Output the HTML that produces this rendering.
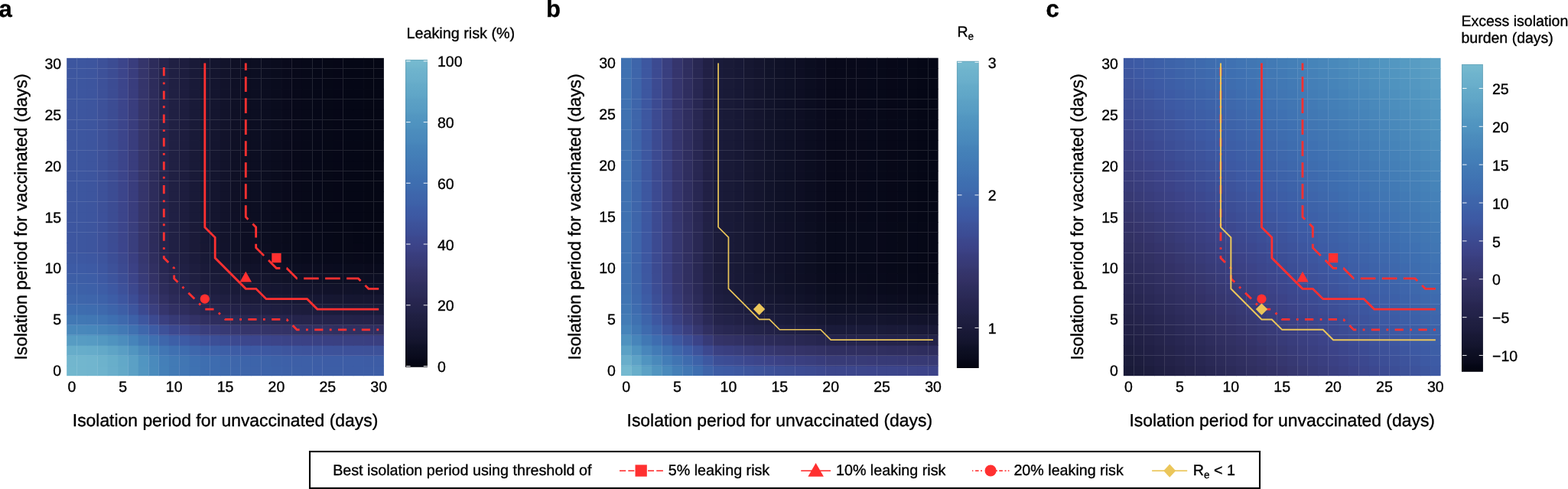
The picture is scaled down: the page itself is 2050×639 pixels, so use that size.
<!DOCTYPE html>
<html><head><meta charset="utf-8"><title>Isolation period heatmaps</title>
<style>html,body{margin:0;padding:0;background:#fff;width:2050px;height:639px;overflow:hidden}svg text{stroke:#000;stroke-width:0.35px}</style>
</head><body>
<svg width="2050" height="639" viewBox="0 0 2050 639" text-rendering="geometricPrecision" style="display:block;font-family:'Liberation Sans',Arial,Helvetica,sans-serif;fill:#000">
<rect x="0" y="0" width="2050" height="639" fill="#fff"/>
<text x="-1.6" y="21.6" style="font-weight:bold;font-size:31px">a</text>
<text x="714.0" y="21.6" style="font-weight:bold;font-size:31px">b</text>
<text x="1367.6" y="21.6" style="font-weight:bold;font-size:31px">c</text>
<rect x="87.2" y="477.76" width="14.08" height="13.4" fill="#72b7ce"/>
<rect x="100.58" y="477.76" width="14.08" height="13.4" fill="#72b6ce"/>
<rect x="113.95" y="477.76" width="14.08" height="13.4" fill="#71b5ce"/>
<rect x="127.33" y="477.76" width="14.08" height="13.4" fill="#6eb3cd"/>
<rect x="140.71" y="477.76" width="14.08" height="13.4" fill="#69aecb"/>
<rect x="154.09" y="477.76" width="14.08" height="13.4" fill="#63a9c8"/>
<rect x="167.46" y="477.76" width="14.08" height="13.4" fill="#5ba0c5"/>
<rect x="180.84" y="477.76" width="14.08" height="13.4" fill="#5296c1"/>
<rect x="194.22" y="477.76" width="14.08" height="13.4" fill="#4a8bbc"/>
<rect x="207.59" y="477.76" width="14.08" height="13.4" fill="#4480b8"/>
<rect x="220.97" y="477.76" width="14.08" height="13.4" fill="#427ab5"/>
<rect x="234.35" y="477.76" width="14.08" height="13.4" fill="#4176b4"/>
<rect x="247.72" y="477.76" width="14.08" height="13.4" fill="#3f72b2"/>
<rect x="261.1" y="477.76" width="14.08" height="13.4" fill="#3e6eb0"/>
<rect x="274.48" y="477.76" width="14.08" height="13.4" fill="#3e6caf"/>
<rect x="287.86" y="477.76" width="14.08" height="13.4" fill="#3e6aad"/>
<rect x="301.23" y="477.76" width="14.08" height="13.4" fill="#3e67ac"/>
<rect x="314.61" y="477.76" width="14.08" height="13.4" fill="#3e65aa"/>
<rect x="327.99" y="477.76" width="14.08" height="13.4" fill="#3e64aa"/>
<rect x="341.36" y="477.76" width="14.08" height="13.4" fill="#3d63aa"/>
<rect x="354.74" y="477.76" width="14.08" height="13.4" fill="#3d62a9"/>
<rect x="368.12" y="477.76" width="14.08" height="13.4" fill="#3d61a8"/>
<rect x="381.49" y="477.76" width="14.08" height="13.4" fill="#3d60a7"/>
<rect x="394.87" y="477.76" width="14.08" height="13.4" fill="#3d5fa7"/>
<rect x="408.25" y="477.76" width="14.08" height="13.4" fill="#3d5ea7"/>
<rect x="421.62" y="477.76" width="14.08" height="13.4" fill="#3d5ea6"/>
<rect x="435" y="477.76" width="14.08" height="13.4" fill="#3d5ea6"/>
<rect x="448.38" y="477.76" width="14.08" height="13.4" fill="#3d5da6"/>
<rect x="461.76" y="477.76" width="14.08" height="13.4" fill="#3d5da6"/>
<rect x="475.13" y="477.76" width="14.08" height="13.4" fill="#3d5da6"/>
<rect x="488.51" y="477.76" width="13.38" height="13.4" fill="#3d5da6"/>
<rect x="87.2" y="464.36" width="14.08" height="14.1" fill="#72b6ce"/>
<rect x="100.58" y="464.36" width="14.08" height="14.1" fill="#72b6ce"/>
<rect x="113.95" y="464.36" width="14.08" height="14.1" fill="#71b5ce"/>
<rect x="127.33" y="464.36" width="14.08" height="14.1" fill="#6db2cc"/>
<rect x="140.71" y="464.36" width="14.08" height="14.1" fill="#68aeca"/>
<rect x="154.09" y="464.36" width="14.08" height="14.1" fill="#62a8c8"/>
<rect x="167.46" y="464.36" width="14.08" height="14.1" fill="#5ba0c5"/>
<rect x="180.84" y="464.36" width="14.08" height="14.1" fill="#5195c1"/>
<rect x="194.22" y="464.36" width="14.08" height="14.1" fill="#4a8abc"/>
<rect x="207.59" y="464.36" width="14.08" height="14.1" fill="#447fb8"/>
<rect x="220.97" y="464.36" width="14.08" height="14.1" fill="#427ab5"/>
<rect x="234.35" y="464.36" width="14.08" height="14.1" fill="#4176b3"/>
<rect x="247.72" y="464.36" width="14.08" height="14.1" fill="#3f71b2"/>
<rect x="261.1" y="464.36" width="14.08" height="14.1" fill="#3e6eb0"/>
<rect x="274.48" y="464.36" width="14.08" height="14.1" fill="#3e6caf"/>
<rect x="287.86" y="464.36" width="14.08" height="14.1" fill="#3e69ad"/>
<rect x="301.23" y="464.36" width="14.08" height="14.1" fill="#3e66ab"/>
<rect x="314.61" y="464.36" width="14.08" height="14.1" fill="#3d64aa"/>
<rect x="327.99" y="464.36" width="14.08" height="14.1" fill="#3d64aa"/>
<rect x="341.36" y="464.36" width="14.08" height="14.1" fill="#3d63a9"/>
<rect x="354.74" y="464.36" width="14.08" height="14.1" fill="#3d61a8"/>
<rect x="368.12" y="464.36" width="14.08" height="14.1" fill="#3d60a8"/>
<rect x="381.49" y="464.36" width="14.08" height="14.1" fill="#3d5fa7"/>
<rect x="394.87" y="464.36" width="14.08" height="14.1" fill="#3d5fa7"/>
<rect x="408.25" y="464.36" width="14.08" height="14.1" fill="#3d5ea6"/>
<rect x="421.62" y="464.36" width="14.08" height="14.1" fill="#3d5da6"/>
<rect x="435" y="464.36" width="14.08" height="14.1" fill="#3d5da6"/>
<rect x="448.38" y="464.36" width="14.08" height="14.1" fill="#3d5da6"/>
<rect x="461.76" y="464.36" width="14.08" height="14.1" fill="#3d5da6"/>
<rect x="475.13" y="464.36" width="14.08" height="14.1" fill="#3d5ca5"/>
<rect x="488.51" y="464.36" width="13.38" height="14.1" fill="#3d5ca5"/>
<rect x="87.2" y="450.97" width="14.08" height="14.1" fill="#67adca"/>
<rect x="100.58" y="450.97" width="14.08" height="14.1" fill="#67adca"/>
<rect x="113.95" y="450.97" width="14.08" height="14.1" fill="#66acca"/>
<rect x="127.33" y="450.97" width="14.08" height="14.1" fill="#63a9c8"/>
<rect x="140.71" y="450.97" width="14.08" height="14.1" fill="#5ea4c6"/>
<rect x="154.09" y="450.97" width="14.08" height="14.1" fill="#599ec4"/>
<rect x="167.46" y="450.97" width="14.08" height="14.1" fill="#5195c0"/>
<rect x="180.84" y="450.97" width="14.08" height="14.1" fill="#4b8bbc"/>
<rect x="194.22" y="450.97" width="14.08" height="14.1" fill="#4480b8"/>
<rect x="207.59" y="450.97" width="14.08" height="14.1" fill="#4176b4"/>
<rect x="220.97" y="450.97" width="14.08" height="14.1" fill="#3f70b1"/>
<rect x="234.35" y="450.97" width="14.08" height="14.1" fill="#3e6caf"/>
<rect x="247.72" y="450.97" width="14.08" height="14.1" fill="#3e67ac"/>
<rect x="261.1" y="450.97" width="14.08" height="14.1" fill="#3d63aa"/>
<rect x="274.48" y="450.97" width="14.08" height="14.1" fill="#3d61a8"/>
<rect x="287.86" y="450.97" width="14.08" height="14.1" fill="#3d5fa7"/>
<rect x="301.23" y="450.97" width="14.08" height="14.1" fill="#3d5ca5"/>
<rect x="314.61" y="450.97" width="14.08" height="14.1" fill="#3d59a3"/>
<rect x="327.99" y="450.97" width="14.08" height="14.1" fill="#3d59a3"/>
<rect x="341.36" y="450.97" width="14.08" height="14.1" fill="#3d58a2"/>
<rect x="354.74" y="450.97" width="14.08" height="14.1" fill="#3d57a0"/>
<rect x="368.12" y="450.97" width="14.08" height="14.1" fill="#3d559e"/>
<rect x="381.49" y="450.97" width="14.08" height="14.1" fill="#3d549d"/>
<rect x="394.87" y="450.97" width="14.08" height="14.1" fill="#3d539c"/>
<rect x="408.25" y="450.97" width="14.08" height="14.1" fill="#3d539b"/>
<rect x="421.62" y="450.97" width="14.08" height="14.1" fill="#3d529b"/>
<rect x="435" y="450.97" width="14.08" height="14.1" fill="#3d529a"/>
<rect x="448.38" y="450.97" width="14.08" height="14.1" fill="#3d519a"/>
<rect x="461.76" y="450.97" width="14.08" height="14.1" fill="#3d519a"/>
<rect x="475.13" y="450.97" width="14.08" height="14.1" fill="#3d5199"/>
<rect x="488.51" y="450.97" width="13.38" height="14.1" fill="#3d5199"/>
<rect x="87.2" y="437.57" width="14.08" height="14.1" fill="#579cc3"/>
<rect x="100.58" y="437.57" width="14.08" height="14.1" fill="#579cc3"/>
<rect x="113.95" y="437.57" width="14.08" height="14.1" fill="#569bc3"/>
<rect x="127.33" y="437.57" width="14.08" height="14.1" fill="#5398c1"/>
<rect x="140.71" y="437.57" width="14.08" height="14.1" fill="#4f93bf"/>
<rect x="154.09" y="437.57" width="14.08" height="14.1" fill="#4c8dbd"/>
<rect x="167.46" y="437.57" width="14.08" height="14.1" fill="#4684ba"/>
<rect x="180.84" y="437.57" width="14.08" height="14.1" fill="#427ab5"/>
<rect x="194.22" y="437.57" width="14.08" height="14.1" fill="#3f70b1"/>
<rect x="207.59" y="437.57" width="14.08" height="14.1" fill="#3e66ab"/>
<rect x="220.97" y="437.57" width="14.08" height="14.1" fill="#3d5fa7"/>
<rect x="234.35" y="437.57" width="14.08" height="14.1" fill="#3d5ba5"/>
<rect x="247.72" y="437.57" width="14.08" height="14.1" fill="#3d569f"/>
<rect x="261.1" y="437.57" width="14.08" height="14.1" fill="#3d519a"/>
<rect x="274.48" y="437.57" width="14.08" height="14.1" fill="#3c4f97"/>
<rect x="287.86" y="437.57" width="14.08" height="14.1" fill="#3c4c94"/>
<rect x="301.23" y="437.57" width="14.08" height="14.1" fill="#3c4990"/>
<rect x="314.61" y="437.57" width="14.08" height="14.1" fill="#3c478d"/>
<rect x="327.99" y="437.57" width="14.08" height="14.1" fill="#3c468d"/>
<rect x="341.36" y="437.57" width="14.08" height="14.1" fill="#3c458b"/>
<rect x="354.74" y="437.57" width="14.08" height="14.1" fill="#3c4489"/>
<rect x="368.12" y="437.57" width="14.08" height="14.1" fill="#3b4387"/>
<rect x="381.49" y="437.57" width="14.08" height="14.1" fill="#3b4286"/>
<rect x="394.87" y="437.57" width="14.08" height="14.1" fill="#3b4185"/>
<rect x="408.25" y="437.57" width="14.08" height="14.1" fill="#3a4184"/>
<rect x="421.62" y="437.57" width="14.08" height="14.1" fill="#3a4083"/>
<rect x="435" y="437.57" width="14.08" height="14.1" fill="#3a4082"/>
<rect x="448.38" y="437.57" width="14.08" height="14.1" fill="#3a4082"/>
<rect x="461.76" y="437.57" width="14.08" height="14.1" fill="#3a4081"/>
<rect x="475.13" y="437.57" width="14.08" height="14.1" fill="#3a3f81"/>
<rect x="488.51" y="437.57" width="13.38" height="14.1" fill="#3a3f80"/>
<rect x="87.2" y="424.17" width="14.08" height="14.1" fill="#4988bb"/>
<rect x="100.58" y="424.17" width="14.08" height="14.1" fill="#4988bb"/>
<rect x="113.95" y="424.17" width="14.08" height="14.1" fill="#4887bb"/>
<rect x="127.33" y="424.17" width="14.08" height="14.1" fill="#4683b9"/>
<rect x="140.71" y="424.17" width="14.08" height="14.1" fill="#447fb7"/>
<rect x="154.09" y="424.17" width="14.08" height="14.1" fill="#4279b5"/>
<rect x="167.46" y="424.17" width="14.08" height="14.1" fill="#3f71b1"/>
<rect x="180.84" y="424.17" width="14.08" height="14.1" fill="#3e67ac"/>
<rect x="194.22" y="424.17" width="14.08" height="14.1" fill="#3d5ca5"/>
<rect x="207.59" y="424.17" width="14.08" height="14.1" fill="#3d5199"/>
<rect x="220.97" y="424.17" width="14.08" height="14.1" fill="#3c4990"/>
<rect x="234.35" y="424.17" width="14.08" height="14.1" fill="#3c458b"/>
<rect x="247.72" y="424.17" width="14.08" height="14.1" fill="#3a4183"/>
<rect x="261.1" y="424.17" width="14.08" height="14.1" fill="#393d7c"/>
<rect x="274.48" y="424.17" width="14.08" height="14.1" fill="#383b78"/>
<rect x="287.86" y="424.17" width="14.08" height="14.1" fill="#373974"/>
<rect x="301.23" y="424.17" width="14.08" height="14.1" fill="#363770"/>
<rect x="314.61" y="424.17" width="14.08" height="14.1" fill="#35356b"/>
<rect x="327.99" y="424.17" width="14.08" height="14.1" fill="#35346b"/>
<rect x="341.36" y="424.17" width="14.08" height="14.1" fill="#343469"/>
<rect x="354.74" y="424.17" width="14.08" height="14.1" fill="#343367"/>
<rect x="368.12" y="424.17" width="14.08" height="14.1" fill="#333266"/>
<rect x="381.49" y="424.17" width="14.08" height="14.1" fill="#323164"/>
<rect x="394.87" y="424.17" width="14.08" height="14.1" fill="#313063"/>
<rect x="408.25" y="424.17" width="14.08" height="14.1" fill="#313062"/>
<rect x="421.62" y="424.17" width="14.08" height="14.1" fill="#313062"/>
<rect x="435" y="424.17" width="14.08" height="14.1" fill="#302f61"/>
<rect x="448.38" y="424.17" width="14.08" height="14.1" fill="#302f61"/>
<rect x="461.76" y="424.17" width="14.08" height="14.1" fill="#302f60"/>
<rect x="475.13" y="424.17" width="14.08" height="14.1" fill="#302f60"/>
<rect x="488.51" y="424.17" width="13.38" height="14.1" fill="#302f60"/>
<rect x="87.2" y="410.77" width="14.08" height="14.1" fill="#4178b4"/>
<rect x="100.58" y="410.77" width="14.08" height="14.1" fill="#4178b4"/>
<rect x="113.95" y="410.77" width="14.08" height="14.1" fill="#4177b4"/>
<rect x="127.33" y="410.77" width="14.08" height="14.1" fill="#4074b3"/>
<rect x="140.71" y="410.77" width="14.08" height="14.1" fill="#3e6fb1"/>
<rect x="154.09" y="410.77" width="14.08" height="14.1" fill="#3e69ad"/>
<rect x="167.46" y="410.77" width="14.08" height="14.1" fill="#3d61a8"/>
<rect x="180.84" y="410.77" width="14.08" height="14.1" fill="#3d569f"/>
<rect x="194.22" y="410.77" width="14.08" height="14.1" fill="#3c4a91"/>
<rect x="207.59" y="410.77" width="14.08" height="14.1" fill="#3a3f80"/>
<rect x="220.97" y="410.77" width="14.08" height="14.1" fill="#373a76"/>
<rect x="234.35" y="410.77" width="14.08" height="14.1" fill="#35366e"/>
<rect x="247.72" y="410.77" width="14.08" height="14.1" fill="#333267"/>
<rect x="261.1" y="410.77" width="14.08" height="14.1" fill="#302f61"/>
<rect x="274.48" y="410.77" width="14.08" height="14.1" fill="#2e2d5e"/>
<rect x="287.86" y="410.77" width="14.08" height="14.1" fill="#2d2c5a"/>
<rect x="301.23" y="410.77" width="14.08" height="14.1" fill="#2b2a57"/>
<rect x="314.61" y="410.77" width="14.08" height="14.1" fill="#292853"/>
<rect x="327.99" y="410.77" width="14.08" height="14.1" fill="#292853"/>
<rect x="341.36" y="410.77" width="14.08" height="14.1" fill="#282751"/>
<rect x="354.74" y="410.77" width="14.08" height="14.1" fill="#27264f"/>
<rect x="368.12" y="410.77" width="14.08" height="14.1" fill="#26254e"/>
<rect x="381.49" y="410.77" width="14.08" height="14.1" fill="#25244c"/>
<rect x="394.87" y="410.77" width="14.08" height="14.1" fill="#25244b"/>
<rect x="408.25" y="410.77" width="14.08" height="14.1" fill="#24234b"/>
<rect x="421.62" y="410.77" width="14.08" height="14.1" fill="#24234a"/>
<rect x="435" y="410.77" width="14.08" height="14.1" fill="#24234a"/>
<rect x="448.38" y="410.77" width="14.08" height="14.1" fill="#232349"/>
<rect x="461.76" y="410.77" width="14.08" height="14.1" fill="#232249"/>
<rect x="475.13" y="410.77" width="14.08" height="14.1" fill="#232249"/>
<rect x="488.51" y="410.77" width="13.38" height="14.1" fill="#232248"/>
<rect x="87.2" y="397.38" width="14.08" height="14.1" fill="#3e6db0"/>
<rect x="100.58" y="397.38" width="14.08" height="14.1" fill="#3e6daf"/>
<rect x="113.95" y="397.38" width="14.08" height="14.1" fill="#3e6caf"/>
<rect x="127.33" y="397.38" width="14.08" height="14.1" fill="#3e69ad"/>
<rect x="140.71" y="397.38" width="14.08" height="14.1" fill="#3d64aa"/>
<rect x="154.09" y="397.38" width="14.08" height="14.1" fill="#3d5ea6"/>
<rect x="167.46" y="397.38" width="14.08" height="14.1" fill="#3d559e"/>
<rect x="180.84" y="397.38" width="14.08" height="14.1" fill="#3c4990"/>
<rect x="194.22" y="397.38" width="14.08" height="14.1" fill="#3a3f7f"/>
<rect x="207.59" y="397.38" width="14.08" height="14.1" fill="#35356d"/>
<rect x="220.97" y="397.38" width="14.08" height="14.1" fill="#313063"/>
<rect x="234.35" y="397.38" width="14.08" height="14.1" fill="#2e2d5d"/>
<rect x="247.72" y="397.38" width="14.08" height="14.1" fill="#2b2a56"/>
<rect x="261.1" y="397.38" width="14.08" height="14.1" fill="#272651"/>
<rect x="274.48" y="397.38" width="14.08" height="14.1" fill="#26254e"/>
<rect x="287.86" y="397.38" width="14.08" height="14.1" fill="#24234a"/>
<rect x="301.23" y="397.38" width="14.08" height="14.1" fill="#222147"/>
<rect x="314.61" y="397.38" width="14.08" height="14.1" fill="#202044"/>
<rect x="327.99" y="397.38" width="14.08" height="14.1" fill="#202043"/>
<rect x="341.36" y="397.38" width="14.08" height="14.1" fill="#1f1f42"/>
<rect x="354.74" y="397.38" width="14.08" height="14.1" fill="#1e1e40"/>
<rect x="368.12" y="397.38" width="14.08" height="14.1" fill="#1d1d3f"/>
<rect x="381.49" y="397.38" width="14.08" height="14.1" fill="#1d1d3d"/>
<rect x="394.87" y="397.38" width="14.08" height="14.1" fill="#1c1c3c"/>
<rect x="408.25" y="397.38" width="14.08" height="14.1" fill="#1c1c3c"/>
<rect x="421.62" y="397.38" width="14.08" height="14.1" fill="#1b1c3b"/>
<rect x="435" y="397.38" width="14.08" height="14.1" fill="#1b1b3b"/>
<rect x="448.38" y="397.38" width="14.08" height="14.1" fill="#1b1b3a"/>
<rect x="461.76" y="397.38" width="14.08" height="14.1" fill="#1b1b3a"/>
<rect x="475.13" y="397.38" width="14.08" height="14.1" fill="#1a1b3a"/>
<rect x="488.51" y="397.38" width="13.38" height="14.1" fill="#1a1b39"/>
<rect x="87.2" y="383.98" width="14.08" height="14.1" fill="#3e66ab"/>
<rect x="100.58" y="383.98" width="14.08" height="14.1" fill="#3e66ab"/>
<rect x="113.95" y="383.98" width="14.08" height="14.1" fill="#3e65ab"/>
<rect x="127.33" y="383.98" width="14.08" height="14.1" fill="#3d62a9"/>
<rect x="140.71" y="383.98" width="14.08" height="14.1" fill="#3d5da6"/>
<rect x="154.09" y="383.98" width="14.08" height="14.1" fill="#3d56a0"/>
<rect x="167.46" y="383.98" width="14.08" height="14.1" fill="#3c4d95"/>
<rect x="180.84" y="383.98" width="14.08" height="14.1" fill="#3b4286"/>
<rect x="194.22" y="383.98" width="14.08" height="14.1" fill="#373973"/>
<rect x="207.59" y="383.98" width="14.08" height="14.1" fill="#313062"/>
<rect x="220.97" y="383.98" width="14.08" height="14.1" fill="#2c2b59"/>
<rect x="234.35" y="383.98" width="14.08" height="14.1" fill="#292853"/>
<rect x="247.72" y="383.98" width="14.08" height="14.1" fill="#25244d"/>
<rect x="261.1" y="383.98" width="14.08" height="14.1" fill="#222247"/>
<rect x="274.48" y="383.98" width="14.08" height="14.1" fill="#212044"/>
<rect x="287.86" y="383.98" width="14.08" height="14.1" fill="#1f1f41"/>
<rect x="301.23" y="383.98" width="14.08" height="14.1" fill="#1d1d3e"/>
<rect x="314.61" y="383.98" width="14.08" height="14.1" fill="#1b1b3a"/>
<rect x="327.99" y="383.98" width="14.08" height="14.1" fill="#1b1b3a"/>
<rect x="341.36" y="383.98" width="14.08" height="14.1" fill="#1a1a39"/>
<rect x="354.74" y="383.98" width="14.08" height="14.1" fill="#191a37"/>
<rect x="368.12" y="383.98" width="14.08" height="14.1" fill="#181935"/>
<rect x="381.49" y="383.98" width="14.08" height="14.1" fill="#171834"/>
<rect x="394.87" y="383.98" width="14.08" height="14.1" fill="#171833"/>
<rect x="408.25" y="383.98" width="14.08" height="14.1" fill="#161733"/>
<rect x="421.62" y="383.98" width="14.08" height="14.1" fill="#161732"/>
<rect x="435" y="383.98" width="14.08" height="14.1" fill="#161731"/>
<rect x="448.38" y="383.98" width="14.08" height="14.1" fill="#151631"/>
<rect x="461.76" y="383.98" width="14.08" height="14.1" fill="#151630"/>
<rect x="475.13" y="383.98" width="14.08" height="14.1" fill="#151630"/>
<rect x="488.51" y="383.98" width="13.38" height="14.1" fill="#151630"/>
<rect x="87.2" y="370.58" width="14.08" height="14.1" fill="#3d62a9"/>
<rect x="100.58" y="370.58" width="14.08" height="14.1" fill="#3d61a8"/>
<rect x="113.95" y="370.58" width="14.08" height="14.1" fill="#3d60a8"/>
<rect x="127.33" y="370.58" width="14.08" height="14.1" fill="#3d5da6"/>
<rect x="140.71" y="370.58" width="14.08" height="14.1" fill="#3d58a2"/>
<rect x="154.09" y="370.58" width="14.08" height="14.1" fill="#3d519a"/>
<rect x="167.46" y="370.58" width="14.08" height="14.1" fill="#3c488e"/>
<rect x="180.84" y="370.58" width="14.08" height="14.1" fill="#393e7e"/>
<rect x="194.22" y="370.58" width="14.08" height="14.1" fill="#35356b"/>
<rect x="207.59" y="370.58" width="14.08" height="14.1" fill="#2d2c5b"/>
<rect x="220.97" y="370.58" width="14.08" height="14.1" fill="#292853"/>
<rect x="234.35" y="370.58" width="14.08" height="14.1" fill="#25244d"/>
<rect x="247.72" y="370.58" width="14.08" height="14.1" fill="#222146"/>
<rect x="261.1" y="370.58" width="14.08" height="14.1" fill="#1f1e41"/>
<rect x="274.48" y="370.58" width="14.08" height="14.1" fill="#1d1d3e"/>
<rect x="287.86" y="370.58" width="14.08" height="14.1" fill="#1b1c3b"/>
<rect x="301.23" y="370.58" width="14.08" height="14.1" fill="#191a38"/>
<rect x="314.61" y="370.58" width="14.08" height="14.1" fill="#171834"/>
<rect x="327.99" y="370.58" width="14.08" height="14.1" fill="#171834"/>
<rect x="341.36" y="370.58" width="14.08" height="14.1" fill="#161732"/>
<rect x="354.74" y="370.58" width="14.08" height="14.1" fill="#151631"/>
<rect x="368.12" y="370.58" width="14.08" height="14.1" fill="#14152f"/>
<rect x="381.49" y="370.58" width="14.08" height="14.1" fill="#13142d"/>
<rect x="394.87" y="370.58" width="14.08" height="14.1" fill="#12132c"/>
<rect x="408.25" y="370.58" width="14.08" height="14.1" fill="#12132b"/>
<rect x="421.62" y="370.58" width="14.08" height="14.1" fill="#11122a"/>
<rect x="435" y="370.58" width="14.08" height="14.1" fill="#111229"/>
<rect x="448.38" y="370.58" width="14.08" height="14.1" fill="#111229"/>
<rect x="461.76" y="370.58" width="14.08" height="14.1" fill="#101229"/>
<rect x="475.13" y="370.58" width="14.08" height="14.1" fill="#101128"/>
<rect x="488.51" y="370.58" width="13.38" height="14.1" fill="#101128"/>
<rect x="87.2" y="357.19" width="14.08" height="14.1" fill="#3d5ea6"/>
<rect x="100.58" y="357.19" width="14.08" height="14.1" fill="#3d5ea6"/>
<rect x="113.95" y="357.19" width="14.08" height="14.1" fill="#3d5da6"/>
<rect x="127.33" y="357.19" width="14.08" height="14.1" fill="#3d59a3"/>
<rect x="140.71" y="357.19" width="14.08" height="14.1" fill="#3d549d"/>
<rect x="154.09" y="357.19" width="14.08" height="14.1" fill="#3c4d95"/>
<rect x="167.46" y="357.19" width="14.08" height="14.1" fill="#3c4489"/>
<rect x="180.84" y="357.19" width="14.08" height="14.1" fill="#383b78"/>
<rect x="194.22" y="357.19" width="14.08" height="14.1" fill="#333266"/>
<rect x="207.59" y="357.19" width="14.08" height="14.1" fill="#2b2a56"/>
<rect x="220.97" y="357.19" width="14.08" height="14.1" fill="#26254d"/>
<rect x="234.35" y="357.19" width="14.08" height="14.1" fill="#222248"/>
<rect x="247.72" y="357.19" width="14.08" height="14.1" fill="#1f1f41"/>
<rect x="261.1" y="357.19" width="14.08" height="14.1" fill="#1c1c3c"/>
<rect x="274.48" y="357.19" width="14.08" height="14.1" fill="#1a1b39"/>
<rect x="287.86" y="357.19" width="14.08" height="14.1" fill="#181936"/>
<rect x="301.23" y="357.19" width="14.08" height="14.1" fill="#161733"/>
<rect x="314.61" y="357.19" width="14.08" height="14.1" fill="#14152f"/>
<rect x="327.99" y="357.19" width="14.08" height="14.1" fill="#14152e"/>
<rect x="341.36" y="357.19" width="14.08" height="14.1" fill="#13142c"/>
<rect x="354.74" y="357.19" width="14.08" height="14.1" fill="#11132a"/>
<rect x="368.12" y="357.19" width="14.08" height="14.1" fill="#101228"/>
<rect x="381.49" y="357.19" width="14.08" height="14.1" fill="#0f1127"/>
<rect x="394.87" y="357.19" width="14.08" height="14.1" fill="#0f1026"/>
<rect x="408.25" y="357.19" width="14.08" height="14.1" fill="#0e0f25"/>
<rect x="421.62" y="357.19" width="14.08" height="14.1" fill="#0d0f24"/>
<rect x="435" y="357.19" width="14.08" height="14.1" fill="#0d0f23"/>
<rect x="448.38" y="357.19" width="14.08" height="14.1" fill="#0d0e23"/>
<rect x="461.76" y="357.19" width="14.08" height="14.1" fill="#0d0e22"/>
<rect x="475.13" y="357.19" width="14.08" height="14.1" fill="#0c0e22"/>
<rect x="488.51" y="357.19" width="13.38" height="14.1" fill="#0c0e22"/>
<rect x="87.2" y="343.79" width="14.08" height="14.1" fill="#3d5ba5"/>
<rect x="100.58" y="343.79" width="14.08" height="14.1" fill="#3d5ba5"/>
<rect x="113.95" y="343.79" width="14.08" height="14.1" fill="#3d5aa4"/>
<rect x="127.33" y="343.79" width="14.08" height="14.1" fill="#3d56a0"/>
<rect x="140.71" y="343.79" width="14.08" height="14.1" fill="#3d5199"/>
<rect x="154.09" y="343.79" width="14.08" height="14.1" fill="#3c4a91"/>
<rect x="167.46" y="343.79" width="14.08" height="14.1" fill="#3b4185"/>
<rect x="180.84" y="343.79" width="14.08" height="14.1" fill="#373973"/>
<rect x="194.22" y="343.79" width="14.08" height="14.1" fill="#313062"/>
<rect x="207.59" y="343.79" width="14.08" height="14.1" fill="#282752"/>
<rect x="220.97" y="343.79" width="14.08" height="14.1" fill="#24234a"/>
<rect x="234.35" y="343.79" width="14.08" height="14.1" fill="#202044"/>
<rect x="247.72" y="343.79" width="14.08" height="14.1" fill="#1d1d3e"/>
<rect x="261.1" y="343.79" width="14.08" height="14.1" fill="#1a1a39"/>
<rect x="274.48" y="343.79" width="14.08" height="14.1" fill="#181936"/>
<rect x="287.86" y="343.79" width="14.08" height="14.1" fill="#161733"/>
<rect x="301.23" y="343.79" width="14.08" height="14.1" fill="#14152e"/>
<rect x="314.61" y="343.79" width="14.08" height="14.1" fill="#11132a"/>
<rect x="327.99" y="343.79" width="14.08" height="14.1" fill="#11122a"/>
<rect x="341.36" y="343.79" width="14.08" height="14.1" fill="#101128"/>
<rect x="354.74" y="343.79" width="14.08" height="14.1" fill="#0f1026"/>
<rect x="368.12" y="343.79" width="14.08" height="14.1" fill="#0d0f24"/>
<rect x="381.49" y="343.79" width="14.08" height="14.1" fill="#0c0e22"/>
<rect x="394.87" y="343.79" width="14.08" height="14.1" fill="#0c0d21"/>
<rect x="408.25" y="343.79" width="14.08" height="14.1" fill="#0b0d20"/>
<rect x="421.62" y="343.79" width="14.08" height="14.1" fill="#0b0c1f"/>
<rect x="435" y="343.79" width="14.08" height="14.1" fill="#0a0c1f"/>
<rect x="448.38" y="343.79" width="14.08" height="14.1" fill="#0a0c1e"/>
<rect x="461.76" y="343.79" width="14.08" height="14.1" fill="#0a0c1e"/>
<rect x="475.13" y="343.79" width="14.08" height="14.1" fill="#0a0b1d"/>
<rect x="488.51" y="343.79" width="13.38" height="14.1" fill="#090b1d"/>
<rect x="87.2" y="330.39" width="14.08" height="14.1" fill="#3d59a2"/>
<rect x="100.58" y="330.39" width="14.08" height="14.1" fill="#3d58a2"/>
<rect x="113.95" y="330.39" width="14.08" height="14.1" fill="#3d57a1"/>
<rect x="127.33" y="330.39" width="14.08" height="14.1" fill="#3d549d"/>
<rect x="140.71" y="330.39" width="14.08" height="14.1" fill="#3c4e96"/>
<rect x="154.09" y="330.39" width="14.08" height="14.1" fill="#3c488e"/>
<rect x="167.46" y="330.39" width="14.08" height="14.1" fill="#3a3f81"/>
<rect x="180.84" y="330.39" width="14.08" height="14.1" fill="#36376f"/>
<rect x="194.22" y="330.39" width="14.08" height="14.1" fill="#2f2e5e"/>
<rect x="207.59" y="330.39" width="14.08" height="14.1" fill="#27264f"/>
<rect x="220.97" y="330.39" width="14.08" height="14.1" fill="#222147"/>
<rect x="234.35" y="330.39" width="14.08" height="14.1" fill="#1f1f41"/>
<rect x="247.72" y="330.39" width="14.08" height="14.1" fill="#1b1b3b"/>
<rect x="261.1" y="330.39" width="14.08" height="14.1" fill="#181936"/>
<rect x="274.48" y="330.39" width="14.08" height="14.1" fill="#161733"/>
<rect x="287.86" y="330.39" width="14.08" height="14.1" fill="#14152f"/>
<rect x="301.23" y="330.39" width="14.08" height="14.1" fill="#11132a"/>
<rect x="314.61" y="330.39" width="14.08" height="14.1" fill="#0f1026"/>
<rect x="327.99" y="330.39" width="14.08" height="14.1" fill="#0f1026"/>
<rect x="341.36" y="330.39" width="14.08" height="14.1" fill="#0e0f24"/>
<rect x="354.74" y="330.39" width="14.08" height="14.1" fill="#0c0e22"/>
<rect x="368.12" y="330.39" width="14.08" height="14.1" fill="#0b0d20"/>
<rect x="381.49" y="330.39" width="14.08" height="14.1" fill="#0a0c1e"/>
<rect x="394.87" y="330.39" width="14.08" height="14.1" fill="#090b1d"/>
<rect x="408.25" y="330.39" width="14.08" height="14.1" fill="#090b1c"/>
<rect x="421.62" y="330.39" width="14.08" height="14.1" fill="#080a1b"/>
<rect x="435" y="330.39" width="14.08" height="14.1" fill="#080a1b"/>
<rect x="448.38" y="330.39" width="14.08" height="14.1" fill="#080a1a"/>
<rect x="461.76" y="330.39" width="14.08" height="14.1" fill="#08091a"/>
<rect x="475.13" y="330.39" width="14.08" height="14.1" fill="#070919"/>
<rect x="488.51" y="330.39" width="13.38" height="14.1" fill="#070919"/>
<rect x="87.2" y="317" width="14.08" height="14.1" fill="#3d56a0"/>
<rect x="100.58" y="317" width="14.08" height="14.1" fill="#3d569f"/>
<rect x="113.95" y="317" width="14.08" height="14.1" fill="#3d559e"/>
<rect x="127.33" y="317" width="14.08" height="14.1" fill="#3d519a"/>
<rect x="140.71" y="317" width="14.08" height="14.1" fill="#3c4c94"/>
<rect x="154.09" y="317" width="14.08" height="14.1" fill="#3c458c"/>
<rect x="167.46" y="317" width="14.08" height="14.1" fill="#393e7d"/>
<rect x="180.84" y="317" width="14.08" height="14.1" fill="#35356c"/>
<rect x="194.22" y="317" width="14.08" height="14.1" fill="#2d2c5c"/>
<rect x="207.59" y="317" width="14.08" height="14.1" fill="#25244c"/>
<rect x="220.97" y="317" width="14.08" height="14.1" fill="#202044"/>
<rect x="234.35" y="317" width="14.08" height="14.1" fill="#1d1d3e"/>
<rect x="247.72" y="317" width="14.08" height="14.1" fill="#1a1a38"/>
<rect x="261.1" y="317" width="14.08" height="14.1" fill="#171733"/>
<rect x="274.48" y="317" width="14.08" height="14.1" fill="#14162f"/>
<rect x="287.86" y="317" width="14.08" height="14.1" fill="#12132c"/>
<rect x="301.23" y="317" width="14.08" height="14.1" fill="#0f1127"/>
<rect x="314.61" y="317" width="14.08" height="14.1" fill="#0d0e23"/>
<rect x="327.99" y="317" width="14.08" height="14.1" fill="#0d0e22"/>
<rect x="341.36" y="317" width="14.08" height="14.1" fill="#0c0d21"/>
<rect x="354.74" y="317" width="14.08" height="14.1" fill="#0a0c1e"/>
<rect x="368.12" y="317" width="14.08" height="14.1" fill="#090b1d"/>
<rect x="381.49" y="317" width="14.08" height="14.1" fill="#080a1b"/>
<rect x="394.87" y="317" width="14.08" height="14.1" fill="#07091a"/>
<rect x="408.25" y="317" width="14.08" height="14.1" fill="#070919"/>
<rect x="421.62" y="317" width="14.08" height="14.1" fill="#060818"/>
<rect x="435" y="317" width="14.08" height="14.1" fill="#060817"/>
<rect x="448.38" y="317" width="14.08" height="14.1" fill="#060817"/>
<rect x="461.76" y="317" width="14.08" height="14.1" fill="#060717"/>
<rect x="475.13" y="317" width="14.08" height="14.1" fill="#050716"/>
<rect x="488.51" y="317" width="13.38" height="14.1" fill="#050716"/>
<rect x="87.2" y="303.6" width="14.08" height="14.1" fill="#3d56a0"/>
<rect x="100.58" y="303.6" width="14.08" height="14.1" fill="#3d569f"/>
<rect x="113.95" y="303.6" width="14.08" height="14.1" fill="#3d559e"/>
<rect x="127.33" y="303.6" width="14.08" height="14.1" fill="#3d519a"/>
<rect x="140.71" y="303.6" width="14.08" height="14.1" fill="#3c4c93"/>
<rect x="154.09" y="303.6" width="14.08" height="14.1" fill="#3c458b"/>
<rect x="167.46" y="303.6" width="14.08" height="14.1" fill="#393e7d"/>
<rect x="180.84" y="303.6" width="14.08" height="14.1" fill="#35356c"/>
<rect x="194.22" y="303.6" width="14.08" height="14.1" fill="#2d2c5b"/>
<rect x="207.59" y="303.6" width="14.08" height="14.1" fill="#25244c"/>
<rect x="220.97" y="303.6" width="14.08" height="14.1" fill="#202044"/>
<rect x="234.35" y="303.6" width="14.08" height="14.1" fill="#1d1d3e"/>
<rect x="247.72" y="303.6" width="14.08" height="14.1" fill="#1a1a38"/>
<rect x="261.1" y="303.6" width="14.08" height="14.1" fill="#161733"/>
<rect x="274.48" y="303.6" width="14.08" height="14.1" fill="#14152f"/>
<rect x="287.86" y="303.6" width="14.08" height="14.1" fill="#12132b"/>
<rect x="301.23" y="303.6" width="14.08" height="14.1" fill="#0f1127"/>
<rect x="314.61" y="303.6" width="14.08" height="14.1" fill="#0d0e23"/>
<rect x="327.99" y="303.6" width="14.08" height="14.1" fill="#0c0e22"/>
<rect x="341.36" y="303.6" width="14.08" height="14.1" fill="#0b0d20"/>
<rect x="354.74" y="303.6" width="14.08" height="14.1" fill="#0a0c1e"/>
<rect x="368.12" y="303.6" width="14.08" height="14.1" fill="#090b1c"/>
<rect x="381.49" y="303.6" width="14.08" height="14.1" fill="#080a1b"/>
<rect x="394.87" y="303.6" width="14.08" height="14.1" fill="#07091a"/>
<rect x="408.25" y="303.6" width="14.08" height="14.1" fill="#070919"/>
<rect x="421.62" y="303.6" width="14.08" height="14.1" fill="#060818"/>
<rect x="435" y="303.6" width="14.08" height="14.1" fill="#060817"/>
<rect x="448.38" y="303.6" width="14.08" height="14.1" fill="#060817"/>
<rect x="461.76" y="303.6" width="14.08" height="14.1" fill="#050716"/>
<rect x="475.13" y="303.6" width="14.08" height="14.1" fill="#050716"/>
<rect x="488.51" y="303.6" width="13.38" height="14.1" fill="#050715"/>
<rect x="87.2" y="290.2" width="14.08" height="14.1" fill="#3d56a0"/>
<rect x="100.58" y="290.2" width="14.08" height="14.1" fill="#3d569f"/>
<rect x="113.95" y="290.2" width="14.08" height="14.1" fill="#3d559e"/>
<rect x="127.33" y="290.2" width="14.08" height="14.1" fill="#3d519a"/>
<rect x="140.71" y="290.2" width="14.08" height="14.1" fill="#3c4c93"/>
<rect x="154.09" y="290.2" width="14.08" height="14.1" fill="#3c458b"/>
<rect x="167.46" y="290.2" width="14.08" height="14.1" fill="#393e7d"/>
<rect x="180.84" y="290.2" width="14.08" height="14.1" fill="#35356c"/>
<rect x="194.22" y="290.2" width="14.08" height="14.1" fill="#2d2c5b"/>
<rect x="207.59" y="290.2" width="14.08" height="14.1" fill="#25244c"/>
<rect x="220.97" y="290.2" width="14.08" height="14.1" fill="#202044"/>
<rect x="234.35" y="290.2" width="14.08" height="14.1" fill="#1d1d3e"/>
<rect x="247.72" y="290.2" width="14.08" height="14.1" fill="#1a1a38"/>
<rect x="261.1" y="290.2" width="14.08" height="14.1" fill="#161733"/>
<rect x="274.48" y="290.2" width="14.08" height="14.1" fill="#14152f"/>
<rect x="287.86" y="290.2" width="14.08" height="14.1" fill="#12132b"/>
<rect x="301.23" y="290.2" width="14.08" height="14.1" fill="#0f1127"/>
<rect x="314.61" y="290.2" width="14.08" height="14.1" fill="#0d0e23"/>
<rect x="327.99" y="290.2" width="14.08" height="14.1" fill="#0c0e22"/>
<rect x="341.36" y="290.2" width="14.08" height="14.1" fill="#0b0d20"/>
<rect x="354.74" y="290.2" width="14.08" height="14.1" fill="#0a0c1e"/>
<rect x="368.12" y="290.2" width="14.08" height="14.1" fill="#090b1c"/>
<rect x="381.49" y="290.2" width="14.08" height="14.1" fill="#080a1b"/>
<rect x="394.87" y="290.2" width="14.08" height="14.1" fill="#07091a"/>
<rect x="408.25" y="290.2" width="14.08" height="14.1" fill="#070919"/>
<rect x="421.62" y="290.2" width="14.08" height="14.1" fill="#060818"/>
<rect x="435" y="290.2" width="14.08" height="14.1" fill="#060817"/>
<rect x="448.38" y="290.2" width="14.08" height="14.1" fill="#060817"/>
<rect x="461.76" y="290.2" width="14.08" height="14.1" fill="#050716"/>
<rect x="475.13" y="290.2" width="14.08" height="14.1" fill="#050716"/>
<rect x="488.51" y="290.2" width="13.38" height="14.1" fill="#050715"/>
<rect x="87.2" y="276.81" width="14.08" height="14.1" fill="#3d569f"/>
<rect x="100.58" y="276.81" width="14.08" height="14.1" fill="#3d569f"/>
<rect x="113.95" y="276.81" width="14.08" height="14.1" fill="#3d559e"/>
<rect x="127.33" y="276.81" width="14.08" height="14.1" fill="#3d519a"/>
<rect x="140.71" y="276.81" width="14.08" height="14.1" fill="#3c4c93"/>
<rect x="154.09" y="276.81" width="14.08" height="14.1" fill="#3c458b"/>
<rect x="167.46" y="276.81" width="14.08" height="14.1" fill="#393d7d"/>
<rect x="180.84" y="276.81" width="14.08" height="14.1" fill="#35356b"/>
<rect x="194.22" y="276.81" width="14.08" height="14.1" fill="#2d2c5b"/>
<rect x="207.59" y="276.81" width="14.08" height="14.1" fill="#25244c"/>
<rect x="220.97" y="276.81" width="14.08" height="14.1" fill="#202044"/>
<rect x="234.35" y="276.81" width="14.08" height="14.1" fill="#1d1d3e"/>
<rect x="247.72" y="276.81" width="14.08" height="14.1" fill="#191a38"/>
<rect x="261.1" y="276.81" width="14.08" height="14.1" fill="#161733"/>
<rect x="274.48" y="276.81" width="14.08" height="14.1" fill="#14152f"/>
<rect x="287.86" y="276.81" width="14.08" height="14.1" fill="#12132b"/>
<rect x="301.23" y="276.81" width="14.08" height="14.1" fill="#0f1027"/>
<rect x="314.61" y="276.81" width="14.08" height="14.1" fill="#0d0e22"/>
<rect x="327.99" y="276.81" width="14.08" height="14.1" fill="#0c0e22"/>
<rect x="341.36" y="276.81" width="14.08" height="14.1" fill="#0b0d20"/>
<rect x="354.74" y="276.81" width="14.08" height="14.1" fill="#0a0c1e"/>
<rect x="368.12" y="276.81" width="14.08" height="14.1" fill="#090b1c"/>
<rect x="381.49" y="276.81" width="14.08" height="14.1" fill="#080a1a"/>
<rect x="394.87" y="276.81" width="14.08" height="14.1" fill="#070919"/>
<rect x="408.25" y="276.81" width="14.08" height="14.1" fill="#070818"/>
<rect x="421.62" y="276.81" width="14.08" height="14.1" fill="#060817"/>
<rect x="435" y="276.81" width="14.08" height="14.1" fill="#060817"/>
<rect x="448.38" y="276.81" width="14.08" height="14.1" fill="#050716"/>
<rect x="461.76" y="276.81" width="14.08" height="14.1" fill="#050716"/>
<rect x="475.13" y="276.81" width="14.08" height="14.1" fill="#050715"/>
<rect x="488.51" y="276.81" width="13.38" height="14.1" fill="#050715"/>
<rect x="87.2" y="263.41" width="14.08" height="14.1" fill="#3d569f"/>
<rect x="100.58" y="263.41" width="14.08" height="14.1" fill="#3d569f"/>
<rect x="113.95" y="263.41" width="14.08" height="14.1" fill="#3d559e"/>
<rect x="127.33" y="263.41" width="14.08" height="14.1" fill="#3d5199"/>
<rect x="140.71" y="263.41" width="14.08" height="14.1" fill="#3c4c93"/>
<rect x="154.09" y="263.41" width="14.08" height="14.1" fill="#3c458b"/>
<rect x="167.46" y="263.41" width="14.08" height="14.1" fill="#393d7d"/>
<rect x="180.84" y="263.41" width="14.08" height="14.1" fill="#35356b"/>
<rect x="194.22" y="263.41" width="14.08" height="14.1" fill="#2d2c5b"/>
<rect x="207.59" y="263.41" width="14.08" height="14.1" fill="#25244c"/>
<rect x="220.97" y="263.41" width="14.08" height="14.1" fill="#202043"/>
<rect x="234.35" y="263.41" width="14.08" height="14.1" fill="#1d1d3e"/>
<rect x="247.72" y="263.41" width="14.08" height="14.1" fill="#191a38"/>
<rect x="261.1" y="263.41" width="14.08" height="14.1" fill="#161732"/>
<rect x="274.48" y="263.41" width="14.08" height="14.1" fill="#14152f"/>
<rect x="287.86" y="263.41" width="14.08" height="14.1" fill="#12132b"/>
<rect x="301.23" y="263.41" width="14.08" height="14.1" fill="#0f1026"/>
<rect x="314.61" y="263.41" width="14.08" height="14.1" fill="#0c0e22"/>
<rect x="327.99" y="263.41" width="14.08" height="14.1" fill="#0c0e22"/>
<rect x="341.36" y="263.41" width="14.08" height="14.1" fill="#0b0d20"/>
<rect x="354.74" y="263.41" width="14.08" height="14.1" fill="#0a0c1e"/>
<rect x="368.12" y="263.41" width="14.08" height="14.1" fill="#090a1c"/>
<rect x="381.49" y="263.41" width="14.08" height="14.1" fill="#08091a"/>
<rect x="394.87" y="263.41" width="14.08" height="14.1" fill="#070919"/>
<rect x="408.25" y="263.41" width="14.08" height="14.1" fill="#060818"/>
<rect x="421.62" y="263.41" width="14.08" height="14.1" fill="#060817"/>
<rect x="435" y="263.41" width="14.08" height="14.1" fill="#060717"/>
<rect x="448.38" y="263.41" width="14.08" height="14.1" fill="#050716"/>
<rect x="461.76" y="263.41" width="14.08" height="14.1" fill="#050716"/>
<rect x="475.13" y="263.41" width="14.08" height="14.1" fill="#050715"/>
<rect x="488.51" y="263.41" width="13.38" height="14.1" fill="#050715"/>
<rect x="87.2" y="250.01" width="14.08" height="14.1" fill="#3d569f"/>
<rect x="100.58" y="250.01" width="14.08" height="14.1" fill="#3d569f"/>
<rect x="113.95" y="250.01" width="14.08" height="14.1" fill="#3d559e"/>
<rect x="127.33" y="250.01" width="14.08" height="14.1" fill="#3d5199"/>
<rect x="140.71" y="250.01" width="14.08" height="14.1" fill="#3c4c93"/>
<rect x="154.09" y="250.01" width="14.08" height="14.1" fill="#3c458b"/>
<rect x="167.46" y="250.01" width="14.08" height="14.1" fill="#393d7d"/>
<rect x="180.84" y="250.01" width="14.08" height="14.1" fill="#35356b"/>
<rect x="194.22" y="250.01" width="14.08" height="14.1" fill="#2d2c5b"/>
<rect x="207.59" y="250.01" width="14.08" height="14.1" fill="#25244c"/>
<rect x="220.97" y="250.01" width="14.08" height="14.1" fill="#202043"/>
<rect x="234.35" y="250.01" width="14.08" height="14.1" fill="#1d1d3e"/>
<rect x="247.72" y="250.01" width="14.08" height="14.1" fill="#191a38"/>
<rect x="261.1" y="250.01" width="14.08" height="14.1" fill="#161732"/>
<rect x="274.48" y="250.01" width="14.08" height="14.1" fill="#14152f"/>
<rect x="287.86" y="250.01" width="14.08" height="14.1" fill="#12132b"/>
<rect x="301.23" y="250.01" width="14.08" height="14.1" fill="#0f1026"/>
<rect x="314.61" y="250.01" width="14.08" height="14.1" fill="#0c0e22"/>
<rect x="327.99" y="250.01" width="14.08" height="14.1" fill="#0c0e22"/>
<rect x="341.36" y="250.01" width="14.08" height="14.1" fill="#0b0d20"/>
<rect x="354.74" y="250.01" width="14.08" height="14.1" fill="#0a0c1e"/>
<rect x="368.12" y="250.01" width="14.08" height="14.1" fill="#090a1c"/>
<rect x="381.49" y="250.01" width="14.08" height="14.1" fill="#08091a"/>
<rect x="394.87" y="250.01" width="14.08" height="14.1" fill="#070919"/>
<rect x="408.25" y="250.01" width="14.08" height="14.1" fill="#060818"/>
<rect x="421.62" y="250.01" width="14.08" height="14.1" fill="#060817"/>
<rect x="435" y="250.01" width="14.08" height="14.1" fill="#060717"/>
<rect x="448.38" y="250.01" width="14.08" height="14.1" fill="#050716"/>
<rect x="461.76" y="250.01" width="14.08" height="14.1" fill="#050716"/>
<rect x="475.13" y="250.01" width="14.08" height="14.1" fill="#050715"/>
<rect x="488.51" y="250.01" width="13.38" height="14.1" fill="#050715"/>
<rect x="87.2" y="236.61" width="14.08" height="14.1" fill="#3d569f"/>
<rect x="100.58" y="236.61" width="14.08" height="14.1" fill="#3d569f"/>
<rect x="113.95" y="236.61" width="14.08" height="14.1" fill="#3d559e"/>
<rect x="127.33" y="236.61" width="14.08" height="14.1" fill="#3d5199"/>
<rect x="140.71" y="236.61" width="14.08" height="14.1" fill="#3c4c93"/>
<rect x="154.09" y="236.61" width="14.08" height="14.1" fill="#3c458b"/>
<rect x="167.46" y="236.61" width="14.08" height="14.1" fill="#393d7d"/>
<rect x="180.84" y="236.61" width="14.08" height="14.1" fill="#35356b"/>
<rect x="194.22" y="236.61" width="14.08" height="14.1" fill="#2d2c5b"/>
<rect x="207.59" y="236.61" width="14.08" height="14.1" fill="#25244c"/>
<rect x="220.97" y="236.61" width="14.08" height="14.1" fill="#202043"/>
<rect x="234.35" y="236.61" width="14.08" height="14.1" fill="#1d1d3e"/>
<rect x="247.72" y="236.61" width="14.08" height="14.1" fill="#191a38"/>
<rect x="261.1" y="236.61" width="14.08" height="14.1" fill="#161732"/>
<rect x="274.48" y="236.61" width="14.08" height="14.1" fill="#14152f"/>
<rect x="287.86" y="236.61" width="14.08" height="14.1" fill="#12132b"/>
<rect x="301.23" y="236.61" width="14.08" height="14.1" fill="#0f1026"/>
<rect x="314.61" y="236.61" width="14.08" height="14.1" fill="#0c0e22"/>
<rect x="327.99" y="236.61" width="14.08" height="14.1" fill="#0c0e22"/>
<rect x="341.36" y="236.61" width="14.08" height="14.1" fill="#0b0d20"/>
<rect x="354.74" y="236.61" width="14.08" height="14.1" fill="#0a0c1e"/>
<rect x="368.12" y="236.61" width="14.08" height="14.1" fill="#090a1c"/>
<rect x="381.49" y="236.61" width="14.08" height="14.1" fill="#08091a"/>
<rect x="394.87" y="236.61" width="14.08" height="14.1" fill="#070919"/>
<rect x="408.25" y="236.61" width="14.08" height="14.1" fill="#060818"/>
<rect x="421.62" y="236.61" width="14.08" height="14.1" fill="#060817"/>
<rect x="435" y="236.61" width="14.08" height="14.1" fill="#060717"/>
<rect x="448.38" y="236.61" width="14.08" height="14.1" fill="#050716"/>
<rect x="461.76" y="236.61" width="14.08" height="14.1" fill="#050716"/>
<rect x="475.13" y="236.61" width="14.08" height="14.1" fill="#050715"/>
<rect x="488.51" y="236.61" width="13.38" height="14.1" fill="#050715"/>
<rect x="87.2" y="223.22" width="14.08" height="14.1" fill="#3d569f"/>
<rect x="100.58" y="223.22" width="14.08" height="14.1" fill="#3d569f"/>
<rect x="113.95" y="223.22" width="14.08" height="14.1" fill="#3d559e"/>
<rect x="127.33" y="223.22" width="14.08" height="14.1" fill="#3d5199"/>
<rect x="140.71" y="223.22" width="14.08" height="14.1" fill="#3c4c93"/>
<rect x="154.09" y="223.22" width="14.08" height="14.1" fill="#3c458b"/>
<rect x="167.46" y="223.22" width="14.08" height="14.1" fill="#393d7d"/>
<rect x="180.84" y="223.22" width="14.08" height="14.1" fill="#35356b"/>
<rect x="194.22" y="223.22" width="14.08" height="14.1" fill="#2d2c5b"/>
<rect x="207.59" y="223.22" width="14.08" height="14.1" fill="#25244c"/>
<rect x="220.97" y="223.22" width="14.08" height="14.1" fill="#202043"/>
<rect x="234.35" y="223.22" width="14.08" height="14.1" fill="#1d1d3e"/>
<rect x="247.72" y="223.22" width="14.08" height="14.1" fill="#191a38"/>
<rect x="261.1" y="223.22" width="14.08" height="14.1" fill="#161732"/>
<rect x="274.48" y="223.22" width="14.08" height="14.1" fill="#14152f"/>
<rect x="287.86" y="223.22" width="14.08" height="14.1" fill="#12132b"/>
<rect x="301.23" y="223.22" width="14.08" height="14.1" fill="#0f1026"/>
<rect x="314.61" y="223.22" width="14.08" height="14.1" fill="#0c0e22"/>
<rect x="327.99" y="223.22" width="14.08" height="14.1" fill="#0c0e22"/>
<rect x="341.36" y="223.22" width="14.08" height="14.1" fill="#0b0d20"/>
<rect x="354.74" y="223.22" width="14.08" height="14.1" fill="#0a0c1e"/>
<rect x="368.12" y="223.22" width="14.08" height="14.1" fill="#090a1c"/>
<rect x="381.49" y="223.22" width="14.08" height="14.1" fill="#08091a"/>
<rect x="394.87" y="223.22" width="14.08" height="14.1" fill="#070919"/>
<rect x="408.25" y="223.22" width="14.08" height="14.1" fill="#060818"/>
<rect x="421.62" y="223.22" width="14.08" height="14.1" fill="#060817"/>
<rect x="435" y="223.22" width="14.08" height="14.1" fill="#060717"/>
<rect x="448.38" y="223.22" width="14.08" height="14.1" fill="#050716"/>
<rect x="461.76" y="223.22" width="14.08" height="14.1" fill="#050716"/>
<rect x="475.13" y="223.22" width="14.08" height="14.1" fill="#050715"/>
<rect x="488.51" y="223.22" width="13.38" height="14.1" fill="#050715"/>
<rect x="87.2" y="209.82" width="14.08" height="14.1" fill="#3d569f"/>
<rect x="100.58" y="209.82" width="14.08" height="14.1" fill="#3d569f"/>
<rect x="113.95" y="209.82" width="14.08" height="14.1" fill="#3d559e"/>
<rect x="127.33" y="209.82" width="14.08" height="14.1" fill="#3d5199"/>
<rect x="140.71" y="209.82" width="14.08" height="14.1" fill="#3c4c93"/>
<rect x="154.09" y="209.82" width="14.08" height="14.1" fill="#3c458b"/>
<rect x="167.46" y="209.82" width="14.08" height="14.1" fill="#393d7d"/>
<rect x="180.84" y="209.82" width="14.08" height="14.1" fill="#35356b"/>
<rect x="194.22" y="209.82" width="14.08" height="14.1" fill="#2d2c5b"/>
<rect x="207.59" y="209.82" width="14.08" height="14.1" fill="#25244c"/>
<rect x="220.97" y="209.82" width="14.08" height="14.1" fill="#202043"/>
<rect x="234.35" y="209.82" width="14.08" height="14.1" fill="#1d1d3e"/>
<rect x="247.72" y="209.82" width="14.08" height="14.1" fill="#191a38"/>
<rect x="261.1" y="209.82" width="14.08" height="14.1" fill="#161732"/>
<rect x="274.48" y="209.82" width="14.08" height="14.1" fill="#14152f"/>
<rect x="287.86" y="209.82" width="14.08" height="14.1" fill="#12132b"/>
<rect x="301.23" y="209.82" width="14.08" height="14.1" fill="#0f1026"/>
<rect x="314.61" y="209.82" width="14.08" height="14.1" fill="#0c0e22"/>
<rect x="327.99" y="209.82" width="14.08" height="14.1" fill="#0c0e22"/>
<rect x="341.36" y="209.82" width="14.08" height="14.1" fill="#0b0d20"/>
<rect x="354.74" y="209.82" width="14.08" height="14.1" fill="#0a0c1e"/>
<rect x="368.12" y="209.82" width="14.08" height="14.1" fill="#090a1c"/>
<rect x="381.49" y="209.82" width="14.08" height="14.1" fill="#08091a"/>
<rect x="394.87" y="209.82" width="14.08" height="14.1" fill="#070919"/>
<rect x="408.25" y="209.82" width="14.08" height="14.1" fill="#060818"/>
<rect x="421.62" y="209.82" width="14.08" height="14.1" fill="#060817"/>
<rect x="435" y="209.82" width="14.08" height="14.1" fill="#060717"/>
<rect x="448.38" y="209.82" width="14.08" height="14.1" fill="#050716"/>
<rect x="461.76" y="209.82" width="14.08" height="14.1" fill="#050716"/>
<rect x="475.13" y="209.82" width="14.08" height="14.1" fill="#050715"/>
<rect x="488.51" y="209.82" width="13.38" height="14.1" fill="#050715"/>
<rect x="87.2" y="196.42" width="14.08" height="14.1" fill="#3d569f"/>
<rect x="100.58" y="196.42" width="14.08" height="14.1" fill="#3d569f"/>
<rect x="113.95" y="196.42" width="14.08" height="14.1" fill="#3d559e"/>
<rect x="127.33" y="196.42" width="14.08" height="14.1" fill="#3d5199"/>
<rect x="140.71" y="196.42" width="14.08" height="14.1" fill="#3c4c93"/>
<rect x="154.09" y="196.42" width="14.08" height="14.1" fill="#3c458b"/>
<rect x="167.46" y="196.42" width="14.08" height="14.1" fill="#393d7d"/>
<rect x="180.84" y="196.42" width="14.08" height="14.1" fill="#35356b"/>
<rect x="194.22" y="196.42" width="14.08" height="14.1" fill="#2d2c5b"/>
<rect x="207.59" y="196.42" width="14.08" height="14.1" fill="#25244c"/>
<rect x="220.97" y="196.42" width="14.08" height="14.1" fill="#202043"/>
<rect x="234.35" y="196.42" width="14.08" height="14.1" fill="#1d1d3e"/>
<rect x="247.72" y="196.42" width="14.08" height="14.1" fill="#191a38"/>
<rect x="261.1" y="196.42" width="14.08" height="14.1" fill="#161732"/>
<rect x="274.48" y="196.42" width="14.08" height="14.1" fill="#14152f"/>
<rect x="287.86" y="196.42" width="14.08" height="14.1" fill="#12132b"/>
<rect x="301.23" y="196.42" width="14.08" height="14.1" fill="#0f1026"/>
<rect x="314.61" y="196.42" width="14.08" height="14.1" fill="#0c0e22"/>
<rect x="327.99" y="196.42" width="14.08" height="14.1" fill="#0c0e22"/>
<rect x="341.36" y="196.42" width="14.08" height="14.1" fill="#0b0d20"/>
<rect x="354.74" y="196.42" width="14.08" height="14.1" fill="#0a0c1e"/>
<rect x="368.12" y="196.42" width="14.08" height="14.1" fill="#090a1c"/>
<rect x="381.49" y="196.42" width="14.08" height="14.1" fill="#08091a"/>
<rect x="394.87" y="196.42" width="14.08" height="14.1" fill="#070919"/>
<rect x="408.25" y="196.42" width="14.08" height="14.1" fill="#060818"/>
<rect x="421.62" y="196.42" width="14.08" height="14.1" fill="#060817"/>
<rect x="435" y="196.42" width="14.08" height="14.1" fill="#060717"/>
<rect x="448.38" y="196.42" width="14.08" height="14.1" fill="#050716"/>
<rect x="461.76" y="196.42" width="14.08" height="14.1" fill="#050716"/>
<rect x="475.13" y="196.42" width="14.08" height="14.1" fill="#050715"/>
<rect x="488.51" y="196.42" width="13.38" height="14.1" fill="#050715"/>
<rect x="87.2" y="183.03" width="14.08" height="14.1" fill="#3d569f"/>
<rect x="100.58" y="183.03" width="14.08" height="14.1" fill="#3d569f"/>
<rect x="113.95" y="183.03" width="14.08" height="14.1" fill="#3d559e"/>
<rect x="127.33" y="183.03" width="14.08" height="14.1" fill="#3d5199"/>
<rect x="140.71" y="183.03" width="14.08" height="14.1" fill="#3c4c93"/>
<rect x="154.09" y="183.03" width="14.08" height="14.1" fill="#3c458b"/>
<rect x="167.46" y="183.03" width="14.08" height="14.1" fill="#393d7d"/>
<rect x="180.84" y="183.03" width="14.08" height="14.1" fill="#35356b"/>
<rect x="194.22" y="183.03" width="14.08" height="14.1" fill="#2d2c5b"/>
<rect x="207.59" y="183.03" width="14.08" height="14.1" fill="#25244c"/>
<rect x="220.97" y="183.03" width="14.08" height="14.1" fill="#202043"/>
<rect x="234.35" y="183.03" width="14.08" height="14.1" fill="#1d1d3e"/>
<rect x="247.72" y="183.03" width="14.08" height="14.1" fill="#191a38"/>
<rect x="261.1" y="183.03" width="14.08" height="14.1" fill="#161732"/>
<rect x="274.48" y="183.03" width="14.08" height="14.1" fill="#14152f"/>
<rect x="287.86" y="183.03" width="14.08" height="14.1" fill="#12132b"/>
<rect x="301.23" y="183.03" width="14.08" height="14.1" fill="#0f1026"/>
<rect x="314.61" y="183.03" width="14.08" height="14.1" fill="#0c0e22"/>
<rect x="327.99" y="183.03" width="14.08" height="14.1" fill="#0c0e22"/>
<rect x="341.36" y="183.03" width="14.08" height="14.1" fill="#0b0d20"/>
<rect x="354.74" y="183.03" width="14.08" height="14.1" fill="#0a0c1e"/>
<rect x="368.12" y="183.03" width="14.08" height="14.1" fill="#090a1c"/>
<rect x="381.49" y="183.03" width="14.08" height="14.1" fill="#08091a"/>
<rect x="394.87" y="183.03" width="14.08" height="14.1" fill="#070919"/>
<rect x="408.25" y="183.03" width="14.08" height="14.1" fill="#060818"/>
<rect x="421.62" y="183.03" width="14.08" height="14.1" fill="#060817"/>
<rect x="435" y="183.03" width="14.08" height="14.1" fill="#060717"/>
<rect x="448.38" y="183.03" width="14.08" height="14.1" fill="#050716"/>
<rect x="461.76" y="183.03" width="14.08" height="14.1" fill="#050716"/>
<rect x="475.13" y="183.03" width="14.08" height="14.1" fill="#050715"/>
<rect x="488.51" y="183.03" width="13.38" height="14.1" fill="#050715"/>
<rect x="87.2" y="169.63" width="14.08" height="14.1" fill="#3d569f"/>
<rect x="100.58" y="169.63" width="14.08" height="14.1" fill="#3d569f"/>
<rect x="113.95" y="169.63" width="14.08" height="14.1" fill="#3d559e"/>
<rect x="127.33" y="169.63" width="14.08" height="14.1" fill="#3d5199"/>
<rect x="140.71" y="169.63" width="14.08" height="14.1" fill="#3c4c93"/>
<rect x="154.09" y="169.63" width="14.08" height="14.1" fill="#3c458b"/>
<rect x="167.46" y="169.63" width="14.08" height="14.1" fill="#393d7d"/>
<rect x="180.84" y="169.63" width="14.08" height="14.1" fill="#35356b"/>
<rect x="194.22" y="169.63" width="14.08" height="14.1" fill="#2d2c5b"/>
<rect x="207.59" y="169.63" width="14.08" height="14.1" fill="#25244c"/>
<rect x="220.97" y="169.63" width="14.08" height="14.1" fill="#202043"/>
<rect x="234.35" y="169.63" width="14.08" height="14.1" fill="#1d1d3e"/>
<rect x="247.72" y="169.63" width="14.08" height="14.1" fill="#191a38"/>
<rect x="261.1" y="169.63" width="14.08" height="14.1" fill="#161732"/>
<rect x="274.48" y="169.63" width="14.08" height="14.1" fill="#14152f"/>
<rect x="287.86" y="169.63" width="14.08" height="14.1" fill="#12132b"/>
<rect x="301.23" y="169.63" width="14.08" height="14.1" fill="#0f1026"/>
<rect x="314.61" y="169.63" width="14.08" height="14.1" fill="#0c0e22"/>
<rect x="327.99" y="169.63" width="14.08" height="14.1" fill="#0c0e22"/>
<rect x="341.36" y="169.63" width="14.08" height="14.1" fill="#0b0d20"/>
<rect x="354.74" y="169.63" width="14.08" height="14.1" fill="#0a0c1e"/>
<rect x="368.12" y="169.63" width="14.08" height="14.1" fill="#090a1c"/>
<rect x="381.49" y="169.63" width="14.08" height="14.1" fill="#08091a"/>
<rect x="394.87" y="169.63" width="14.08" height="14.1" fill="#070919"/>
<rect x="408.25" y="169.63" width="14.08" height="14.1" fill="#060818"/>
<rect x="421.62" y="169.63" width="14.08" height="14.1" fill="#060817"/>
<rect x="435" y="169.63" width="14.08" height="14.1" fill="#060717"/>
<rect x="448.38" y="169.63" width="14.08" height="14.1" fill="#050716"/>
<rect x="461.76" y="169.63" width="14.08" height="14.1" fill="#050716"/>
<rect x="475.13" y="169.63" width="14.08" height="14.1" fill="#050715"/>
<rect x="488.51" y="169.63" width="13.38" height="14.1" fill="#050715"/>
<rect x="87.2" y="156.23" width="14.08" height="14.1" fill="#3d569f"/>
<rect x="100.58" y="156.23" width="14.08" height="14.1" fill="#3d569f"/>
<rect x="113.95" y="156.23" width="14.08" height="14.1" fill="#3d559e"/>
<rect x="127.33" y="156.23" width="14.08" height="14.1" fill="#3d5199"/>
<rect x="140.71" y="156.23" width="14.08" height="14.1" fill="#3c4c93"/>
<rect x="154.09" y="156.23" width="14.08" height="14.1" fill="#3c458b"/>
<rect x="167.46" y="156.23" width="14.08" height="14.1" fill="#393d7d"/>
<rect x="180.84" y="156.23" width="14.08" height="14.1" fill="#35356b"/>
<rect x="194.22" y="156.23" width="14.08" height="14.1" fill="#2d2c5b"/>
<rect x="207.59" y="156.23" width="14.08" height="14.1" fill="#25244c"/>
<rect x="220.97" y="156.23" width="14.08" height="14.1" fill="#202043"/>
<rect x="234.35" y="156.23" width="14.08" height="14.1" fill="#1d1d3e"/>
<rect x="247.72" y="156.23" width="14.08" height="14.1" fill="#191a38"/>
<rect x="261.1" y="156.23" width="14.08" height="14.1" fill="#161732"/>
<rect x="274.48" y="156.23" width="14.08" height="14.1" fill="#14152f"/>
<rect x="287.86" y="156.23" width="14.08" height="14.1" fill="#12132b"/>
<rect x="301.23" y="156.23" width="14.08" height="14.1" fill="#0f1026"/>
<rect x="314.61" y="156.23" width="14.08" height="14.1" fill="#0c0e22"/>
<rect x="327.99" y="156.23" width="14.08" height="14.1" fill="#0c0e22"/>
<rect x="341.36" y="156.23" width="14.08" height="14.1" fill="#0b0d20"/>
<rect x="354.74" y="156.23" width="14.08" height="14.1" fill="#0a0c1e"/>
<rect x="368.12" y="156.23" width="14.08" height="14.1" fill="#090a1c"/>
<rect x="381.49" y="156.23" width="14.08" height="14.1" fill="#08091a"/>
<rect x="394.87" y="156.23" width="14.08" height="14.1" fill="#070919"/>
<rect x="408.25" y="156.23" width="14.08" height="14.1" fill="#060818"/>
<rect x="421.62" y="156.23" width="14.08" height="14.1" fill="#060817"/>
<rect x="435" y="156.23" width="14.08" height="14.1" fill="#060717"/>
<rect x="448.38" y="156.23" width="14.08" height="14.1" fill="#050716"/>
<rect x="461.76" y="156.23" width="14.08" height="14.1" fill="#050716"/>
<rect x="475.13" y="156.23" width="14.08" height="14.1" fill="#050715"/>
<rect x="488.51" y="156.23" width="13.38" height="14.1" fill="#050715"/>
<rect x="87.2" y="142.83" width="14.08" height="14.1" fill="#3d569f"/>
<rect x="100.58" y="142.83" width="14.08" height="14.1" fill="#3d569f"/>
<rect x="113.95" y="142.83" width="14.08" height="14.1" fill="#3d559e"/>
<rect x="127.33" y="142.83" width="14.08" height="14.1" fill="#3d5199"/>
<rect x="140.71" y="142.83" width="14.08" height="14.1" fill="#3c4c93"/>
<rect x="154.09" y="142.83" width="14.08" height="14.1" fill="#3c458b"/>
<rect x="167.46" y="142.83" width="14.08" height="14.1" fill="#393d7d"/>
<rect x="180.84" y="142.83" width="14.08" height="14.1" fill="#35356b"/>
<rect x="194.22" y="142.83" width="14.08" height="14.1" fill="#2d2c5b"/>
<rect x="207.59" y="142.83" width="14.08" height="14.1" fill="#25244c"/>
<rect x="220.97" y="142.83" width="14.08" height="14.1" fill="#202043"/>
<rect x="234.35" y="142.83" width="14.08" height="14.1" fill="#1d1d3e"/>
<rect x="247.72" y="142.83" width="14.08" height="14.1" fill="#191a38"/>
<rect x="261.1" y="142.83" width="14.08" height="14.1" fill="#161732"/>
<rect x="274.48" y="142.83" width="14.08" height="14.1" fill="#14152f"/>
<rect x="287.86" y="142.83" width="14.08" height="14.1" fill="#12132b"/>
<rect x="301.23" y="142.83" width="14.08" height="14.1" fill="#0f1026"/>
<rect x="314.61" y="142.83" width="14.08" height="14.1" fill="#0c0e22"/>
<rect x="327.99" y="142.83" width="14.08" height="14.1" fill="#0c0e22"/>
<rect x="341.36" y="142.83" width="14.08" height="14.1" fill="#0b0d20"/>
<rect x="354.74" y="142.83" width="14.08" height="14.1" fill="#0a0c1e"/>
<rect x="368.12" y="142.83" width="14.08" height="14.1" fill="#090a1c"/>
<rect x="381.49" y="142.83" width="14.08" height="14.1" fill="#08091a"/>
<rect x="394.87" y="142.83" width="14.08" height="14.1" fill="#070919"/>
<rect x="408.25" y="142.83" width="14.08" height="14.1" fill="#060818"/>
<rect x="421.62" y="142.83" width="14.08" height="14.1" fill="#060817"/>
<rect x="435" y="142.83" width="14.08" height="14.1" fill="#060717"/>
<rect x="448.38" y="142.83" width="14.08" height="14.1" fill="#050716"/>
<rect x="461.76" y="142.83" width="14.08" height="14.1" fill="#050716"/>
<rect x="475.13" y="142.83" width="14.08" height="14.1" fill="#050715"/>
<rect x="488.51" y="142.83" width="13.38" height="14.1" fill="#050715"/>
<rect x="87.2" y="129.44" width="14.08" height="14.1" fill="#3d569f"/>
<rect x="100.58" y="129.44" width="14.08" height="14.1" fill="#3d569f"/>
<rect x="113.95" y="129.44" width="14.08" height="14.1" fill="#3d559e"/>
<rect x="127.33" y="129.44" width="14.08" height="14.1" fill="#3d5199"/>
<rect x="140.71" y="129.44" width="14.08" height="14.1" fill="#3c4c93"/>
<rect x="154.09" y="129.44" width="14.08" height="14.1" fill="#3c458b"/>
<rect x="167.46" y="129.44" width="14.08" height="14.1" fill="#393d7d"/>
<rect x="180.84" y="129.44" width="14.08" height="14.1" fill="#35356b"/>
<rect x="194.22" y="129.44" width="14.08" height="14.1" fill="#2d2c5b"/>
<rect x="207.59" y="129.44" width="14.08" height="14.1" fill="#25244c"/>
<rect x="220.97" y="129.44" width="14.08" height="14.1" fill="#202043"/>
<rect x="234.35" y="129.44" width="14.08" height="14.1" fill="#1d1d3e"/>
<rect x="247.72" y="129.44" width="14.08" height="14.1" fill="#191a38"/>
<rect x="261.1" y="129.44" width="14.08" height="14.1" fill="#161732"/>
<rect x="274.48" y="129.44" width="14.08" height="14.1" fill="#14152f"/>
<rect x="287.86" y="129.44" width="14.08" height="14.1" fill="#12132b"/>
<rect x="301.23" y="129.44" width="14.08" height="14.1" fill="#0f1026"/>
<rect x="314.61" y="129.44" width="14.08" height="14.1" fill="#0c0e22"/>
<rect x="327.99" y="129.44" width="14.08" height="14.1" fill="#0c0e22"/>
<rect x="341.36" y="129.44" width="14.08" height="14.1" fill="#0b0d20"/>
<rect x="354.74" y="129.44" width="14.08" height="14.1" fill="#0a0c1e"/>
<rect x="368.12" y="129.44" width="14.08" height="14.1" fill="#090a1c"/>
<rect x="381.49" y="129.44" width="14.08" height="14.1" fill="#08091a"/>
<rect x="394.87" y="129.44" width="14.08" height="14.1" fill="#070919"/>
<rect x="408.25" y="129.44" width="14.08" height="14.1" fill="#060818"/>
<rect x="421.62" y="129.44" width="14.08" height="14.1" fill="#060817"/>
<rect x="435" y="129.44" width="14.08" height="14.1" fill="#060717"/>
<rect x="448.38" y="129.44" width="14.08" height="14.1" fill="#050716"/>
<rect x="461.76" y="129.44" width="14.08" height="14.1" fill="#050716"/>
<rect x="475.13" y="129.44" width="14.08" height="14.1" fill="#050715"/>
<rect x="488.51" y="129.44" width="13.38" height="14.1" fill="#050715"/>
<rect x="87.2" y="116.04" width="14.08" height="14.1" fill="#3d569f"/>
<rect x="100.58" y="116.04" width="14.08" height="14.1" fill="#3d569f"/>
<rect x="113.95" y="116.04" width="14.08" height="14.1" fill="#3d559e"/>
<rect x="127.33" y="116.04" width="14.08" height="14.1" fill="#3d5199"/>
<rect x="140.71" y="116.04" width="14.08" height="14.1" fill="#3c4c93"/>
<rect x="154.09" y="116.04" width="14.08" height="14.1" fill="#3c458b"/>
<rect x="167.46" y="116.04" width="14.08" height="14.1" fill="#393d7d"/>
<rect x="180.84" y="116.04" width="14.08" height="14.1" fill="#35356b"/>
<rect x="194.22" y="116.04" width="14.08" height="14.1" fill="#2d2c5b"/>
<rect x="207.59" y="116.04" width="14.08" height="14.1" fill="#25244c"/>
<rect x="220.97" y="116.04" width="14.08" height="14.1" fill="#202043"/>
<rect x="234.35" y="116.04" width="14.08" height="14.1" fill="#1d1d3e"/>
<rect x="247.72" y="116.04" width="14.08" height="14.1" fill="#191a38"/>
<rect x="261.1" y="116.04" width="14.08" height="14.1" fill="#161732"/>
<rect x="274.48" y="116.04" width="14.08" height="14.1" fill="#14152f"/>
<rect x="287.86" y="116.04" width="14.08" height="14.1" fill="#12132b"/>
<rect x="301.23" y="116.04" width="14.08" height="14.1" fill="#0f1026"/>
<rect x="314.61" y="116.04" width="14.08" height="14.1" fill="#0c0e22"/>
<rect x="327.99" y="116.04" width="14.08" height="14.1" fill="#0c0e22"/>
<rect x="341.36" y="116.04" width="14.08" height="14.1" fill="#0b0d20"/>
<rect x="354.74" y="116.04" width="14.08" height="14.1" fill="#0a0c1e"/>
<rect x="368.12" y="116.04" width="14.08" height="14.1" fill="#090a1c"/>
<rect x="381.49" y="116.04" width="14.08" height="14.1" fill="#08091a"/>
<rect x="394.87" y="116.04" width="14.08" height="14.1" fill="#070919"/>
<rect x="408.25" y="116.04" width="14.08" height="14.1" fill="#060818"/>
<rect x="421.62" y="116.04" width="14.08" height="14.1" fill="#060817"/>
<rect x="435" y="116.04" width="14.08" height="14.1" fill="#060717"/>
<rect x="448.38" y="116.04" width="14.08" height="14.1" fill="#050716"/>
<rect x="461.76" y="116.04" width="14.08" height="14.1" fill="#050716"/>
<rect x="475.13" y="116.04" width="14.08" height="14.1" fill="#050715"/>
<rect x="488.51" y="116.04" width="13.38" height="14.1" fill="#050715"/>
<rect x="87.2" y="102.64" width="14.08" height="14.1" fill="#3d569f"/>
<rect x="100.58" y="102.64" width="14.08" height="14.1" fill="#3d569f"/>
<rect x="113.95" y="102.64" width="14.08" height="14.1" fill="#3d559e"/>
<rect x="127.33" y="102.64" width="14.08" height="14.1" fill="#3d5199"/>
<rect x="140.71" y="102.64" width="14.08" height="14.1" fill="#3c4c93"/>
<rect x="154.09" y="102.64" width="14.08" height="14.1" fill="#3c458b"/>
<rect x="167.46" y="102.64" width="14.08" height="14.1" fill="#393d7d"/>
<rect x="180.84" y="102.64" width="14.08" height="14.1" fill="#35356b"/>
<rect x="194.22" y="102.64" width="14.08" height="14.1" fill="#2d2c5b"/>
<rect x="207.59" y="102.64" width="14.08" height="14.1" fill="#25244c"/>
<rect x="220.97" y="102.64" width="14.08" height="14.1" fill="#202043"/>
<rect x="234.35" y="102.64" width="14.08" height="14.1" fill="#1d1d3e"/>
<rect x="247.72" y="102.64" width="14.08" height="14.1" fill="#191a38"/>
<rect x="261.1" y="102.64" width="14.08" height="14.1" fill="#161732"/>
<rect x="274.48" y="102.64" width="14.08" height="14.1" fill="#14152f"/>
<rect x="287.86" y="102.64" width="14.08" height="14.1" fill="#12132b"/>
<rect x="301.23" y="102.64" width="14.08" height="14.1" fill="#0f1026"/>
<rect x="314.61" y="102.64" width="14.08" height="14.1" fill="#0c0e22"/>
<rect x="327.99" y="102.64" width="14.08" height="14.1" fill="#0c0e22"/>
<rect x="341.36" y="102.64" width="14.08" height="14.1" fill="#0b0d20"/>
<rect x="354.74" y="102.64" width="14.08" height="14.1" fill="#0a0c1e"/>
<rect x="368.12" y="102.64" width="14.08" height="14.1" fill="#090a1c"/>
<rect x="381.49" y="102.64" width="14.08" height="14.1" fill="#08091a"/>
<rect x="394.87" y="102.64" width="14.08" height="14.1" fill="#070919"/>
<rect x="408.25" y="102.64" width="14.08" height="14.1" fill="#060818"/>
<rect x="421.62" y="102.64" width="14.08" height="14.1" fill="#060817"/>
<rect x="435" y="102.64" width="14.08" height="14.1" fill="#060717"/>
<rect x="448.38" y="102.64" width="14.08" height="14.1" fill="#050716"/>
<rect x="461.76" y="102.64" width="14.08" height="14.1" fill="#050716"/>
<rect x="475.13" y="102.64" width="14.08" height="14.1" fill="#050715"/>
<rect x="488.51" y="102.64" width="13.38" height="14.1" fill="#050715"/>
<rect x="87.2" y="89.25" width="14.08" height="14.1" fill="#3d569f"/>
<rect x="100.58" y="89.25" width="14.08" height="14.1" fill="#3d569f"/>
<rect x="113.95" y="89.25" width="14.08" height="14.1" fill="#3d559e"/>
<rect x="127.33" y="89.25" width="14.08" height="14.1" fill="#3d5199"/>
<rect x="140.71" y="89.25" width="14.08" height="14.1" fill="#3c4c93"/>
<rect x="154.09" y="89.25" width="14.08" height="14.1" fill="#3c458b"/>
<rect x="167.46" y="89.25" width="14.08" height="14.1" fill="#393d7d"/>
<rect x="180.84" y="89.25" width="14.08" height="14.1" fill="#35356b"/>
<rect x="194.22" y="89.25" width="14.08" height="14.1" fill="#2d2c5b"/>
<rect x="207.59" y="89.25" width="14.08" height="14.1" fill="#25244c"/>
<rect x="220.97" y="89.25" width="14.08" height="14.1" fill="#202043"/>
<rect x="234.35" y="89.25" width="14.08" height="14.1" fill="#1d1d3e"/>
<rect x="247.72" y="89.25" width="14.08" height="14.1" fill="#191a38"/>
<rect x="261.1" y="89.25" width="14.08" height="14.1" fill="#161732"/>
<rect x="274.48" y="89.25" width="14.08" height="14.1" fill="#14152f"/>
<rect x="287.86" y="89.25" width="14.08" height="14.1" fill="#12132b"/>
<rect x="301.23" y="89.25" width="14.08" height="14.1" fill="#0f1026"/>
<rect x="314.61" y="89.25" width="14.08" height="14.1" fill="#0c0e22"/>
<rect x="327.99" y="89.25" width="14.08" height="14.1" fill="#0c0e22"/>
<rect x="341.36" y="89.25" width="14.08" height="14.1" fill="#0b0d20"/>
<rect x="354.74" y="89.25" width="14.08" height="14.1" fill="#0a0c1e"/>
<rect x="368.12" y="89.25" width="14.08" height="14.1" fill="#090a1c"/>
<rect x="381.49" y="89.25" width="14.08" height="14.1" fill="#08091a"/>
<rect x="394.87" y="89.25" width="14.08" height="14.1" fill="#070919"/>
<rect x="408.25" y="89.25" width="14.08" height="14.1" fill="#060818"/>
<rect x="421.62" y="89.25" width="14.08" height="14.1" fill="#060817"/>
<rect x="435" y="89.25" width="14.08" height="14.1" fill="#060717"/>
<rect x="448.38" y="89.25" width="14.08" height="14.1" fill="#050716"/>
<rect x="461.76" y="89.25" width="14.08" height="14.1" fill="#050716"/>
<rect x="475.13" y="89.25" width="14.08" height="14.1" fill="#050715"/>
<rect x="488.51" y="89.25" width="13.38" height="14.1" fill="#050715"/>
<rect x="87.2" y="75.85" width="14.08" height="14.1" fill="#3d569f"/>
<rect x="100.58" y="75.85" width="14.08" height="14.1" fill="#3d569f"/>
<rect x="113.95" y="75.85" width="14.08" height="14.1" fill="#3d559e"/>
<rect x="127.33" y="75.85" width="14.08" height="14.1" fill="#3d5199"/>
<rect x="140.71" y="75.85" width="14.08" height="14.1" fill="#3c4c93"/>
<rect x="154.09" y="75.85" width="14.08" height="14.1" fill="#3c458b"/>
<rect x="167.46" y="75.85" width="14.08" height="14.1" fill="#393d7d"/>
<rect x="180.84" y="75.85" width="14.08" height="14.1" fill="#35356b"/>
<rect x="194.22" y="75.85" width="14.08" height="14.1" fill="#2d2c5b"/>
<rect x="207.59" y="75.85" width="14.08" height="14.1" fill="#25244c"/>
<rect x="220.97" y="75.85" width="14.08" height="14.1" fill="#202043"/>
<rect x="234.35" y="75.85" width="14.08" height="14.1" fill="#1d1d3e"/>
<rect x="247.72" y="75.85" width="14.08" height="14.1" fill="#191a38"/>
<rect x="261.1" y="75.85" width="14.08" height="14.1" fill="#161732"/>
<rect x="274.48" y="75.85" width="14.08" height="14.1" fill="#14152f"/>
<rect x="287.86" y="75.85" width="14.08" height="14.1" fill="#12132b"/>
<rect x="301.23" y="75.85" width="14.08" height="14.1" fill="#0f1026"/>
<rect x="314.61" y="75.85" width="14.08" height="14.1" fill="#0c0e22"/>
<rect x="327.99" y="75.85" width="14.08" height="14.1" fill="#0c0e22"/>
<rect x="341.36" y="75.85" width="14.08" height="14.1" fill="#0b0d20"/>
<rect x="354.74" y="75.85" width="14.08" height="14.1" fill="#0a0c1e"/>
<rect x="368.12" y="75.85" width="14.08" height="14.1" fill="#090a1c"/>
<rect x="381.49" y="75.85" width="14.08" height="14.1" fill="#08091a"/>
<rect x="394.87" y="75.85" width="14.08" height="14.1" fill="#070919"/>
<rect x="408.25" y="75.85" width="14.08" height="14.1" fill="#060818"/>
<rect x="421.62" y="75.85" width="14.08" height="14.1" fill="#060817"/>
<rect x="435" y="75.85" width="14.08" height="14.1" fill="#060717"/>
<rect x="448.38" y="75.85" width="14.08" height="14.1" fill="#050716"/>
<rect x="461.76" y="75.85" width="14.08" height="14.1" fill="#050716"/>
<rect x="475.13" y="75.85" width="14.08" height="14.1" fill="#050715"/>
<rect x="488.51" y="75.85" width="13.38" height="14.1" fill="#050715"/>
<g fill="#fff" opacity="0.11">
<rect x="100" y="75.85" width="1" height="415.31"/>
<rect x="87.2" y="89" width="414.69" height="1"/>
<rect x="87.2" y="102" width="414.69" height="1"/>
<rect x="127" y="75.85" width="1" height="415.31"/>
<rect x="87.2" y="129" width="414.69" height="1"/>
<rect x="167" y="75.85" width="1" height="415.31"/>
<rect x="87.2" y="156" width="414.69" height="1"/>
<rect x="87.2" y="169" width="414.69" height="1"/>
<rect x="194" y="75.85" width="1" height="415.31"/>
<rect x="207" y="75.85" width="1" height="415.31"/>
<rect x="87.2" y="196" width="414.69" height="1"/>
<rect x="234" y="75.85" width="1" height="415.31"/>
<rect x="87.2" y="223" width="414.69" height="1"/>
<rect x="87.2" y="236" width="414.69" height="1"/>
<rect x="274" y="75.85" width="1" height="415.31"/>
<rect x="87.2" y="263" width="414.69" height="1"/>
<rect x="301" y="75.85" width="1" height="415.31"/>
<rect x="87.2" y="290" width="414.69" height="1"/>
<rect x="314" y="75.85" width="1" height="415.31"/>
<rect x="87.2" y="303" width="414.69" height="1"/>
<rect x="341" y="75.85" width="1" height="415.31"/>
<rect x="87.2" y="330" width="414.69" height="1"/>
<rect x="87.2" y="357" width="414.69" height="1"/>
<rect x="381" y="75.85" width="1" height="415.31"/>
<rect x="87.2" y="370" width="414.69" height="1"/>
<rect x="408" y="75.85" width="1" height="415.31"/>
<rect x="87.2" y="397" width="414.69" height="1"/>
<rect x="421" y="75.85" width="1" height="415.31"/>
<rect x="87.2" y="424" width="414.69" height="1"/>
<rect x="448" y="75.85" width="1" height="415.31"/>
<rect x="87.2" y="437" width="414.69" height="1"/>
<rect x="87.2" y="464" width="414.69" height="1"/>
<rect x="488" y="75.85" width="1" height="415.31"/>
</g>
<rect x="811.98" y="477.62" width="14.08" height="13.4" fill="#75b9d0"/>
<rect x="825.36" y="477.62" width="14.08" height="13.4" fill="#68aeca"/>
<rect x="838.73" y="477.62" width="14.08" height="13.4" fill="#5ca1c5"/>
<rect x="852.11" y="477.62" width="14.08" height="13.4" fill="#5195c0"/>
<rect x="865.49" y="477.62" width="14.08" height="13.4" fill="#4a8abc"/>
<rect x="878.87" y="477.62" width="14.08" height="13.4" fill="#447fb7"/>
<rect x="892.24" y="477.62" width="14.08" height="13.4" fill="#4177b4"/>
<rect x="905.62" y="477.62" width="14.08" height="13.4" fill="#3e6eb0"/>
<rect x="919" y="477.62" width="14.08" height="13.4" fill="#3e64aa"/>
<rect x="932.37" y="477.62" width="14.08" height="13.4" fill="#3d5ca5"/>
<rect x="945.75" y="477.62" width="14.08" height="13.4" fill="#3d5aa4"/>
<rect x="959.13" y="477.62" width="14.08" height="13.4" fill="#3d58a1"/>
<rect x="972.5" y="477.62" width="14.08" height="13.4" fill="#3d559e"/>
<rect x="985.88" y="477.62" width="14.08" height="13.4" fill="#3d539b"/>
<rect x="999.26" y="477.62" width="14.08" height="13.4" fill="#3d5199"/>
<rect x="1012.63" y="477.62" width="14.08" height="13.4" fill="#3c4e96"/>
<rect x="1026.01" y="477.62" width="14.08" height="13.4" fill="#3c4d94"/>
<rect x="1039.39" y="477.62" width="14.08" height="13.4" fill="#3c4b93"/>
<rect x="1052.77" y="477.62" width="14.08" height="13.4" fill="#3c4a91"/>
<rect x="1066.14" y="477.62" width="14.08" height="13.4" fill="#3c488f"/>
<rect x="1079.52" y="477.62" width="14.08" height="13.4" fill="#3c468c"/>
<rect x="1092.9" y="477.62" width="14.08" height="13.4" fill="#3c468c"/>
<rect x="1106.27" y="477.62" width="14.08" height="13.4" fill="#3c468c"/>
<rect x="1119.65" y="477.62" width="14.08" height="13.4" fill="#3c468c"/>
<rect x="1133.03" y="477.62" width="14.08" height="13.4" fill="#3c458c"/>
<rect x="1146.4" y="477.62" width="14.08" height="13.4" fill="#3c458b"/>
<rect x="1159.78" y="477.62" width="14.08" height="13.4" fill="#3c458b"/>
<rect x="1173.16" y="477.62" width="14.08" height="13.4" fill="#3c448a"/>
<rect x="1186.54" y="477.62" width="14.08" height="13.4" fill="#3c4489"/>
<rect x="1199.91" y="477.62" width="14.08" height="13.4" fill="#3c4389"/>
<rect x="1213.29" y="477.62" width="13.38" height="13.4" fill="#3c4388"/>
<rect x="811.98" y="464.22" width="14.08" height="14.1" fill="#69aecb"/>
<rect x="825.36" y="464.22" width="14.08" height="14.1" fill="#5da2c6"/>
<rect x="838.73" y="464.22" width="14.08" height="14.1" fill="#5094c0"/>
<rect x="852.11" y="464.22" width="14.08" height="14.1" fill="#4989bb"/>
<rect x="865.49" y="464.22" width="14.08" height="14.1" fill="#437db7"/>
<rect x="878.87" y="464.22" width="14.08" height="14.1" fill="#4074b2"/>
<rect x="892.24" y="464.22" width="14.08" height="14.1" fill="#3e6bae"/>
<rect x="905.62" y="464.22" width="14.08" height="14.1" fill="#3d62a9"/>
<rect x="919" y="464.22" width="14.08" height="14.1" fill="#3d58a1"/>
<rect x="932.37" y="464.22" width="14.08" height="14.1" fill="#3c4e96"/>
<rect x="945.75" y="464.22" width="14.08" height="14.1" fill="#3c4c94"/>
<rect x="959.13" y="464.22" width="14.08" height="14.1" fill="#3c4a91"/>
<rect x="972.5" y="464.22" width="14.08" height="14.1" fill="#3c478e"/>
<rect x="985.88" y="464.22" width="14.08" height="14.1" fill="#3c458b"/>
<rect x="999.26" y="464.22" width="14.08" height="14.1" fill="#3c4388"/>
<rect x="1012.63" y="464.22" width="14.08" height="14.1" fill="#3b4185"/>
<rect x="1026.01" y="464.22" width="14.08" height="14.1" fill="#3a4082"/>
<rect x="1039.39" y="464.22" width="14.08" height="14.1" fill="#3a3f80"/>
<rect x="1052.77" y="464.22" width="14.08" height="14.1" fill="#393e7e"/>
<rect x="1066.14" y="464.22" width="14.08" height="14.1" fill="#383c7b"/>
<rect x="1079.52" y="464.22" width="14.08" height="14.1" fill="#383b77"/>
<rect x="1092.9" y="464.22" width="14.08" height="14.1" fill="#383b77"/>
<rect x="1106.27" y="464.22" width="14.08" height="14.1" fill="#383b77"/>
<rect x="1119.65" y="464.22" width="14.08" height="14.1" fill="#383b77"/>
<rect x="1133.03" y="464.22" width="14.08" height="14.1" fill="#383a77"/>
<rect x="1146.4" y="464.22" width="14.08" height="14.1" fill="#373a76"/>
<rect x="1159.78" y="464.22" width="14.08" height="14.1" fill="#373a76"/>
<rect x="1173.16" y="464.22" width="14.08" height="14.1" fill="#373975"/>
<rect x="1186.54" y="464.22" width="14.08" height="14.1" fill="#373974"/>
<rect x="1199.91" y="464.22" width="14.08" height="14.1" fill="#373974"/>
<rect x="1213.29" y="464.22" width="13.38" height="14.1" fill="#373973"/>
<rect x="811.98" y="450.82" width="14.08" height="14.1" fill="#5ba1c5"/>
<rect x="825.36" y="450.82" width="14.08" height="14.1" fill="#5094c0"/>
<rect x="838.73" y="450.82" width="14.08" height="14.1" fill="#4886bb"/>
<rect x="852.11" y="450.82" width="14.08" height="14.1" fill="#427bb6"/>
<rect x="865.49" y="450.82" width="14.08" height="14.1" fill="#3f71b1"/>
<rect x="878.87" y="450.82" width="14.08" height="14.1" fill="#3e66ab"/>
<rect x="892.24" y="450.82" width="14.08" height="14.1" fill="#3d5da6"/>
<rect x="905.62" y="450.82" width="14.08" height="14.1" fill="#3d539c"/>
<rect x="919" y="450.82" width="14.08" height="14.1" fill="#3c488f"/>
<rect x="932.37" y="450.82" width="14.08" height="14.1" fill="#3a4082"/>
<rect x="945.75" y="450.82" width="14.08" height="14.1" fill="#393e7f"/>
<rect x="959.13" y="450.82" width="14.08" height="14.1" fill="#383d7b"/>
<rect x="972.5" y="450.82" width="14.08" height="14.1" fill="#383b77"/>
<rect x="985.88" y="450.82" width="14.08" height="14.1" fill="#373973"/>
<rect x="999.26" y="450.82" width="14.08" height="14.1" fill="#363770"/>
<rect x="1012.63" y="450.82" width="14.08" height="14.1" fill="#35356c"/>
<rect x="1026.01" y="450.82" width="14.08" height="14.1" fill="#35346a"/>
<rect x="1039.39" y="450.82" width="14.08" height="14.1" fill="#343368"/>
<rect x="1052.77" y="450.82" width="14.08" height="14.1" fill="#333266"/>
<rect x="1066.14" y="450.82" width="14.08" height="14.1" fill="#323164"/>
<rect x="1079.52" y="450.82" width="14.08" height="14.1" fill="#302f61"/>
<rect x="1092.9" y="450.82" width="14.08" height="14.1" fill="#302f61"/>
<rect x="1106.27" y="450.82" width="14.08" height="14.1" fill="#302f61"/>
<rect x="1119.65" y="450.82" width="14.08" height="14.1" fill="#302f61"/>
<rect x="1133.03" y="450.82" width="14.08" height="14.1" fill="#302f60"/>
<rect x="1146.4" y="450.82" width="14.08" height="14.1" fill="#302f60"/>
<rect x="1159.78" y="450.82" width="14.08" height="14.1" fill="#2f2e5f"/>
<rect x="1173.16" y="450.82" width="14.08" height="14.1" fill="#2f2e5f"/>
<rect x="1186.54" y="450.82" width="14.08" height="14.1" fill="#2f2e5e"/>
<rect x="1199.91" y="450.82" width="14.08" height="14.1" fill="#2e2d5e"/>
<rect x="1213.29" y="450.82" width="13.38" height="14.1" fill="#2e2d5d"/>
<rect x="811.98" y="437.42" width="14.08" height="14.1" fill="#4f92bf"/>
<rect x="825.36" y="437.42" width="14.08" height="14.1" fill="#4785ba"/>
<rect x="838.73" y="437.42" width="14.08" height="14.1" fill="#4178b4"/>
<rect x="852.11" y="437.42" width="14.08" height="14.1" fill="#3e6db0"/>
<rect x="865.49" y="437.42" width="14.08" height="14.1" fill="#3d62a9"/>
<rect x="878.87" y="437.42" width="14.08" height="14.1" fill="#3d57a0"/>
<rect x="892.24" y="437.42" width="14.08" height="14.1" fill="#3c4d94"/>
<rect x="905.62" y="437.42" width="14.08" height="14.1" fill="#3b4388"/>
<rect x="919" y="437.42" width="14.08" height="14.1" fill="#373a77"/>
<rect x="932.37" y="437.42" width="14.08" height="14.1" fill="#343368"/>
<rect x="945.75" y="437.42" width="14.08" height="14.1" fill="#333265"/>
<rect x="959.13" y="437.42" width="14.08" height="14.1" fill="#313063"/>
<rect x="972.5" y="437.42" width="14.08" height="14.1" fill="#2f2e5f"/>
<rect x="985.88" y="437.42" width="14.08" height="14.1" fill="#2e2d5c"/>
<rect x="999.26" y="437.42" width="14.08" height="14.1" fill="#2c2b59"/>
<rect x="1012.63" y="437.42" width="14.08" height="14.1" fill="#2b2a57"/>
<rect x="1026.01" y="437.42" width="14.08" height="14.1" fill="#2a2955"/>
<rect x="1039.39" y="437.42" width="14.08" height="14.1" fill="#292853"/>
<rect x="1052.77" y="437.42" width="14.08" height="14.1" fill="#282751"/>
<rect x="1066.14" y="437.42" width="14.08" height="14.1" fill="#26254f"/>
<rect x="1079.52" y="437.42" width="14.08" height="14.1" fill="#25244c"/>
<rect x="1092.9" y="437.42" width="14.08" height="14.1" fill="#25244c"/>
<rect x="1106.27" y="437.42" width="14.08" height="14.1" fill="#25244c"/>
<rect x="1119.65" y="437.42" width="14.08" height="14.1" fill="#25244c"/>
<rect x="1133.03" y="437.42" width="14.08" height="14.1" fill="#25244b"/>
<rect x="1146.4" y="437.42" width="14.08" height="14.1" fill="#24234b"/>
<rect x="1159.78" y="437.42" width="14.08" height="14.1" fill="#24234a"/>
<rect x="1173.16" y="437.42" width="14.08" height="14.1" fill="#24234a"/>
<rect x="1186.54" y="437.42" width="14.08" height="14.1" fill="#232349"/>
<rect x="1199.91" y="437.42" width="14.08" height="14.1" fill="#232249"/>
<rect x="1213.29" y="437.42" width="13.38" height="14.1" fill="#232248"/>
<rect x="811.98" y="424.03" width="14.08" height="14.1" fill="#4684ba"/>
<rect x="825.36" y="424.03" width="14.08" height="14.1" fill="#4178b4"/>
<rect x="838.73" y="424.03" width="14.08" height="14.1" fill="#3e6bae"/>
<rect x="852.11" y="424.03" width="14.08" height="14.1" fill="#3d60a7"/>
<rect x="865.49" y="424.03" width="14.08" height="14.1" fill="#3d539c"/>
<rect x="878.87" y="424.03" width="14.08" height="14.1" fill="#3c488e"/>
<rect x="892.24" y="424.03" width="14.08" height="14.1" fill="#3a3f80"/>
<rect x="905.62" y="424.03" width="14.08" height="14.1" fill="#363770"/>
<rect x="919" y="424.03" width="14.08" height="14.1" fill="#302f61"/>
<rect x="932.37" y="424.03" width="14.08" height="14.1" fill="#2a2955"/>
<rect x="945.75" y="424.03" width="14.08" height="14.1" fill="#282752"/>
<rect x="959.13" y="424.03" width="14.08" height="14.1" fill="#27264f"/>
<rect x="972.5" y="424.03" width="14.08" height="14.1" fill="#25244c"/>
<rect x="985.88" y="424.03" width="14.08" height="14.1" fill="#232349"/>
<rect x="999.26" y="424.03" width="14.08" height="14.1" fill="#222147"/>
<rect x="1012.63" y="424.03" width="14.08" height="14.1" fill="#202044"/>
<rect x="1026.01" y="424.03" width="14.08" height="14.1" fill="#1f1f42"/>
<rect x="1039.39" y="424.03" width="14.08" height="14.1" fill="#1e1e41"/>
<rect x="1052.77" y="424.03" width="14.08" height="14.1" fill="#1d1d3f"/>
<rect x="1066.14" y="424.03" width="14.08" height="14.1" fill="#1c1c3d"/>
<rect x="1079.52" y="424.03" width="14.08" height="14.1" fill="#1a1b3a"/>
<rect x="1092.9" y="424.03" width="14.08" height="14.1" fill="#1a1b3a"/>
<rect x="1106.27" y="424.03" width="14.08" height="14.1" fill="#1a1b3a"/>
<rect x="1119.65" y="424.03" width="14.08" height="14.1" fill="#1a1b3a"/>
<rect x="1133.03" y="424.03" width="14.08" height="14.1" fill="#1a1b3a"/>
<rect x="1146.4" y="424.03" width="14.08" height="14.1" fill="#1a1b39"/>
<rect x="1159.78" y="424.03" width="14.08" height="14.1" fill="#1a1a38"/>
<rect x="1173.16" y="424.03" width="14.08" height="14.1" fill="#191a38"/>
<rect x="1186.54" y="424.03" width="14.08" height="14.1" fill="#191a37"/>
<rect x="1199.91" y="424.03" width="14.08" height="14.1" fill="#191937"/>
<rect x="1213.29" y="424.03" width="13.38" height="14.1" fill="#191936"/>
<rect x="811.98" y="410.63" width="14.08" height="14.1" fill="#437cb6"/>
<rect x="825.36" y="410.63" width="14.08" height="14.1" fill="#3f71b1"/>
<rect x="838.73" y="410.63" width="14.08" height="14.1" fill="#3d64aa"/>
<rect x="852.11" y="410.63" width="14.08" height="14.1" fill="#3d57a1"/>
<rect x="865.49" y="410.63" width="14.08" height="14.1" fill="#3c4b92"/>
<rect x="878.87" y="410.63" width="14.08" height="14.1" fill="#3a4082"/>
<rect x="892.24" y="410.63" width="14.08" height="14.1" fill="#363872"/>
<rect x="905.62" y="410.63" width="14.08" height="14.1" fill="#323164"/>
<rect x="919" y="410.63" width="14.08" height="14.1" fill="#2a2956"/>
<rect x="932.37" y="410.63" width="14.08" height="14.1" fill="#24234a"/>
<rect x="945.75" y="410.63" width="14.08" height="14.1" fill="#222248"/>
<rect x="959.13" y="410.63" width="14.08" height="14.1" fill="#212045"/>
<rect x="972.5" y="410.63" width="14.08" height="14.1" fill="#1f1f42"/>
<rect x="985.88" y="410.63" width="14.08" height="14.1" fill="#1e1e3f"/>
<rect x="999.26" y="410.63" width="14.08" height="14.1" fill="#1c1c3c"/>
<rect x="1012.63" y="410.63" width="14.08" height="14.1" fill="#1a1b3a"/>
<rect x="1026.01" y="410.63" width="14.08" height="14.1" fill="#191a38"/>
<rect x="1039.39" y="410.63" width="14.08" height="14.1" fill="#191936"/>
<rect x="1052.77" y="410.63" width="14.08" height="14.1" fill="#181835"/>
<rect x="1066.14" y="410.63" width="14.08" height="14.1" fill="#161732"/>
<rect x="1079.52" y="410.63" width="14.08" height="14.1" fill="#14152f"/>
<rect x="1092.9" y="410.63" width="14.08" height="14.1" fill="#14152f"/>
<rect x="1106.27" y="410.63" width="14.08" height="14.1" fill="#14152f"/>
<rect x="1119.65" y="410.63" width="14.08" height="14.1" fill="#14152f"/>
<rect x="1133.03" y="410.63" width="14.08" height="14.1" fill="#14152f"/>
<rect x="1146.4" y="410.63" width="14.08" height="14.1" fill="#14152e"/>
<rect x="1159.78" y="410.63" width="14.08" height="14.1" fill="#13142d"/>
<rect x="1173.16" y="410.63" width="14.08" height="14.1" fill="#13142c"/>
<rect x="1186.54" y="410.63" width="14.08" height="14.1" fill="#12132c"/>
<rect x="1199.91" y="410.63" width="14.08" height="14.1" fill="#12132b"/>
<rect x="1213.29" y="410.63" width="13.38" height="14.1" fill="#12132b"/>
<rect x="811.98" y="397.23" width="14.08" height="14.1" fill="#4178b4"/>
<rect x="825.36" y="397.23" width="14.08" height="14.1" fill="#3e6caf"/>
<rect x="838.73" y="397.23" width="14.08" height="14.1" fill="#3d5fa7"/>
<rect x="852.11" y="397.23" width="14.08" height="14.1" fill="#3d529b"/>
<rect x="865.49" y="397.23" width="14.08" height="14.1" fill="#3c468c"/>
<rect x="878.87" y="397.23" width="14.08" height="14.1" fill="#383c7a"/>
<rect x="892.24" y="397.23" width="14.08" height="14.1" fill="#35346a"/>
<rect x="905.62" y="397.23" width="14.08" height="14.1" fill="#2e2d5d"/>
<rect x="919" y="397.23" width="14.08" height="14.1" fill="#27264f"/>
<rect x="932.37" y="397.23" width="14.08" height="14.1" fill="#202044"/>
<rect x="945.75" y="397.23" width="14.08" height="14.1" fill="#1f1f41"/>
<rect x="959.13" y="397.23" width="14.08" height="14.1" fill="#1d1d3f"/>
<rect x="972.5" y="397.23" width="14.08" height="14.1" fill="#1c1c3c"/>
<rect x="985.88" y="397.23" width="14.08" height="14.1" fill="#1a1a39"/>
<rect x="999.26" y="397.23" width="14.08" height="14.1" fill="#181936"/>
<rect x="1012.63" y="397.23" width="14.08" height="14.1" fill="#171834"/>
<rect x="1026.01" y="397.23" width="14.08" height="14.1" fill="#161732"/>
<rect x="1039.39" y="397.23" width="14.08" height="14.1" fill="#151630"/>
<rect x="1052.77" y="397.23" width="14.08" height="14.1" fill="#13142d"/>
<rect x="1066.14" y="397.23" width="14.08" height="14.1" fill="#12132b"/>
<rect x="1079.52" y="397.23" width="14.08" height="14.1" fill="#0f1127"/>
<rect x="1092.9" y="397.23" width="14.08" height="14.1" fill="#0f1127"/>
<rect x="1106.27" y="397.23" width="14.08" height="14.1" fill="#0f1127"/>
<rect x="1119.65" y="397.23" width="14.08" height="14.1" fill="#0f1127"/>
<rect x="1133.03" y="397.23" width="14.08" height="14.1" fill="#0f1127"/>
<rect x="1146.4" y="397.23" width="14.08" height="14.1" fill="#0f1026"/>
<rect x="1159.78" y="397.23" width="14.08" height="14.1" fill="#0e1025"/>
<rect x="1173.16" y="397.23" width="14.08" height="14.1" fill="#0e0f25"/>
<rect x="1186.54" y="397.23" width="14.08" height="14.1" fill="#0e0f24"/>
<rect x="1199.91" y="397.23" width="14.08" height="14.1" fill="#0d0f23"/>
<rect x="1213.29" y="397.23" width="13.38" height="14.1" fill="#0d0e23"/>
<rect x="811.98" y="383.84" width="14.08" height="14.1" fill="#4075b3"/>
<rect x="825.36" y="383.84" width="14.08" height="14.1" fill="#3e69ad"/>
<rect x="838.73" y="383.84" width="14.08" height="14.1" fill="#3d5ca5"/>
<rect x="852.11" y="383.84" width="14.08" height="14.1" fill="#3c4f97"/>
<rect x="865.49" y="383.84" width="14.08" height="14.1" fill="#3b4287"/>
<rect x="878.87" y="383.84" width="14.08" height="14.1" fill="#373974"/>
<rect x="892.24" y="383.84" width="14.08" height="14.1" fill="#333265"/>
<rect x="905.62" y="383.84" width="14.08" height="14.1" fill="#2c2b59"/>
<rect x="919" y="383.84" width="14.08" height="14.1" fill="#24234b"/>
<rect x="932.37" y="383.84" width="14.08" height="14.1" fill="#1e1e40"/>
<rect x="945.75" y="383.84" width="14.08" height="14.1" fill="#1c1d3d"/>
<rect x="959.13" y="383.84" width="14.08" height="14.1" fill="#1b1b3a"/>
<rect x="972.5" y="383.84" width="14.08" height="14.1" fill="#191a37"/>
<rect x="985.88" y="383.84" width="14.08" height="14.1" fill="#181835"/>
<rect x="999.26" y="383.84" width="14.08" height="14.1" fill="#161732"/>
<rect x="1012.63" y="383.84" width="14.08" height="14.1" fill="#14152f"/>
<rect x="1026.01" y="383.84" width="14.08" height="14.1" fill="#13142c"/>
<rect x="1039.39" y="383.84" width="14.08" height="14.1" fill="#11132a"/>
<rect x="1052.77" y="383.84" width="14.08" height="14.1" fill="#101128"/>
<rect x="1066.14" y="383.84" width="14.08" height="14.1" fill="#0e1025"/>
<rect x="1079.52" y="383.84" width="14.08" height="14.1" fill="#0c0e21"/>
<rect x="1092.9" y="383.84" width="14.08" height="14.1" fill="#0c0e21"/>
<rect x="1106.27" y="383.84" width="14.08" height="14.1" fill="#0c0e21"/>
<rect x="1119.65" y="383.84" width="14.08" height="14.1" fill="#0c0e21"/>
<rect x="1133.03" y="383.84" width="14.08" height="14.1" fill="#0c0d21"/>
<rect x="1146.4" y="383.84" width="14.08" height="14.1" fill="#0c0d21"/>
<rect x="1159.78" y="383.84" width="14.08" height="14.1" fill="#0b0d20"/>
<rect x="1173.16" y="383.84" width="14.08" height="14.1" fill="#0b0c1f"/>
<rect x="1186.54" y="383.84" width="14.08" height="14.1" fill="#0a0c1e"/>
<rect x="1199.91" y="383.84" width="14.08" height="14.1" fill="#0a0c1e"/>
<rect x="1213.29" y="383.84" width="13.38" height="14.1" fill="#0a0b1d"/>
<rect x="811.98" y="370.44" width="14.08" height="14.1" fill="#4073b2"/>
<rect x="825.36" y="370.44" width="14.08" height="14.1" fill="#3e67ac"/>
<rect x="838.73" y="370.44" width="14.08" height="14.1" fill="#3d59a3"/>
<rect x="852.11" y="370.44" width="14.08" height="14.1" fill="#3c4c94"/>
<rect x="865.49" y="370.44" width="14.08" height="14.1" fill="#3a4183"/>
<rect x="878.87" y="370.44" width="14.08" height="14.1" fill="#363771"/>
<rect x="892.24" y="370.44" width="14.08" height="14.1" fill="#313062"/>
<rect x="905.62" y="370.44" width="14.08" height="14.1" fill="#2a2956"/>
<rect x="919" y="370.44" width="14.08" height="14.1" fill="#232248"/>
<rect x="932.37" y="370.44" width="14.08" height="14.1" fill="#1c1c3d"/>
<rect x="945.75" y="370.44" width="14.08" height="14.1" fill="#1b1b3a"/>
<rect x="959.13" y="370.44" width="14.08" height="14.1" fill="#191a38"/>
<rect x="972.5" y="370.44" width="14.08" height="14.1" fill="#181835"/>
<rect x="985.88" y="370.44" width="14.08" height="14.1" fill="#161732"/>
<rect x="999.26" y="370.44" width="14.08" height="14.1" fill="#14152e"/>
<rect x="1012.63" y="370.44" width="14.08" height="14.1" fill="#12132b"/>
<rect x="1026.01" y="370.44" width="14.08" height="14.1" fill="#101229"/>
<rect x="1039.39" y="370.44" width="14.08" height="14.1" fill="#0f1127"/>
<rect x="1052.77" y="370.44" width="14.08" height="14.1" fill="#0e0f25"/>
<rect x="1066.14" y="370.44" width="14.08" height="14.1" fill="#0c0e22"/>
<rect x="1079.52" y="370.44" width="14.08" height="14.1" fill="#0a0c1e"/>
<rect x="1092.9" y="370.44" width="14.08" height="14.1" fill="#0a0c1e"/>
<rect x="1106.27" y="370.44" width="14.08" height="14.1" fill="#0a0c1e"/>
<rect x="1119.65" y="370.44" width="14.08" height="14.1" fill="#0a0c1e"/>
<rect x="1133.03" y="370.44" width="14.08" height="14.1" fill="#0a0b1e"/>
<rect x="1146.4" y="370.44" width="14.08" height="14.1" fill="#090b1d"/>
<rect x="1159.78" y="370.44" width="14.08" height="14.1" fill="#090b1c"/>
<rect x="1173.16" y="370.44" width="14.08" height="14.1" fill="#090a1c"/>
<rect x="1186.54" y="370.44" width="14.08" height="14.1" fill="#080a1b"/>
<rect x="1199.91" y="370.44" width="14.08" height="14.1" fill="#080a1a"/>
<rect x="1213.29" y="370.44" width="13.38" height="14.1" fill="#07091a"/>
<rect x="811.98" y="357.04" width="14.08" height="14.1" fill="#3f72b2"/>
<rect x="825.36" y="357.04" width="14.08" height="14.1" fill="#3e66ab"/>
<rect x="838.73" y="357.04" width="14.08" height="14.1" fill="#3d58a1"/>
<rect x="852.11" y="357.04" width="14.08" height="14.1" fill="#3c4b92"/>
<rect x="865.49" y="357.04" width="14.08" height="14.1" fill="#3a3f81"/>
<rect x="878.87" y="357.04" width="14.08" height="14.1" fill="#36366e"/>
<rect x="892.24" y="357.04" width="14.08" height="14.1" fill="#302f60"/>
<rect x="905.62" y="357.04" width="14.08" height="14.1" fill="#292854"/>
<rect x="919" y="357.04" width="14.08" height="14.1" fill="#222146"/>
<rect x="932.37" y="357.04" width="14.08" height="14.1" fill="#1b1c3b"/>
<rect x="945.75" y="357.04" width="14.08" height="14.1" fill="#1a1a39"/>
<rect x="959.13" y="357.04" width="14.08" height="14.1" fill="#181936"/>
<rect x="972.5" y="357.04" width="14.08" height="14.1" fill="#161733"/>
<rect x="985.88" y="357.04" width="14.08" height="14.1" fill="#151630"/>
<rect x="999.26" y="357.04" width="14.08" height="14.1" fill="#12142c"/>
<rect x="1012.63" y="357.04" width="14.08" height="14.1" fill="#101229"/>
<rect x="1026.01" y="357.04" width="14.08" height="14.1" fill="#0f1026"/>
<rect x="1039.39" y="357.04" width="14.08" height="14.1" fill="#0e0f24"/>
<rect x="1052.77" y="357.04" width="14.08" height="14.1" fill="#0d0e22"/>
<rect x="1066.14" y="357.04" width="14.08" height="14.1" fill="#0b0c1f"/>
<rect x="1079.52" y="357.04" width="14.08" height="14.1" fill="#090a1c"/>
<rect x="1092.9" y="357.04" width="14.08" height="14.1" fill="#090a1c"/>
<rect x="1106.27" y="357.04" width="14.08" height="14.1" fill="#090a1c"/>
<rect x="1119.65" y="357.04" width="14.08" height="14.1" fill="#090a1c"/>
<rect x="1133.03" y="357.04" width="14.08" height="14.1" fill="#080a1b"/>
<rect x="1146.4" y="357.04" width="14.08" height="14.1" fill="#080a1b"/>
<rect x="1159.78" y="357.04" width="14.08" height="14.1" fill="#08091a"/>
<rect x="1173.16" y="357.04" width="14.08" height="14.1" fill="#070919"/>
<rect x="1186.54" y="357.04" width="14.08" height="14.1" fill="#070919"/>
<rect x="1199.91" y="357.04" width="14.08" height="14.1" fill="#060818"/>
<rect x="1213.29" y="357.04" width="13.38" height="14.1" fill="#060817"/>
<rect x="811.98" y="343.64" width="14.08" height="14.1" fill="#3f72b2"/>
<rect x="825.36" y="343.64" width="14.08" height="14.1" fill="#3e65ab"/>
<rect x="838.73" y="343.64" width="14.08" height="14.1" fill="#3d57a1"/>
<rect x="852.11" y="343.64" width="14.08" height="14.1" fill="#3c4a91"/>
<rect x="865.49" y="343.64" width="14.08" height="14.1" fill="#3a3f80"/>
<rect x="878.87" y="343.64" width="14.08" height="14.1" fill="#35366e"/>
<rect x="892.24" y="343.64" width="14.08" height="14.1" fill="#302f60"/>
<rect x="905.62" y="343.64" width="14.08" height="14.1" fill="#292853"/>
<rect x="919" y="343.64" width="14.08" height="14.1" fill="#212145"/>
<rect x="932.37" y="343.64" width="14.08" height="14.1" fill="#1b1b3a"/>
<rect x="945.75" y="343.64" width="14.08" height="14.1" fill="#191a38"/>
<rect x="959.13" y="343.64" width="14.08" height="14.1" fill="#181935"/>
<rect x="972.5" y="343.64" width="14.08" height="14.1" fill="#161732"/>
<rect x="985.88" y="343.64" width="14.08" height="14.1" fill="#14152f"/>
<rect x="999.26" y="343.64" width="14.08" height="14.1" fill="#12132b"/>
<rect x="1012.63" y="343.64" width="14.08" height="14.1" fill="#101128"/>
<rect x="1026.01" y="343.64" width="14.08" height="14.1" fill="#0f1026"/>
<rect x="1039.39" y="343.64" width="14.08" height="14.1" fill="#0d0f24"/>
<rect x="1052.77" y="343.64" width="14.08" height="14.1" fill="#0c0e21"/>
<rect x="1066.14" y="343.64" width="14.08" height="14.1" fill="#0a0c1e"/>
<rect x="1079.52" y="343.64" width="14.08" height="14.1" fill="#080a1b"/>
<rect x="1092.9" y="343.64" width="14.08" height="14.1" fill="#080a1b"/>
<rect x="1106.27" y="343.64" width="14.08" height="14.1" fill="#080a1b"/>
<rect x="1119.65" y="343.64" width="14.08" height="14.1" fill="#080a1b"/>
<rect x="1133.03" y="343.64" width="14.08" height="14.1" fill="#080a1b"/>
<rect x="1146.4" y="343.64" width="14.08" height="14.1" fill="#08091a"/>
<rect x="1159.78" y="343.64" width="14.08" height="14.1" fill="#070919"/>
<rect x="1173.16" y="343.64" width="14.08" height="14.1" fill="#070918"/>
<rect x="1186.54" y="343.64" width="14.08" height="14.1" fill="#060818"/>
<rect x="1199.91" y="343.64" width="14.08" height="14.1" fill="#060817"/>
<rect x="1213.29" y="343.64" width="13.38" height="14.1" fill="#060717"/>
<rect x="811.98" y="330.25" width="14.08" height="14.1" fill="#3f72b2"/>
<rect x="825.36" y="330.25" width="14.08" height="14.1" fill="#3e65ab"/>
<rect x="838.73" y="330.25" width="14.08" height="14.1" fill="#3d57a1"/>
<rect x="852.11" y="330.25" width="14.08" height="14.1" fill="#3c4a91"/>
<rect x="865.49" y="330.25" width="14.08" height="14.1" fill="#3a3f80"/>
<rect x="878.87" y="330.25" width="14.08" height="14.1" fill="#35366e"/>
<rect x="892.24" y="330.25" width="14.08" height="14.1" fill="#302f60"/>
<rect x="905.62" y="330.25" width="14.08" height="14.1" fill="#292853"/>
<rect x="919" y="330.25" width="14.08" height="14.1" fill="#212145"/>
<rect x="932.37" y="330.25" width="14.08" height="14.1" fill="#1b1b3a"/>
<rect x="945.75" y="330.25" width="14.08" height="14.1" fill="#191a38"/>
<rect x="959.13" y="330.25" width="14.08" height="14.1" fill="#181935"/>
<rect x="972.5" y="330.25" width="14.08" height="14.1" fill="#161732"/>
<rect x="985.88" y="330.25" width="14.08" height="14.1" fill="#14152f"/>
<rect x="999.26" y="330.25" width="14.08" height="14.1" fill="#12132b"/>
<rect x="1012.63" y="330.25" width="14.08" height="14.1" fill="#101128"/>
<rect x="1026.01" y="330.25" width="14.08" height="14.1" fill="#0f1026"/>
<rect x="1039.39" y="330.25" width="14.08" height="14.1" fill="#0d0f24"/>
<rect x="1052.77" y="330.25" width="14.08" height="14.1" fill="#0c0e21"/>
<rect x="1066.14" y="330.25" width="14.08" height="14.1" fill="#0a0c1e"/>
<rect x="1079.52" y="330.25" width="14.08" height="14.1" fill="#080a1b"/>
<rect x="1092.9" y="330.25" width="14.08" height="14.1" fill="#080a1b"/>
<rect x="1106.27" y="330.25" width="14.08" height="14.1" fill="#080a1b"/>
<rect x="1119.65" y="330.25" width="14.08" height="14.1" fill="#080a1b"/>
<rect x="1133.03" y="330.25" width="14.08" height="14.1" fill="#080a1b"/>
<rect x="1146.4" y="330.25" width="14.08" height="14.1" fill="#08091a"/>
<rect x="1159.78" y="330.25" width="14.08" height="14.1" fill="#070919"/>
<rect x="1173.16" y="330.25" width="14.08" height="14.1" fill="#070918"/>
<rect x="1186.54" y="330.25" width="14.08" height="14.1" fill="#060818"/>
<rect x="1199.91" y="330.25" width="14.08" height="14.1" fill="#060817"/>
<rect x="1213.29" y="330.25" width="13.38" height="14.1" fill="#060717"/>
<rect x="811.98" y="316.85" width="14.08" height="14.1" fill="#3f72b2"/>
<rect x="825.36" y="316.85" width="14.08" height="14.1" fill="#3e65ab"/>
<rect x="838.73" y="316.85" width="14.08" height="14.1" fill="#3d57a1"/>
<rect x="852.11" y="316.85" width="14.08" height="14.1" fill="#3c4a91"/>
<rect x="865.49" y="316.85" width="14.08" height="14.1" fill="#3a3f80"/>
<rect x="878.87" y="316.85" width="14.08" height="14.1" fill="#35366e"/>
<rect x="892.24" y="316.85" width="14.08" height="14.1" fill="#302f60"/>
<rect x="905.62" y="316.85" width="14.08" height="14.1" fill="#292853"/>
<rect x="919" y="316.85" width="14.08" height="14.1" fill="#212145"/>
<rect x="932.37" y="316.85" width="14.08" height="14.1" fill="#1b1b3a"/>
<rect x="945.75" y="316.85" width="14.08" height="14.1" fill="#191a38"/>
<rect x="959.13" y="316.85" width="14.08" height="14.1" fill="#181935"/>
<rect x="972.5" y="316.85" width="14.08" height="14.1" fill="#161732"/>
<rect x="985.88" y="316.85" width="14.08" height="14.1" fill="#14152f"/>
<rect x="999.26" y="316.85" width="14.08" height="14.1" fill="#12132b"/>
<rect x="1012.63" y="316.85" width="14.08" height="14.1" fill="#101128"/>
<rect x="1026.01" y="316.85" width="14.08" height="14.1" fill="#0f1026"/>
<rect x="1039.39" y="316.85" width="14.08" height="14.1" fill="#0d0f24"/>
<rect x="1052.77" y="316.85" width="14.08" height="14.1" fill="#0c0e21"/>
<rect x="1066.14" y="316.85" width="14.08" height="14.1" fill="#0a0c1e"/>
<rect x="1079.52" y="316.85" width="14.08" height="14.1" fill="#080a1b"/>
<rect x="1092.9" y="316.85" width="14.08" height="14.1" fill="#080a1b"/>
<rect x="1106.27" y="316.85" width="14.08" height="14.1" fill="#080a1b"/>
<rect x="1119.65" y="316.85" width="14.08" height="14.1" fill="#080a1b"/>
<rect x="1133.03" y="316.85" width="14.08" height="14.1" fill="#080a1b"/>
<rect x="1146.4" y="316.85" width="14.08" height="14.1" fill="#08091a"/>
<rect x="1159.78" y="316.85" width="14.08" height="14.1" fill="#070919"/>
<rect x="1173.16" y="316.85" width="14.08" height="14.1" fill="#070918"/>
<rect x="1186.54" y="316.85" width="14.08" height="14.1" fill="#060818"/>
<rect x="1199.91" y="316.85" width="14.08" height="14.1" fill="#060817"/>
<rect x="1213.29" y="316.85" width="13.38" height="14.1" fill="#060717"/>
<rect x="811.98" y="303.45" width="14.08" height="14.1" fill="#3f72b2"/>
<rect x="825.36" y="303.45" width="14.08" height="14.1" fill="#3e65ab"/>
<rect x="838.73" y="303.45" width="14.08" height="14.1" fill="#3d57a1"/>
<rect x="852.11" y="303.45" width="14.08" height="14.1" fill="#3c4a91"/>
<rect x="865.49" y="303.45" width="14.08" height="14.1" fill="#3a3f80"/>
<rect x="878.87" y="303.45" width="14.08" height="14.1" fill="#35366e"/>
<rect x="892.24" y="303.45" width="14.08" height="14.1" fill="#302f60"/>
<rect x="905.62" y="303.45" width="14.08" height="14.1" fill="#292853"/>
<rect x="919" y="303.45" width="14.08" height="14.1" fill="#212145"/>
<rect x="932.37" y="303.45" width="14.08" height="14.1" fill="#1b1b3a"/>
<rect x="945.75" y="303.45" width="14.08" height="14.1" fill="#191a38"/>
<rect x="959.13" y="303.45" width="14.08" height="14.1" fill="#181935"/>
<rect x="972.5" y="303.45" width="14.08" height="14.1" fill="#161732"/>
<rect x="985.88" y="303.45" width="14.08" height="14.1" fill="#14152f"/>
<rect x="999.26" y="303.45" width="14.08" height="14.1" fill="#12132b"/>
<rect x="1012.63" y="303.45" width="14.08" height="14.1" fill="#101128"/>
<rect x="1026.01" y="303.45" width="14.08" height="14.1" fill="#0f1026"/>
<rect x="1039.39" y="303.45" width="14.08" height="14.1" fill="#0d0f24"/>
<rect x="1052.77" y="303.45" width="14.08" height="14.1" fill="#0c0e21"/>
<rect x="1066.14" y="303.45" width="14.08" height="14.1" fill="#0a0c1e"/>
<rect x="1079.52" y="303.45" width="14.08" height="14.1" fill="#080a1b"/>
<rect x="1092.9" y="303.45" width="14.08" height="14.1" fill="#080a1b"/>
<rect x="1106.27" y="303.45" width="14.08" height="14.1" fill="#080a1b"/>
<rect x="1119.65" y="303.45" width="14.08" height="14.1" fill="#080a1b"/>
<rect x="1133.03" y="303.45" width="14.08" height="14.1" fill="#080a1b"/>
<rect x="1146.4" y="303.45" width="14.08" height="14.1" fill="#08091a"/>
<rect x="1159.78" y="303.45" width="14.08" height="14.1" fill="#070919"/>
<rect x="1173.16" y="303.45" width="14.08" height="14.1" fill="#070918"/>
<rect x="1186.54" y="303.45" width="14.08" height="14.1" fill="#060818"/>
<rect x="1199.91" y="303.45" width="14.08" height="14.1" fill="#060817"/>
<rect x="1213.29" y="303.45" width="13.38" height="14.1" fill="#060717"/>
<rect x="811.98" y="290.06" width="14.08" height="14.1" fill="#3f72b2"/>
<rect x="825.36" y="290.06" width="14.08" height="14.1" fill="#3e65ab"/>
<rect x="838.73" y="290.06" width="14.08" height="14.1" fill="#3d57a1"/>
<rect x="852.11" y="290.06" width="14.08" height="14.1" fill="#3c4a91"/>
<rect x="865.49" y="290.06" width="14.08" height="14.1" fill="#3a3f80"/>
<rect x="878.87" y="290.06" width="14.08" height="14.1" fill="#35366e"/>
<rect x="892.24" y="290.06" width="14.08" height="14.1" fill="#302f60"/>
<rect x="905.62" y="290.06" width="14.08" height="14.1" fill="#292853"/>
<rect x="919" y="290.06" width="14.08" height="14.1" fill="#212145"/>
<rect x="932.37" y="290.06" width="14.08" height="14.1" fill="#1b1b3a"/>
<rect x="945.75" y="290.06" width="14.08" height="14.1" fill="#191a38"/>
<rect x="959.13" y="290.06" width="14.08" height="14.1" fill="#181935"/>
<rect x="972.5" y="290.06" width="14.08" height="14.1" fill="#161732"/>
<rect x="985.88" y="290.06" width="14.08" height="14.1" fill="#14152f"/>
<rect x="999.26" y="290.06" width="14.08" height="14.1" fill="#12132b"/>
<rect x="1012.63" y="290.06" width="14.08" height="14.1" fill="#101128"/>
<rect x="1026.01" y="290.06" width="14.08" height="14.1" fill="#0f1026"/>
<rect x="1039.39" y="290.06" width="14.08" height="14.1" fill="#0d0f24"/>
<rect x="1052.77" y="290.06" width="14.08" height="14.1" fill="#0c0e21"/>
<rect x="1066.14" y="290.06" width="14.08" height="14.1" fill="#0a0c1e"/>
<rect x="1079.52" y="290.06" width="14.08" height="14.1" fill="#080a1b"/>
<rect x="1092.9" y="290.06" width="14.08" height="14.1" fill="#080a1b"/>
<rect x="1106.27" y="290.06" width="14.08" height="14.1" fill="#080a1b"/>
<rect x="1119.65" y="290.06" width="14.08" height="14.1" fill="#080a1b"/>
<rect x="1133.03" y="290.06" width="14.08" height="14.1" fill="#080a1b"/>
<rect x="1146.4" y="290.06" width="14.08" height="14.1" fill="#08091a"/>
<rect x="1159.78" y="290.06" width="14.08" height="14.1" fill="#070919"/>
<rect x="1173.16" y="290.06" width="14.08" height="14.1" fill="#070918"/>
<rect x="1186.54" y="290.06" width="14.08" height="14.1" fill="#060818"/>
<rect x="1199.91" y="290.06" width="14.08" height="14.1" fill="#060817"/>
<rect x="1213.29" y="290.06" width="13.38" height="14.1" fill="#060717"/>
<rect x="811.98" y="276.66" width="14.08" height="14.1" fill="#3f71b1"/>
<rect x="825.36" y="276.66" width="14.08" height="14.1" fill="#3e65aa"/>
<rect x="838.73" y="276.66" width="14.08" height="14.1" fill="#3d57a0"/>
<rect x="852.11" y="276.66" width="14.08" height="14.1" fill="#3c4a91"/>
<rect x="865.49" y="276.66" width="14.08" height="14.1" fill="#393f7f"/>
<rect x="878.87" y="276.66" width="14.08" height="14.1" fill="#35356d"/>
<rect x="892.24" y="276.66" width="14.08" height="14.1" fill="#2f2e5f"/>
<rect x="905.62" y="276.66" width="14.08" height="14.1" fill="#282752"/>
<rect x="919" y="276.66" width="14.08" height="14.1" fill="#212045"/>
<rect x="932.37" y="276.66" width="14.08" height="14.1" fill="#1a1b3a"/>
<rect x="945.75" y="276.66" width="14.08" height="14.1" fill="#191a37"/>
<rect x="959.13" y="276.66" width="14.08" height="14.1" fill="#171835"/>
<rect x="972.5" y="276.66" width="14.08" height="14.1" fill="#161731"/>
<rect x="985.88" y="276.66" width="14.08" height="14.1" fill="#14152e"/>
<rect x="999.26" y="276.66" width="14.08" height="14.1" fill="#11132a"/>
<rect x="1012.63" y="276.66" width="14.08" height="14.1" fill="#0f1127"/>
<rect x="1026.01" y="276.66" width="14.08" height="14.1" fill="#0e1025"/>
<rect x="1039.39" y="276.66" width="14.08" height="14.1" fill="#0d0e23"/>
<rect x="1052.77" y="276.66" width="14.08" height="14.1" fill="#0b0d20"/>
<rect x="1066.14" y="276.66" width="14.08" height="14.1" fill="#0a0b1e"/>
<rect x="1079.52" y="276.66" width="14.08" height="14.1" fill="#08091a"/>
<rect x="1092.9" y="276.66" width="14.08" height="14.1" fill="#08091a"/>
<rect x="1106.27" y="276.66" width="14.08" height="14.1" fill="#08091a"/>
<rect x="1119.65" y="276.66" width="14.08" height="14.1" fill="#08091a"/>
<rect x="1133.03" y="276.66" width="14.08" height="14.1" fill="#07091a"/>
<rect x="1146.4" y="276.66" width="14.08" height="14.1" fill="#070919"/>
<rect x="1159.78" y="276.66" width="14.08" height="14.1" fill="#070818"/>
<rect x="1173.16" y="276.66" width="14.08" height="14.1" fill="#060818"/>
<rect x="1186.54" y="276.66" width="14.08" height="14.1" fill="#060817"/>
<rect x="1199.91" y="276.66" width="14.08" height="14.1" fill="#050716"/>
<rect x="1213.29" y="276.66" width="13.38" height="14.1" fill="#050716"/>
<rect x="811.98" y="263.26" width="14.08" height="14.1" fill="#3f71b1"/>
<rect x="825.36" y="263.26" width="14.08" height="14.1" fill="#3e65aa"/>
<rect x="838.73" y="263.26" width="14.08" height="14.1" fill="#3d57a0"/>
<rect x="852.11" y="263.26" width="14.08" height="14.1" fill="#3c4a91"/>
<rect x="865.49" y="263.26" width="14.08" height="14.1" fill="#393f7f"/>
<rect x="878.87" y="263.26" width="14.08" height="14.1" fill="#35356d"/>
<rect x="892.24" y="263.26" width="14.08" height="14.1" fill="#2f2e5f"/>
<rect x="905.62" y="263.26" width="14.08" height="14.1" fill="#282752"/>
<rect x="919" y="263.26" width="14.08" height="14.1" fill="#212045"/>
<rect x="932.37" y="263.26" width="14.08" height="14.1" fill="#1a1b3a"/>
<rect x="945.75" y="263.26" width="14.08" height="14.1" fill="#191a37"/>
<rect x="959.13" y="263.26" width="14.08" height="14.1" fill="#171835"/>
<rect x="972.5" y="263.26" width="14.08" height="14.1" fill="#161731"/>
<rect x="985.88" y="263.26" width="14.08" height="14.1" fill="#14152e"/>
<rect x="999.26" y="263.26" width="14.08" height="14.1" fill="#11132a"/>
<rect x="1012.63" y="263.26" width="14.08" height="14.1" fill="#0f1127"/>
<rect x="1026.01" y="263.26" width="14.08" height="14.1" fill="#0e1025"/>
<rect x="1039.39" y="263.26" width="14.08" height="14.1" fill="#0d0e23"/>
<rect x="1052.77" y="263.26" width="14.08" height="14.1" fill="#0b0d20"/>
<rect x="1066.14" y="263.26" width="14.08" height="14.1" fill="#0a0b1e"/>
<rect x="1079.52" y="263.26" width="14.08" height="14.1" fill="#08091a"/>
<rect x="1092.9" y="263.26" width="14.08" height="14.1" fill="#08091a"/>
<rect x="1106.27" y="263.26" width="14.08" height="14.1" fill="#08091a"/>
<rect x="1119.65" y="263.26" width="14.08" height="14.1" fill="#08091a"/>
<rect x="1133.03" y="263.26" width="14.08" height="14.1" fill="#07091a"/>
<rect x="1146.4" y="263.26" width="14.08" height="14.1" fill="#070919"/>
<rect x="1159.78" y="263.26" width="14.08" height="14.1" fill="#070818"/>
<rect x="1173.16" y="263.26" width="14.08" height="14.1" fill="#060818"/>
<rect x="1186.54" y="263.26" width="14.08" height="14.1" fill="#060817"/>
<rect x="1199.91" y="263.26" width="14.08" height="14.1" fill="#050716"/>
<rect x="1213.29" y="263.26" width="13.38" height="14.1" fill="#050716"/>
<rect x="811.98" y="249.87" width="14.08" height="14.1" fill="#3f71b1"/>
<rect x="825.36" y="249.87" width="14.08" height="14.1" fill="#3e65aa"/>
<rect x="838.73" y="249.87" width="14.08" height="14.1" fill="#3d57a0"/>
<rect x="852.11" y="249.87" width="14.08" height="14.1" fill="#3c4a91"/>
<rect x="865.49" y="249.87" width="14.08" height="14.1" fill="#393f7f"/>
<rect x="878.87" y="249.87" width="14.08" height="14.1" fill="#35356d"/>
<rect x="892.24" y="249.87" width="14.08" height="14.1" fill="#2f2e5f"/>
<rect x="905.62" y="249.87" width="14.08" height="14.1" fill="#282752"/>
<rect x="919" y="249.87" width="14.08" height="14.1" fill="#212045"/>
<rect x="932.37" y="249.87" width="14.08" height="14.1" fill="#1a1b3a"/>
<rect x="945.75" y="249.87" width="14.08" height="14.1" fill="#191a37"/>
<rect x="959.13" y="249.87" width="14.08" height="14.1" fill="#171835"/>
<rect x="972.5" y="249.87" width="14.08" height="14.1" fill="#161731"/>
<rect x="985.88" y="249.87" width="14.08" height="14.1" fill="#14152e"/>
<rect x="999.26" y="249.87" width="14.08" height="14.1" fill="#11132a"/>
<rect x="1012.63" y="249.87" width="14.08" height="14.1" fill="#0f1127"/>
<rect x="1026.01" y="249.87" width="14.08" height="14.1" fill="#0e1025"/>
<rect x="1039.39" y="249.87" width="14.08" height="14.1" fill="#0d0e23"/>
<rect x="1052.77" y="249.87" width="14.08" height="14.1" fill="#0b0d20"/>
<rect x="1066.14" y="249.87" width="14.08" height="14.1" fill="#0a0b1e"/>
<rect x="1079.52" y="249.87" width="14.08" height="14.1" fill="#08091a"/>
<rect x="1092.9" y="249.87" width="14.08" height="14.1" fill="#08091a"/>
<rect x="1106.27" y="249.87" width="14.08" height="14.1" fill="#08091a"/>
<rect x="1119.65" y="249.87" width="14.08" height="14.1" fill="#08091a"/>
<rect x="1133.03" y="249.87" width="14.08" height="14.1" fill="#07091a"/>
<rect x="1146.4" y="249.87" width="14.08" height="14.1" fill="#070919"/>
<rect x="1159.78" y="249.87" width="14.08" height="14.1" fill="#070818"/>
<rect x="1173.16" y="249.87" width="14.08" height="14.1" fill="#060818"/>
<rect x="1186.54" y="249.87" width="14.08" height="14.1" fill="#060817"/>
<rect x="1199.91" y="249.87" width="14.08" height="14.1" fill="#050716"/>
<rect x="1213.29" y="249.87" width="13.38" height="14.1" fill="#050716"/>
<rect x="811.98" y="236.47" width="14.08" height="14.1" fill="#3f71b1"/>
<rect x="825.36" y="236.47" width="14.08" height="14.1" fill="#3e65aa"/>
<rect x="838.73" y="236.47" width="14.08" height="14.1" fill="#3d57a0"/>
<rect x="852.11" y="236.47" width="14.08" height="14.1" fill="#3c4a91"/>
<rect x="865.49" y="236.47" width="14.08" height="14.1" fill="#393f7f"/>
<rect x="878.87" y="236.47" width="14.08" height="14.1" fill="#35356d"/>
<rect x="892.24" y="236.47" width="14.08" height="14.1" fill="#2f2e5f"/>
<rect x="905.62" y="236.47" width="14.08" height="14.1" fill="#282752"/>
<rect x="919" y="236.47" width="14.08" height="14.1" fill="#212045"/>
<rect x="932.37" y="236.47" width="14.08" height="14.1" fill="#1a1b3a"/>
<rect x="945.75" y="236.47" width="14.08" height="14.1" fill="#191a37"/>
<rect x="959.13" y="236.47" width="14.08" height="14.1" fill="#171835"/>
<rect x="972.5" y="236.47" width="14.08" height="14.1" fill="#161731"/>
<rect x="985.88" y="236.47" width="14.08" height="14.1" fill="#14152e"/>
<rect x="999.26" y="236.47" width="14.08" height="14.1" fill="#11132a"/>
<rect x="1012.63" y="236.47" width="14.08" height="14.1" fill="#0f1127"/>
<rect x="1026.01" y="236.47" width="14.08" height="14.1" fill="#0e1025"/>
<rect x="1039.39" y="236.47" width="14.08" height="14.1" fill="#0d0e23"/>
<rect x="1052.77" y="236.47" width="14.08" height="14.1" fill="#0b0d20"/>
<rect x="1066.14" y="236.47" width="14.08" height="14.1" fill="#0a0b1e"/>
<rect x="1079.52" y="236.47" width="14.08" height="14.1" fill="#08091a"/>
<rect x="1092.9" y="236.47" width="14.08" height="14.1" fill="#08091a"/>
<rect x="1106.27" y="236.47" width="14.08" height="14.1" fill="#08091a"/>
<rect x="1119.65" y="236.47" width="14.08" height="14.1" fill="#08091a"/>
<rect x="1133.03" y="236.47" width="14.08" height="14.1" fill="#07091a"/>
<rect x="1146.4" y="236.47" width="14.08" height="14.1" fill="#070919"/>
<rect x="1159.78" y="236.47" width="14.08" height="14.1" fill="#070818"/>
<rect x="1173.16" y="236.47" width="14.08" height="14.1" fill="#060818"/>
<rect x="1186.54" y="236.47" width="14.08" height="14.1" fill="#060817"/>
<rect x="1199.91" y="236.47" width="14.08" height="14.1" fill="#050716"/>
<rect x="1213.29" y="236.47" width="13.38" height="14.1" fill="#050716"/>
<rect x="811.98" y="223.07" width="14.08" height="14.1" fill="#3f71b1"/>
<rect x="825.36" y="223.07" width="14.08" height="14.1" fill="#3e65aa"/>
<rect x="838.73" y="223.07" width="14.08" height="14.1" fill="#3d57a0"/>
<rect x="852.11" y="223.07" width="14.08" height="14.1" fill="#3c4a91"/>
<rect x="865.49" y="223.07" width="14.08" height="14.1" fill="#393f7f"/>
<rect x="878.87" y="223.07" width="14.08" height="14.1" fill="#35356d"/>
<rect x="892.24" y="223.07" width="14.08" height="14.1" fill="#2f2e5f"/>
<rect x="905.62" y="223.07" width="14.08" height="14.1" fill="#282752"/>
<rect x="919" y="223.07" width="14.08" height="14.1" fill="#212045"/>
<rect x="932.37" y="223.07" width="14.08" height="14.1" fill="#1a1b3a"/>
<rect x="945.75" y="223.07" width="14.08" height="14.1" fill="#191a37"/>
<rect x="959.13" y="223.07" width="14.08" height="14.1" fill="#171835"/>
<rect x="972.5" y="223.07" width="14.08" height="14.1" fill="#161731"/>
<rect x="985.88" y="223.07" width="14.08" height="14.1" fill="#14152e"/>
<rect x="999.26" y="223.07" width="14.08" height="14.1" fill="#11132a"/>
<rect x="1012.63" y="223.07" width="14.08" height="14.1" fill="#0f1127"/>
<rect x="1026.01" y="223.07" width="14.08" height="14.1" fill="#0e1025"/>
<rect x="1039.39" y="223.07" width="14.08" height="14.1" fill="#0d0e23"/>
<rect x="1052.77" y="223.07" width="14.08" height="14.1" fill="#0b0d20"/>
<rect x="1066.14" y="223.07" width="14.08" height="14.1" fill="#0a0b1e"/>
<rect x="1079.52" y="223.07" width="14.08" height="14.1" fill="#08091a"/>
<rect x="1092.9" y="223.07" width="14.08" height="14.1" fill="#08091a"/>
<rect x="1106.27" y="223.07" width="14.08" height="14.1" fill="#08091a"/>
<rect x="1119.65" y="223.07" width="14.08" height="14.1" fill="#08091a"/>
<rect x="1133.03" y="223.07" width="14.08" height="14.1" fill="#07091a"/>
<rect x="1146.4" y="223.07" width="14.08" height="14.1" fill="#070919"/>
<rect x="1159.78" y="223.07" width="14.08" height="14.1" fill="#070818"/>
<rect x="1173.16" y="223.07" width="14.08" height="14.1" fill="#060818"/>
<rect x="1186.54" y="223.07" width="14.08" height="14.1" fill="#060817"/>
<rect x="1199.91" y="223.07" width="14.08" height="14.1" fill="#050716"/>
<rect x="1213.29" y="223.07" width="13.38" height="14.1" fill="#050716"/>
<rect x="811.98" y="209.68" width="14.08" height="14.1" fill="#3f71b1"/>
<rect x="825.36" y="209.68" width="14.08" height="14.1" fill="#3e65aa"/>
<rect x="838.73" y="209.68" width="14.08" height="14.1" fill="#3d57a0"/>
<rect x="852.11" y="209.68" width="14.08" height="14.1" fill="#3c4a91"/>
<rect x="865.49" y="209.68" width="14.08" height="14.1" fill="#393f7f"/>
<rect x="878.87" y="209.68" width="14.08" height="14.1" fill="#35356d"/>
<rect x="892.24" y="209.68" width="14.08" height="14.1" fill="#2f2e5f"/>
<rect x="905.62" y="209.68" width="14.08" height="14.1" fill="#282752"/>
<rect x="919" y="209.68" width="14.08" height="14.1" fill="#212045"/>
<rect x="932.37" y="209.68" width="14.08" height="14.1" fill="#1a1b3a"/>
<rect x="945.75" y="209.68" width="14.08" height="14.1" fill="#191a37"/>
<rect x="959.13" y="209.68" width="14.08" height="14.1" fill="#171835"/>
<rect x="972.5" y="209.68" width="14.08" height="14.1" fill="#161731"/>
<rect x="985.88" y="209.68" width="14.08" height="14.1" fill="#14152e"/>
<rect x="999.26" y="209.68" width="14.08" height="14.1" fill="#11132a"/>
<rect x="1012.63" y="209.68" width="14.08" height="14.1" fill="#0f1127"/>
<rect x="1026.01" y="209.68" width="14.08" height="14.1" fill="#0e1025"/>
<rect x="1039.39" y="209.68" width="14.08" height="14.1" fill="#0d0e23"/>
<rect x="1052.77" y="209.68" width="14.08" height="14.1" fill="#0b0d20"/>
<rect x="1066.14" y="209.68" width="14.08" height="14.1" fill="#0a0b1e"/>
<rect x="1079.52" y="209.68" width="14.08" height="14.1" fill="#08091a"/>
<rect x="1092.9" y="209.68" width="14.08" height="14.1" fill="#08091a"/>
<rect x="1106.27" y="209.68" width="14.08" height="14.1" fill="#08091a"/>
<rect x="1119.65" y="209.68" width="14.08" height="14.1" fill="#08091a"/>
<rect x="1133.03" y="209.68" width="14.08" height="14.1" fill="#07091a"/>
<rect x="1146.4" y="209.68" width="14.08" height="14.1" fill="#070919"/>
<rect x="1159.78" y="209.68" width="14.08" height="14.1" fill="#070818"/>
<rect x="1173.16" y="209.68" width="14.08" height="14.1" fill="#060818"/>
<rect x="1186.54" y="209.68" width="14.08" height="14.1" fill="#060817"/>
<rect x="1199.91" y="209.68" width="14.08" height="14.1" fill="#050716"/>
<rect x="1213.29" y="209.68" width="13.38" height="14.1" fill="#050716"/>
<rect x="811.98" y="196.28" width="14.08" height="14.1" fill="#3f71b1"/>
<rect x="825.36" y="196.28" width="14.08" height="14.1" fill="#3e65aa"/>
<rect x="838.73" y="196.28" width="14.08" height="14.1" fill="#3d57a0"/>
<rect x="852.11" y="196.28" width="14.08" height="14.1" fill="#3c4a91"/>
<rect x="865.49" y="196.28" width="14.08" height="14.1" fill="#393f7f"/>
<rect x="878.87" y="196.28" width="14.08" height="14.1" fill="#35356d"/>
<rect x="892.24" y="196.28" width="14.08" height="14.1" fill="#2f2e5f"/>
<rect x="905.62" y="196.28" width="14.08" height="14.1" fill="#282752"/>
<rect x="919" y="196.28" width="14.08" height="14.1" fill="#212045"/>
<rect x="932.37" y="196.28" width="14.08" height="14.1" fill="#1a1b3a"/>
<rect x="945.75" y="196.28" width="14.08" height="14.1" fill="#191a37"/>
<rect x="959.13" y="196.28" width="14.08" height="14.1" fill="#171835"/>
<rect x="972.5" y="196.28" width="14.08" height="14.1" fill="#161731"/>
<rect x="985.88" y="196.28" width="14.08" height="14.1" fill="#14152e"/>
<rect x="999.26" y="196.28" width="14.08" height="14.1" fill="#11132a"/>
<rect x="1012.63" y="196.28" width="14.08" height="14.1" fill="#0f1127"/>
<rect x="1026.01" y="196.28" width="14.08" height="14.1" fill="#0e1025"/>
<rect x="1039.39" y="196.28" width="14.08" height="14.1" fill="#0d0e23"/>
<rect x="1052.77" y="196.28" width="14.08" height="14.1" fill="#0b0d20"/>
<rect x="1066.14" y="196.28" width="14.08" height="14.1" fill="#0a0b1e"/>
<rect x="1079.52" y="196.28" width="14.08" height="14.1" fill="#08091a"/>
<rect x="1092.9" y="196.28" width="14.08" height="14.1" fill="#08091a"/>
<rect x="1106.27" y="196.28" width="14.08" height="14.1" fill="#08091a"/>
<rect x="1119.65" y="196.28" width="14.08" height="14.1" fill="#08091a"/>
<rect x="1133.03" y="196.28" width="14.08" height="14.1" fill="#07091a"/>
<rect x="1146.4" y="196.28" width="14.08" height="14.1" fill="#070919"/>
<rect x="1159.78" y="196.28" width="14.08" height="14.1" fill="#070818"/>
<rect x="1173.16" y="196.28" width="14.08" height="14.1" fill="#060818"/>
<rect x="1186.54" y="196.28" width="14.08" height="14.1" fill="#060817"/>
<rect x="1199.91" y="196.28" width="14.08" height="14.1" fill="#050716"/>
<rect x="1213.29" y="196.28" width="13.38" height="14.1" fill="#050716"/>
<rect x="811.98" y="182.88" width="14.08" height="14.1" fill="#3f71b1"/>
<rect x="825.36" y="182.88" width="14.08" height="14.1" fill="#3e65aa"/>
<rect x="838.73" y="182.88" width="14.08" height="14.1" fill="#3d57a0"/>
<rect x="852.11" y="182.88" width="14.08" height="14.1" fill="#3c4a91"/>
<rect x="865.49" y="182.88" width="14.08" height="14.1" fill="#393f7f"/>
<rect x="878.87" y="182.88" width="14.08" height="14.1" fill="#35356d"/>
<rect x="892.24" y="182.88" width="14.08" height="14.1" fill="#2f2e5f"/>
<rect x="905.62" y="182.88" width="14.08" height="14.1" fill="#282752"/>
<rect x="919" y="182.88" width="14.08" height="14.1" fill="#212045"/>
<rect x="932.37" y="182.88" width="14.08" height="14.1" fill="#1a1b3a"/>
<rect x="945.75" y="182.88" width="14.08" height="14.1" fill="#191a37"/>
<rect x="959.13" y="182.88" width="14.08" height="14.1" fill="#171835"/>
<rect x="972.5" y="182.88" width="14.08" height="14.1" fill="#161731"/>
<rect x="985.88" y="182.88" width="14.08" height="14.1" fill="#14152e"/>
<rect x="999.26" y="182.88" width="14.08" height="14.1" fill="#11132a"/>
<rect x="1012.63" y="182.88" width="14.08" height="14.1" fill="#0f1127"/>
<rect x="1026.01" y="182.88" width="14.08" height="14.1" fill="#0e1025"/>
<rect x="1039.39" y="182.88" width="14.08" height="14.1" fill="#0d0e23"/>
<rect x="1052.77" y="182.88" width="14.08" height="14.1" fill="#0b0d20"/>
<rect x="1066.14" y="182.88" width="14.08" height="14.1" fill="#0a0b1e"/>
<rect x="1079.52" y="182.88" width="14.08" height="14.1" fill="#08091a"/>
<rect x="1092.9" y="182.88" width="14.08" height="14.1" fill="#08091a"/>
<rect x="1106.27" y="182.88" width="14.08" height="14.1" fill="#08091a"/>
<rect x="1119.65" y="182.88" width="14.08" height="14.1" fill="#08091a"/>
<rect x="1133.03" y="182.88" width="14.08" height="14.1" fill="#07091a"/>
<rect x="1146.4" y="182.88" width="14.08" height="14.1" fill="#070919"/>
<rect x="1159.78" y="182.88" width="14.08" height="14.1" fill="#070818"/>
<rect x="1173.16" y="182.88" width="14.08" height="14.1" fill="#060818"/>
<rect x="1186.54" y="182.88" width="14.08" height="14.1" fill="#060817"/>
<rect x="1199.91" y="182.88" width="14.08" height="14.1" fill="#050716"/>
<rect x="1213.29" y="182.88" width="13.38" height="14.1" fill="#050716"/>
<rect x="811.98" y="169.48" width="14.08" height="14.1" fill="#3f71b1"/>
<rect x="825.36" y="169.48" width="14.08" height="14.1" fill="#3e65aa"/>
<rect x="838.73" y="169.48" width="14.08" height="14.1" fill="#3d57a0"/>
<rect x="852.11" y="169.48" width="14.08" height="14.1" fill="#3c4a91"/>
<rect x="865.49" y="169.48" width="14.08" height="14.1" fill="#393f7f"/>
<rect x="878.87" y="169.48" width="14.08" height="14.1" fill="#35356d"/>
<rect x="892.24" y="169.48" width="14.08" height="14.1" fill="#2f2e5f"/>
<rect x="905.62" y="169.48" width="14.08" height="14.1" fill="#282752"/>
<rect x="919" y="169.48" width="14.08" height="14.1" fill="#212045"/>
<rect x="932.37" y="169.48" width="14.08" height="14.1" fill="#1a1b3a"/>
<rect x="945.75" y="169.48" width="14.08" height="14.1" fill="#191a37"/>
<rect x="959.13" y="169.48" width="14.08" height="14.1" fill="#171835"/>
<rect x="972.5" y="169.48" width="14.08" height="14.1" fill="#161731"/>
<rect x="985.88" y="169.48" width="14.08" height="14.1" fill="#14152e"/>
<rect x="999.26" y="169.48" width="14.08" height="14.1" fill="#11132a"/>
<rect x="1012.63" y="169.48" width="14.08" height="14.1" fill="#0f1127"/>
<rect x="1026.01" y="169.48" width="14.08" height="14.1" fill="#0e1025"/>
<rect x="1039.39" y="169.48" width="14.08" height="14.1" fill="#0d0e23"/>
<rect x="1052.77" y="169.48" width="14.08" height="14.1" fill="#0b0d20"/>
<rect x="1066.14" y="169.48" width="14.08" height="14.1" fill="#0a0b1e"/>
<rect x="1079.52" y="169.48" width="14.08" height="14.1" fill="#08091a"/>
<rect x="1092.9" y="169.48" width="14.08" height="14.1" fill="#08091a"/>
<rect x="1106.27" y="169.48" width="14.08" height="14.1" fill="#08091a"/>
<rect x="1119.65" y="169.48" width="14.08" height="14.1" fill="#08091a"/>
<rect x="1133.03" y="169.48" width="14.08" height="14.1" fill="#07091a"/>
<rect x="1146.4" y="169.48" width="14.08" height="14.1" fill="#070919"/>
<rect x="1159.78" y="169.48" width="14.08" height="14.1" fill="#070818"/>
<rect x="1173.16" y="169.48" width="14.08" height="14.1" fill="#060818"/>
<rect x="1186.54" y="169.48" width="14.08" height="14.1" fill="#060817"/>
<rect x="1199.91" y="169.48" width="14.08" height="14.1" fill="#050716"/>
<rect x="1213.29" y="169.48" width="13.38" height="14.1" fill="#050716"/>
<rect x="811.98" y="156.09" width="14.08" height="14.1" fill="#3f71b1"/>
<rect x="825.36" y="156.09" width="14.08" height="14.1" fill="#3e65aa"/>
<rect x="838.73" y="156.09" width="14.08" height="14.1" fill="#3d57a0"/>
<rect x="852.11" y="156.09" width="14.08" height="14.1" fill="#3c4a91"/>
<rect x="865.49" y="156.09" width="14.08" height="14.1" fill="#393f7f"/>
<rect x="878.87" y="156.09" width="14.08" height="14.1" fill="#35356d"/>
<rect x="892.24" y="156.09" width="14.08" height="14.1" fill="#2f2e5f"/>
<rect x="905.62" y="156.09" width="14.08" height="14.1" fill="#282752"/>
<rect x="919" y="156.09" width="14.08" height="14.1" fill="#212045"/>
<rect x="932.37" y="156.09" width="14.08" height="14.1" fill="#1a1b3a"/>
<rect x="945.75" y="156.09" width="14.08" height="14.1" fill="#191a37"/>
<rect x="959.13" y="156.09" width="14.08" height="14.1" fill="#171835"/>
<rect x="972.5" y="156.09" width="14.08" height="14.1" fill="#161731"/>
<rect x="985.88" y="156.09" width="14.08" height="14.1" fill="#14152e"/>
<rect x="999.26" y="156.09" width="14.08" height="14.1" fill="#11132a"/>
<rect x="1012.63" y="156.09" width="14.08" height="14.1" fill="#0f1127"/>
<rect x="1026.01" y="156.09" width="14.08" height="14.1" fill="#0e1025"/>
<rect x="1039.39" y="156.09" width="14.08" height="14.1" fill="#0d0e23"/>
<rect x="1052.77" y="156.09" width="14.08" height="14.1" fill="#0b0d20"/>
<rect x="1066.14" y="156.09" width="14.08" height="14.1" fill="#0a0b1e"/>
<rect x="1079.52" y="156.09" width="14.08" height="14.1" fill="#08091a"/>
<rect x="1092.9" y="156.09" width="14.08" height="14.1" fill="#08091a"/>
<rect x="1106.27" y="156.09" width="14.08" height="14.1" fill="#08091a"/>
<rect x="1119.65" y="156.09" width="14.08" height="14.1" fill="#08091a"/>
<rect x="1133.03" y="156.09" width="14.08" height="14.1" fill="#07091a"/>
<rect x="1146.4" y="156.09" width="14.08" height="14.1" fill="#070919"/>
<rect x="1159.78" y="156.09" width="14.08" height="14.1" fill="#070818"/>
<rect x="1173.16" y="156.09" width="14.08" height="14.1" fill="#060818"/>
<rect x="1186.54" y="156.09" width="14.08" height="14.1" fill="#060817"/>
<rect x="1199.91" y="156.09" width="14.08" height="14.1" fill="#050716"/>
<rect x="1213.29" y="156.09" width="13.38" height="14.1" fill="#050716"/>
<rect x="811.98" y="142.69" width="14.08" height="14.1" fill="#3f71b1"/>
<rect x="825.36" y="142.69" width="14.08" height="14.1" fill="#3e65aa"/>
<rect x="838.73" y="142.69" width="14.08" height="14.1" fill="#3d57a0"/>
<rect x="852.11" y="142.69" width="14.08" height="14.1" fill="#3c4a91"/>
<rect x="865.49" y="142.69" width="14.08" height="14.1" fill="#393f7f"/>
<rect x="878.87" y="142.69" width="14.08" height="14.1" fill="#35356d"/>
<rect x="892.24" y="142.69" width="14.08" height="14.1" fill="#2f2e5f"/>
<rect x="905.62" y="142.69" width="14.08" height="14.1" fill="#282752"/>
<rect x="919" y="142.69" width="14.08" height="14.1" fill="#212045"/>
<rect x="932.37" y="142.69" width="14.08" height="14.1" fill="#1a1b3a"/>
<rect x="945.75" y="142.69" width="14.08" height="14.1" fill="#191a37"/>
<rect x="959.13" y="142.69" width="14.08" height="14.1" fill="#171835"/>
<rect x="972.5" y="142.69" width="14.08" height="14.1" fill="#161731"/>
<rect x="985.88" y="142.69" width="14.08" height="14.1" fill="#14152e"/>
<rect x="999.26" y="142.69" width="14.08" height="14.1" fill="#11132a"/>
<rect x="1012.63" y="142.69" width="14.08" height="14.1" fill="#0f1127"/>
<rect x="1026.01" y="142.69" width="14.08" height="14.1" fill="#0e1025"/>
<rect x="1039.39" y="142.69" width="14.08" height="14.1" fill="#0d0e23"/>
<rect x="1052.77" y="142.69" width="14.08" height="14.1" fill="#0b0d20"/>
<rect x="1066.14" y="142.69" width="14.08" height="14.1" fill="#0a0b1e"/>
<rect x="1079.52" y="142.69" width="14.08" height="14.1" fill="#08091a"/>
<rect x="1092.9" y="142.69" width="14.08" height="14.1" fill="#08091a"/>
<rect x="1106.27" y="142.69" width="14.08" height="14.1" fill="#08091a"/>
<rect x="1119.65" y="142.69" width="14.08" height="14.1" fill="#08091a"/>
<rect x="1133.03" y="142.69" width="14.08" height="14.1" fill="#07091a"/>
<rect x="1146.4" y="142.69" width="14.08" height="14.1" fill="#070919"/>
<rect x="1159.78" y="142.69" width="14.08" height="14.1" fill="#070818"/>
<rect x="1173.16" y="142.69" width="14.08" height="14.1" fill="#060818"/>
<rect x="1186.54" y="142.69" width="14.08" height="14.1" fill="#060817"/>
<rect x="1199.91" y="142.69" width="14.08" height="14.1" fill="#050716"/>
<rect x="1213.29" y="142.69" width="13.38" height="14.1" fill="#050716"/>
<rect x="811.98" y="129.29" width="14.08" height="14.1" fill="#3f71b1"/>
<rect x="825.36" y="129.29" width="14.08" height="14.1" fill="#3e65aa"/>
<rect x="838.73" y="129.29" width="14.08" height="14.1" fill="#3d57a0"/>
<rect x="852.11" y="129.29" width="14.08" height="14.1" fill="#3c4a91"/>
<rect x="865.49" y="129.29" width="14.08" height="14.1" fill="#393f7f"/>
<rect x="878.87" y="129.29" width="14.08" height="14.1" fill="#35356d"/>
<rect x="892.24" y="129.29" width="14.08" height="14.1" fill="#2f2e5f"/>
<rect x="905.62" y="129.29" width="14.08" height="14.1" fill="#282752"/>
<rect x="919" y="129.29" width="14.08" height="14.1" fill="#212045"/>
<rect x="932.37" y="129.29" width="14.08" height="14.1" fill="#1a1b3a"/>
<rect x="945.75" y="129.29" width="14.08" height="14.1" fill="#191a37"/>
<rect x="959.13" y="129.29" width="14.08" height="14.1" fill="#171835"/>
<rect x="972.5" y="129.29" width="14.08" height="14.1" fill="#161731"/>
<rect x="985.88" y="129.29" width="14.08" height="14.1" fill="#14152e"/>
<rect x="999.26" y="129.29" width="14.08" height="14.1" fill="#11132a"/>
<rect x="1012.63" y="129.29" width="14.08" height="14.1" fill="#0f1127"/>
<rect x="1026.01" y="129.29" width="14.08" height="14.1" fill="#0e1025"/>
<rect x="1039.39" y="129.29" width="14.08" height="14.1" fill="#0d0e23"/>
<rect x="1052.77" y="129.29" width="14.08" height="14.1" fill="#0b0d20"/>
<rect x="1066.14" y="129.29" width="14.08" height="14.1" fill="#0a0b1e"/>
<rect x="1079.52" y="129.29" width="14.08" height="14.1" fill="#08091a"/>
<rect x="1092.9" y="129.29" width="14.08" height="14.1" fill="#08091a"/>
<rect x="1106.27" y="129.29" width="14.08" height="14.1" fill="#08091a"/>
<rect x="1119.65" y="129.29" width="14.08" height="14.1" fill="#08091a"/>
<rect x="1133.03" y="129.29" width="14.08" height="14.1" fill="#07091a"/>
<rect x="1146.4" y="129.29" width="14.08" height="14.1" fill="#070919"/>
<rect x="1159.78" y="129.29" width="14.08" height="14.1" fill="#070818"/>
<rect x="1173.16" y="129.29" width="14.08" height="14.1" fill="#060818"/>
<rect x="1186.54" y="129.29" width="14.08" height="14.1" fill="#060817"/>
<rect x="1199.91" y="129.29" width="14.08" height="14.1" fill="#050716"/>
<rect x="1213.29" y="129.29" width="13.38" height="14.1" fill="#050716"/>
<rect x="811.98" y="115.9" width="14.08" height="14.1" fill="#3f71b1"/>
<rect x="825.36" y="115.9" width="14.08" height="14.1" fill="#3e65aa"/>
<rect x="838.73" y="115.9" width="14.08" height="14.1" fill="#3d57a0"/>
<rect x="852.11" y="115.9" width="14.08" height="14.1" fill="#3c4a91"/>
<rect x="865.49" y="115.9" width="14.08" height="14.1" fill="#393f7f"/>
<rect x="878.87" y="115.9" width="14.08" height="14.1" fill="#35356d"/>
<rect x="892.24" y="115.9" width="14.08" height="14.1" fill="#2f2e5f"/>
<rect x="905.62" y="115.9" width="14.08" height="14.1" fill="#282752"/>
<rect x="919" y="115.9" width="14.08" height="14.1" fill="#212045"/>
<rect x="932.37" y="115.9" width="14.08" height="14.1" fill="#1a1b3a"/>
<rect x="945.75" y="115.9" width="14.08" height="14.1" fill="#191a37"/>
<rect x="959.13" y="115.9" width="14.08" height="14.1" fill="#171835"/>
<rect x="972.5" y="115.9" width="14.08" height="14.1" fill="#161731"/>
<rect x="985.88" y="115.9" width="14.08" height="14.1" fill="#14152e"/>
<rect x="999.26" y="115.9" width="14.08" height="14.1" fill="#11132a"/>
<rect x="1012.63" y="115.9" width="14.08" height="14.1" fill="#0f1127"/>
<rect x="1026.01" y="115.9" width="14.08" height="14.1" fill="#0e1025"/>
<rect x="1039.39" y="115.9" width="14.08" height="14.1" fill="#0d0e23"/>
<rect x="1052.77" y="115.9" width="14.08" height="14.1" fill="#0b0d20"/>
<rect x="1066.14" y="115.9" width="14.08" height="14.1" fill="#0a0b1e"/>
<rect x="1079.52" y="115.9" width="14.08" height="14.1" fill="#08091a"/>
<rect x="1092.9" y="115.9" width="14.08" height="14.1" fill="#08091a"/>
<rect x="1106.27" y="115.9" width="14.08" height="14.1" fill="#08091a"/>
<rect x="1119.65" y="115.9" width="14.08" height="14.1" fill="#08091a"/>
<rect x="1133.03" y="115.9" width="14.08" height="14.1" fill="#07091a"/>
<rect x="1146.4" y="115.9" width="14.08" height="14.1" fill="#070919"/>
<rect x="1159.78" y="115.9" width="14.08" height="14.1" fill="#070818"/>
<rect x="1173.16" y="115.9" width="14.08" height="14.1" fill="#060818"/>
<rect x="1186.54" y="115.9" width="14.08" height="14.1" fill="#060817"/>
<rect x="1199.91" y="115.9" width="14.08" height="14.1" fill="#050716"/>
<rect x="1213.29" y="115.9" width="13.38" height="14.1" fill="#050716"/>
<rect x="811.98" y="102.5" width="14.08" height="14.1" fill="#3f71b1"/>
<rect x="825.36" y="102.5" width="14.08" height="14.1" fill="#3e65aa"/>
<rect x="838.73" y="102.5" width="14.08" height="14.1" fill="#3d57a0"/>
<rect x="852.11" y="102.5" width="14.08" height="14.1" fill="#3c4a91"/>
<rect x="865.49" y="102.5" width="14.08" height="14.1" fill="#393f7f"/>
<rect x="878.87" y="102.5" width="14.08" height="14.1" fill="#35356d"/>
<rect x="892.24" y="102.5" width="14.08" height="14.1" fill="#2f2e5f"/>
<rect x="905.62" y="102.5" width="14.08" height="14.1" fill="#282752"/>
<rect x="919" y="102.5" width="14.08" height="14.1" fill="#212045"/>
<rect x="932.37" y="102.5" width="14.08" height="14.1" fill="#1a1b3a"/>
<rect x="945.75" y="102.5" width="14.08" height="14.1" fill="#191a37"/>
<rect x="959.13" y="102.5" width="14.08" height="14.1" fill="#171835"/>
<rect x="972.5" y="102.5" width="14.08" height="14.1" fill="#161731"/>
<rect x="985.88" y="102.5" width="14.08" height="14.1" fill="#14152e"/>
<rect x="999.26" y="102.5" width="14.08" height="14.1" fill="#11132a"/>
<rect x="1012.63" y="102.5" width="14.08" height="14.1" fill="#0f1127"/>
<rect x="1026.01" y="102.5" width="14.08" height="14.1" fill="#0e1025"/>
<rect x="1039.39" y="102.5" width="14.08" height="14.1" fill="#0d0e23"/>
<rect x="1052.77" y="102.5" width="14.08" height="14.1" fill="#0b0d20"/>
<rect x="1066.14" y="102.5" width="14.08" height="14.1" fill="#0a0b1e"/>
<rect x="1079.52" y="102.5" width="14.08" height="14.1" fill="#08091a"/>
<rect x="1092.9" y="102.5" width="14.08" height="14.1" fill="#08091a"/>
<rect x="1106.27" y="102.5" width="14.08" height="14.1" fill="#08091a"/>
<rect x="1119.65" y="102.5" width="14.08" height="14.1" fill="#08091a"/>
<rect x="1133.03" y="102.5" width="14.08" height="14.1" fill="#07091a"/>
<rect x="1146.4" y="102.5" width="14.08" height="14.1" fill="#070919"/>
<rect x="1159.78" y="102.5" width="14.08" height="14.1" fill="#070818"/>
<rect x="1173.16" y="102.5" width="14.08" height="14.1" fill="#060818"/>
<rect x="1186.54" y="102.5" width="14.08" height="14.1" fill="#060817"/>
<rect x="1199.91" y="102.5" width="14.08" height="14.1" fill="#050716"/>
<rect x="1213.29" y="102.5" width="13.38" height="14.1" fill="#050716"/>
<rect x="811.98" y="89.1" width="14.08" height="14.1" fill="#3f71b1"/>
<rect x="825.36" y="89.1" width="14.08" height="14.1" fill="#3e65aa"/>
<rect x="838.73" y="89.1" width="14.08" height="14.1" fill="#3d57a0"/>
<rect x="852.11" y="89.1" width="14.08" height="14.1" fill="#3c4a91"/>
<rect x="865.49" y="89.1" width="14.08" height="14.1" fill="#393f7f"/>
<rect x="878.87" y="89.1" width="14.08" height="14.1" fill="#35356d"/>
<rect x="892.24" y="89.1" width="14.08" height="14.1" fill="#2f2e5f"/>
<rect x="905.62" y="89.1" width="14.08" height="14.1" fill="#282752"/>
<rect x="919" y="89.1" width="14.08" height="14.1" fill="#212045"/>
<rect x="932.37" y="89.1" width="14.08" height="14.1" fill="#1a1b3a"/>
<rect x="945.75" y="89.1" width="14.08" height="14.1" fill="#191a37"/>
<rect x="959.13" y="89.1" width="14.08" height="14.1" fill="#171835"/>
<rect x="972.5" y="89.1" width="14.08" height="14.1" fill="#161731"/>
<rect x="985.88" y="89.1" width="14.08" height="14.1" fill="#14152e"/>
<rect x="999.26" y="89.1" width="14.08" height="14.1" fill="#11132a"/>
<rect x="1012.63" y="89.1" width="14.08" height="14.1" fill="#0f1127"/>
<rect x="1026.01" y="89.1" width="14.08" height="14.1" fill="#0e1025"/>
<rect x="1039.39" y="89.1" width="14.08" height="14.1" fill="#0d0e23"/>
<rect x="1052.77" y="89.1" width="14.08" height="14.1" fill="#0b0d20"/>
<rect x="1066.14" y="89.1" width="14.08" height="14.1" fill="#0a0b1e"/>
<rect x="1079.52" y="89.1" width="14.08" height="14.1" fill="#08091a"/>
<rect x="1092.9" y="89.1" width="14.08" height="14.1" fill="#08091a"/>
<rect x="1106.27" y="89.1" width="14.08" height="14.1" fill="#08091a"/>
<rect x="1119.65" y="89.1" width="14.08" height="14.1" fill="#08091a"/>
<rect x="1133.03" y="89.1" width="14.08" height="14.1" fill="#07091a"/>
<rect x="1146.4" y="89.1" width="14.08" height="14.1" fill="#070919"/>
<rect x="1159.78" y="89.1" width="14.08" height="14.1" fill="#070818"/>
<rect x="1173.16" y="89.1" width="14.08" height="14.1" fill="#060818"/>
<rect x="1186.54" y="89.1" width="14.08" height="14.1" fill="#060817"/>
<rect x="1199.91" y="89.1" width="14.08" height="14.1" fill="#050716"/>
<rect x="1213.29" y="89.1" width="13.38" height="14.1" fill="#050716"/>
<rect x="811.98" y="75.7" width="14.08" height="14.1" fill="#3f71b1"/>
<rect x="825.36" y="75.7" width="14.08" height="14.1" fill="#3e65aa"/>
<rect x="838.73" y="75.7" width="14.08" height="14.1" fill="#3d57a0"/>
<rect x="852.11" y="75.7" width="14.08" height="14.1" fill="#3c4a91"/>
<rect x="865.49" y="75.7" width="14.08" height="14.1" fill="#393f7f"/>
<rect x="878.87" y="75.7" width="14.08" height="14.1" fill="#35356d"/>
<rect x="892.24" y="75.7" width="14.08" height="14.1" fill="#2f2e5f"/>
<rect x="905.62" y="75.7" width="14.08" height="14.1" fill="#282752"/>
<rect x="919" y="75.7" width="14.08" height="14.1" fill="#212045"/>
<rect x="932.37" y="75.7" width="14.08" height="14.1" fill="#1a1b3a"/>
<rect x="945.75" y="75.7" width="14.08" height="14.1" fill="#191a37"/>
<rect x="959.13" y="75.7" width="14.08" height="14.1" fill="#171835"/>
<rect x="972.5" y="75.7" width="14.08" height="14.1" fill="#161731"/>
<rect x="985.88" y="75.7" width="14.08" height="14.1" fill="#14152e"/>
<rect x="999.26" y="75.7" width="14.08" height="14.1" fill="#11132a"/>
<rect x="1012.63" y="75.7" width="14.08" height="14.1" fill="#0f1127"/>
<rect x="1026.01" y="75.7" width="14.08" height="14.1" fill="#0e1025"/>
<rect x="1039.39" y="75.7" width="14.08" height="14.1" fill="#0d0e23"/>
<rect x="1052.77" y="75.7" width="14.08" height="14.1" fill="#0b0d20"/>
<rect x="1066.14" y="75.7" width="14.08" height="14.1" fill="#0a0b1e"/>
<rect x="1079.52" y="75.7" width="14.08" height="14.1" fill="#08091a"/>
<rect x="1092.9" y="75.7" width="14.08" height="14.1" fill="#08091a"/>
<rect x="1106.27" y="75.7" width="14.08" height="14.1" fill="#08091a"/>
<rect x="1119.65" y="75.7" width="14.08" height="14.1" fill="#08091a"/>
<rect x="1133.03" y="75.7" width="14.08" height="14.1" fill="#07091a"/>
<rect x="1146.4" y="75.7" width="14.08" height="14.1" fill="#070919"/>
<rect x="1159.78" y="75.7" width="14.08" height="14.1" fill="#070818"/>
<rect x="1173.16" y="75.7" width="14.08" height="14.1" fill="#060818"/>
<rect x="1186.54" y="75.7" width="14.08" height="14.1" fill="#060817"/>
<rect x="1199.91" y="75.7" width="14.08" height="14.1" fill="#050716"/>
<rect x="1213.29" y="75.7" width="13.38" height="14.1" fill="#050716"/>
<g fill="#fff" opacity="0.11">
<rect x="825" y="75.7" width="1" height="415.31"/>
<rect x="811.98" y="102" width="414.69" height="1"/>
<rect x="865" y="75.7" width="1" height="415.31"/>
<rect x="811.98" y="129" width="414.69" height="1"/>
<rect x="811.98" y="142" width="414.69" height="1"/>
<rect x="892" y="75.7" width="1" height="415.31"/>
<rect x="905" y="75.7" width="1" height="415.31"/>
<rect x="811.98" y="169" width="414.69" height="1"/>
<rect x="932" y="75.7" width="1" height="415.31"/>
<rect x="811.98" y="196" width="414.69" height="1"/>
<rect x="811.98" y="209" width="414.69" height="1"/>
<rect x="972" y="75.7" width="1" height="415.31"/>
<rect x="811.98" y="236" width="414.69" height="1"/>
<rect x="999" y="75.7" width="1" height="415.31"/>
<rect x="811.98" y="263" width="414.69" height="1"/>
<rect x="1012" y="75.7" width="1" height="415.31"/>
<rect x="811.98" y="276" width="414.69" height="1"/>
<rect x="1039" y="75.7" width="1" height="415.31"/>
<rect x="811.98" y="303" width="414.69" height="1"/>
<rect x="811.98" y="330" width="414.69" height="1"/>
<rect x="1079" y="75.7" width="1" height="415.31"/>
<rect x="811.98" y="343" width="414.69" height="1"/>
<rect x="1106" y="75.7" width="1" height="415.31"/>
<rect x="811.98" y="370" width="414.69" height="1"/>
<rect x="1119" y="75.7" width="1" height="415.31"/>
<rect x="811.98" y="397" width="414.69" height="1"/>
<rect x="1146" y="75.7" width="1" height="415.31"/>
<rect x="811.98" y="410" width="414.69" height="1"/>
<rect x="811.98" y="437" width="414.69" height="1"/>
<rect x="1186" y="75.7" width="1" height="415.31"/>
<rect x="811.98" y="464" width="414.69" height="1"/>
<rect x="1213" y="75.7" width="1" height="415.31"/>
<rect x="811.98" y="477" width="414.69" height="1"/>
</g>
<rect x="1468.86" y="477.76" width="14.08" height="13.4" fill="#191a38"/>
<rect x="1482.24" y="477.76" width="14.08" height="13.4" fill="#1b1c3b"/>
<rect x="1495.61" y="477.76" width="14.08" height="13.4" fill="#1d1d3e"/>
<rect x="1508.99" y="477.76" width="14.08" height="13.4" fill="#1f1f42"/>
<rect x="1522.37" y="477.76" width="14.08" height="13.4" fill="#212045"/>
<rect x="1535.74" y="477.76" width="14.08" height="13.4" fill="#232248"/>
<rect x="1549.12" y="477.76" width="14.08" height="13.4" fill="#25244b"/>
<rect x="1562.5" y="477.76" width="14.08" height="13.4" fill="#26254f"/>
<rect x="1575.88" y="477.76" width="14.08" height="13.4" fill="#282752"/>
<rect x="1589.25" y="477.76" width="14.08" height="13.4" fill="#2a2956"/>
<rect x="1602.63" y="477.76" width="14.08" height="13.4" fill="#2c2b59"/>
<rect x="1616.01" y="477.76" width="14.08" height="13.4" fill="#2e2d5d"/>
<rect x="1629.38" y="477.76" width="14.08" height="13.4" fill="#302f60"/>
<rect x="1642.76" y="477.76" width="14.08" height="13.4" fill="#323163"/>
<rect x="1656.14" y="477.76" width="14.08" height="13.4" fill="#333267"/>
<rect x="1669.51" y="477.76" width="14.08" height="13.4" fill="#35346b"/>
<rect x="1682.89" y="477.76" width="14.08" height="13.4" fill="#36376f"/>
<rect x="1696.27" y="477.76" width="14.08" height="13.4" fill="#373973"/>
<rect x="1709.65" y="477.76" width="14.08" height="13.4" fill="#383b78"/>
<rect x="1723.02" y="477.76" width="14.08" height="13.4" fill="#393d7c"/>
<rect x="1736.4" y="477.76" width="14.08" height="13.4" fill="#3a3f80"/>
<rect x="1749.78" y="477.76" width="14.08" height="13.4" fill="#3b4184"/>
<rect x="1763.15" y="477.76" width="14.08" height="13.4" fill="#3c4388"/>
<rect x="1776.53" y="477.76" width="14.08" height="13.4" fill="#3c468c"/>
<rect x="1789.91" y="477.76" width="14.08" height="13.4" fill="#3c488f"/>
<rect x="1803.28" y="477.76" width="14.08" height="13.4" fill="#3c4b93"/>
<rect x="1816.66" y="477.76" width="14.08" height="13.4" fill="#3c4e96"/>
<rect x="1830.04" y="477.76" width="14.08" height="13.4" fill="#3d5199"/>
<rect x="1843.42" y="477.76" width="14.08" height="13.4" fill="#3d539c"/>
<rect x="1856.79" y="477.76" width="14.08" height="13.4" fill="#3d569f"/>
<rect x="1870.17" y="477.76" width="13.38" height="13.4" fill="#3d59a3"/>
<rect x="1468.86" y="464.36" width="14.08" height="14.1" fill="#1b1c3b"/>
<rect x="1482.24" y="464.36" width="14.08" height="14.1" fill="#1d1d3e"/>
<rect x="1495.61" y="464.36" width="14.08" height="14.1" fill="#1f1f42"/>
<rect x="1508.99" y="464.36" width="14.08" height="14.1" fill="#212045"/>
<rect x="1522.37" y="464.36" width="14.08" height="14.1" fill="#232248"/>
<rect x="1535.74" y="464.36" width="14.08" height="14.1" fill="#25244b"/>
<rect x="1549.12" y="464.36" width="14.08" height="14.1" fill="#26254f"/>
<rect x="1562.5" y="464.36" width="14.08" height="14.1" fill="#282752"/>
<rect x="1575.88" y="464.36" width="14.08" height="14.1" fill="#2a2956"/>
<rect x="1589.25" y="464.36" width="14.08" height="14.1" fill="#2c2b59"/>
<rect x="1602.63" y="464.36" width="14.08" height="14.1" fill="#2e2d5d"/>
<rect x="1616.01" y="464.36" width="14.08" height="14.1" fill="#302f60"/>
<rect x="1629.38" y="464.36" width="14.08" height="14.1" fill="#323163"/>
<rect x="1642.76" y="464.36" width="14.08" height="14.1" fill="#333267"/>
<rect x="1656.14" y="464.36" width="14.08" height="14.1" fill="#35346b"/>
<rect x="1669.51" y="464.36" width="14.08" height="14.1" fill="#36376f"/>
<rect x="1682.89" y="464.36" width="14.08" height="14.1" fill="#373973"/>
<rect x="1696.27" y="464.36" width="14.08" height="14.1" fill="#383b78"/>
<rect x="1709.65" y="464.36" width="14.08" height="14.1" fill="#393d7c"/>
<rect x="1723.02" y="464.36" width="14.08" height="14.1" fill="#3a3f80"/>
<rect x="1736.4" y="464.36" width="14.08" height="14.1" fill="#3b4184"/>
<rect x="1749.78" y="464.36" width="14.08" height="14.1" fill="#3c4388"/>
<rect x="1763.15" y="464.36" width="14.08" height="14.1" fill="#3c468c"/>
<rect x="1776.53" y="464.36" width="14.08" height="14.1" fill="#3c488f"/>
<rect x="1789.91" y="464.36" width="14.08" height="14.1" fill="#3c4b93"/>
<rect x="1803.28" y="464.36" width="14.08" height="14.1" fill="#3c4e96"/>
<rect x="1816.66" y="464.36" width="14.08" height="14.1" fill="#3d5199"/>
<rect x="1830.04" y="464.36" width="14.08" height="14.1" fill="#3d539c"/>
<rect x="1843.42" y="464.36" width="14.08" height="14.1" fill="#3d569f"/>
<rect x="1856.79" y="464.36" width="14.08" height="14.1" fill="#3d59a3"/>
<rect x="1870.17" y="464.36" width="13.38" height="14.1" fill="#3d5ba5"/>
<rect x="1468.86" y="450.97" width="14.08" height="14.1" fill="#1d1d3e"/>
<rect x="1482.24" y="450.97" width="14.08" height="14.1" fill="#1f1f42"/>
<rect x="1495.61" y="450.97" width="14.08" height="14.1" fill="#212045"/>
<rect x="1508.99" y="450.97" width="14.08" height="14.1" fill="#232248"/>
<rect x="1522.37" y="450.97" width="14.08" height="14.1" fill="#25244b"/>
<rect x="1535.74" y="450.97" width="14.08" height="14.1" fill="#26254f"/>
<rect x="1549.12" y="450.97" width="14.08" height="14.1" fill="#282752"/>
<rect x="1562.5" y="450.97" width="14.08" height="14.1" fill="#2a2956"/>
<rect x="1575.88" y="450.97" width="14.08" height="14.1" fill="#2c2b59"/>
<rect x="1589.25" y="450.97" width="14.08" height="14.1" fill="#2e2d5d"/>
<rect x="1602.63" y="450.97" width="14.08" height="14.1" fill="#302f60"/>
<rect x="1616.01" y="450.97" width="14.08" height="14.1" fill="#323163"/>
<rect x="1629.38" y="450.97" width="14.08" height="14.1" fill="#333267"/>
<rect x="1642.76" y="450.97" width="14.08" height="14.1" fill="#35346b"/>
<rect x="1656.14" y="450.97" width="14.08" height="14.1" fill="#36376f"/>
<rect x="1669.51" y="450.97" width="14.08" height="14.1" fill="#373973"/>
<rect x="1682.89" y="450.97" width="14.08" height="14.1" fill="#383b78"/>
<rect x="1696.27" y="450.97" width="14.08" height="14.1" fill="#393d7c"/>
<rect x="1709.65" y="450.97" width="14.08" height="14.1" fill="#3a3f80"/>
<rect x="1723.02" y="450.97" width="14.08" height="14.1" fill="#3b4184"/>
<rect x="1736.4" y="450.97" width="14.08" height="14.1" fill="#3c4388"/>
<rect x="1749.78" y="450.97" width="14.08" height="14.1" fill="#3c468c"/>
<rect x="1763.15" y="450.97" width="14.08" height="14.1" fill="#3c488f"/>
<rect x="1776.53" y="450.97" width="14.08" height="14.1" fill="#3c4b93"/>
<rect x="1789.91" y="450.97" width="14.08" height="14.1" fill="#3c4e96"/>
<rect x="1803.28" y="450.97" width="14.08" height="14.1" fill="#3d5199"/>
<rect x="1816.66" y="450.97" width="14.08" height="14.1" fill="#3d539c"/>
<rect x="1830.04" y="450.97" width="14.08" height="14.1" fill="#3d569f"/>
<rect x="1843.42" y="450.97" width="14.08" height="14.1" fill="#3d59a3"/>
<rect x="1856.79" y="450.97" width="14.08" height="14.1" fill="#3d5ba5"/>
<rect x="1870.17" y="450.97" width="13.38" height="14.1" fill="#3d5ea6"/>
<rect x="1468.86" y="437.57" width="14.08" height="14.1" fill="#1f1f42"/>
<rect x="1482.24" y="437.57" width="14.08" height="14.1" fill="#212045"/>
<rect x="1495.61" y="437.57" width="14.08" height="14.1" fill="#232248"/>
<rect x="1508.99" y="437.57" width="14.08" height="14.1" fill="#25244b"/>
<rect x="1522.37" y="437.57" width="14.08" height="14.1" fill="#26254f"/>
<rect x="1535.74" y="437.57" width="14.08" height="14.1" fill="#282752"/>
<rect x="1549.12" y="437.57" width="14.08" height="14.1" fill="#2a2956"/>
<rect x="1562.5" y="437.57" width="14.08" height="14.1" fill="#2c2b59"/>
<rect x="1575.88" y="437.57" width="14.08" height="14.1" fill="#2e2d5d"/>
<rect x="1589.25" y="437.57" width="14.08" height="14.1" fill="#302f60"/>
<rect x="1602.63" y="437.57" width="14.08" height="14.1" fill="#323163"/>
<rect x="1616.01" y="437.57" width="14.08" height="14.1" fill="#333267"/>
<rect x="1629.38" y="437.57" width="14.08" height="14.1" fill="#35346b"/>
<rect x="1642.76" y="437.57" width="14.08" height="14.1" fill="#36376f"/>
<rect x="1656.14" y="437.57" width="14.08" height="14.1" fill="#373973"/>
<rect x="1669.51" y="437.57" width="14.08" height="14.1" fill="#383b78"/>
<rect x="1682.89" y="437.57" width="14.08" height="14.1" fill="#393d7c"/>
<rect x="1696.27" y="437.57" width="14.08" height="14.1" fill="#3a3f80"/>
<rect x="1709.65" y="437.57" width="14.08" height="14.1" fill="#3b4184"/>
<rect x="1723.02" y="437.57" width="14.08" height="14.1" fill="#3c4388"/>
<rect x="1736.4" y="437.57" width="14.08" height="14.1" fill="#3c468c"/>
<rect x="1749.78" y="437.57" width="14.08" height="14.1" fill="#3c488f"/>
<rect x="1763.15" y="437.57" width="14.08" height="14.1" fill="#3c4b93"/>
<rect x="1776.53" y="437.57" width="14.08" height="14.1" fill="#3c4e96"/>
<rect x="1789.91" y="437.57" width="14.08" height="14.1" fill="#3d5199"/>
<rect x="1803.28" y="437.57" width="14.08" height="14.1" fill="#3d539c"/>
<rect x="1816.66" y="437.57" width="14.08" height="14.1" fill="#3d569f"/>
<rect x="1830.04" y="437.57" width="14.08" height="14.1" fill="#3d59a3"/>
<rect x="1843.42" y="437.57" width="14.08" height="14.1" fill="#3d5ba5"/>
<rect x="1856.79" y="437.57" width="14.08" height="14.1" fill="#3d5ea6"/>
<rect x="1870.17" y="437.57" width="13.38" height="14.1" fill="#3d60a8"/>
<rect x="1468.86" y="424.17" width="14.08" height="14.1" fill="#212045"/>
<rect x="1482.24" y="424.17" width="14.08" height="14.1" fill="#232248"/>
<rect x="1495.61" y="424.17" width="14.08" height="14.1" fill="#25244b"/>
<rect x="1508.99" y="424.17" width="14.08" height="14.1" fill="#26254f"/>
<rect x="1522.37" y="424.17" width="14.08" height="14.1" fill="#282752"/>
<rect x="1535.74" y="424.17" width="14.08" height="14.1" fill="#2a2956"/>
<rect x="1549.12" y="424.17" width="14.08" height="14.1" fill="#2c2b59"/>
<rect x="1562.5" y="424.17" width="14.08" height="14.1" fill="#2e2d5d"/>
<rect x="1575.88" y="424.17" width="14.08" height="14.1" fill="#302f60"/>
<rect x="1589.25" y="424.17" width="14.08" height="14.1" fill="#323163"/>
<rect x="1602.63" y="424.17" width="14.08" height="14.1" fill="#333267"/>
<rect x="1616.01" y="424.17" width="14.08" height="14.1" fill="#35346b"/>
<rect x="1629.38" y="424.17" width="14.08" height="14.1" fill="#36376f"/>
<rect x="1642.76" y="424.17" width="14.08" height="14.1" fill="#373973"/>
<rect x="1656.14" y="424.17" width="14.08" height="14.1" fill="#383b78"/>
<rect x="1669.51" y="424.17" width="14.08" height="14.1" fill="#393d7c"/>
<rect x="1682.89" y="424.17" width="14.08" height="14.1" fill="#3a3f80"/>
<rect x="1696.27" y="424.17" width="14.08" height="14.1" fill="#3b4184"/>
<rect x="1709.65" y="424.17" width="14.08" height="14.1" fill="#3c4388"/>
<rect x="1723.02" y="424.17" width="14.08" height="14.1" fill="#3c468c"/>
<rect x="1736.4" y="424.17" width="14.08" height="14.1" fill="#3c488f"/>
<rect x="1749.78" y="424.17" width="14.08" height="14.1" fill="#3c4b93"/>
<rect x="1763.15" y="424.17" width="14.08" height="14.1" fill="#3c4e96"/>
<rect x="1776.53" y="424.17" width="14.08" height="14.1" fill="#3d5199"/>
<rect x="1789.91" y="424.17" width="14.08" height="14.1" fill="#3d539c"/>
<rect x="1803.28" y="424.17" width="14.08" height="14.1" fill="#3d569f"/>
<rect x="1816.66" y="424.17" width="14.08" height="14.1" fill="#3d59a3"/>
<rect x="1830.04" y="424.17" width="14.08" height="14.1" fill="#3d5ba5"/>
<rect x="1843.42" y="424.17" width="14.08" height="14.1" fill="#3d5ea6"/>
<rect x="1856.79" y="424.17" width="14.08" height="14.1" fill="#3d60a8"/>
<rect x="1870.17" y="424.17" width="13.38" height="14.1" fill="#3d63a9"/>
<rect x="1468.86" y="410.77" width="14.08" height="14.1" fill="#232248"/>
<rect x="1482.24" y="410.77" width="14.08" height="14.1" fill="#25244b"/>
<rect x="1495.61" y="410.77" width="14.08" height="14.1" fill="#26254f"/>
<rect x="1508.99" y="410.77" width="14.08" height="14.1" fill="#282752"/>
<rect x="1522.37" y="410.77" width="14.08" height="14.1" fill="#2a2956"/>
<rect x="1535.74" y="410.77" width="14.08" height="14.1" fill="#2c2b59"/>
<rect x="1549.12" y="410.77" width="14.08" height="14.1" fill="#2e2d5d"/>
<rect x="1562.5" y="410.77" width="14.08" height="14.1" fill="#302f60"/>
<rect x="1575.88" y="410.77" width="14.08" height="14.1" fill="#323163"/>
<rect x="1589.25" y="410.77" width="14.08" height="14.1" fill="#333267"/>
<rect x="1602.63" y="410.77" width="14.08" height="14.1" fill="#35346b"/>
<rect x="1616.01" y="410.77" width="14.08" height="14.1" fill="#36376f"/>
<rect x="1629.38" y="410.77" width="14.08" height="14.1" fill="#373973"/>
<rect x="1642.76" y="410.77" width="14.08" height="14.1" fill="#383b78"/>
<rect x="1656.14" y="410.77" width="14.08" height="14.1" fill="#393d7c"/>
<rect x="1669.51" y="410.77" width="14.08" height="14.1" fill="#3a3f80"/>
<rect x="1682.89" y="410.77" width="14.08" height="14.1" fill="#3b4184"/>
<rect x="1696.27" y="410.77" width="14.08" height="14.1" fill="#3c4388"/>
<rect x="1709.65" y="410.77" width="14.08" height="14.1" fill="#3c468c"/>
<rect x="1723.02" y="410.77" width="14.08" height="14.1" fill="#3c488f"/>
<rect x="1736.4" y="410.77" width="14.08" height="14.1" fill="#3c4b93"/>
<rect x="1749.78" y="410.77" width="14.08" height="14.1" fill="#3c4e96"/>
<rect x="1763.15" y="410.77" width="14.08" height="14.1" fill="#3d5199"/>
<rect x="1776.53" y="410.77" width="14.08" height="14.1" fill="#3d539c"/>
<rect x="1789.91" y="410.77" width="14.08" height="14.1" fill="#3d569f"/>
<rect x="1803.28" y="410.77" width="14.08" height="14.1" fill="#3d59a3"/>
<rect x="1816.66" y="410.77" width="14.08" height="14.1" fill="#3d5ba5"/>
<rect x="1830.04" y="410.77" width="14.08" height="14.1" fill="#3d5ea6"/>
<rect x="1843.42" y="410.77" width="14.08" height="14.1" fill="#3d60a8"/>
<rect x="1856.79" y="410.77" width="14.08" height="14.1" fill="#3d63a9"/>
<rect x="1870.17" y="410.77" width="13.38" height="14.1" fill="#3e65ab"/>
<rect x="1468.86" y="397.38" width="14.08" height="14.1" fill="#25244b"/>
<rect x="1482.24" y="397.38" width="14.08" height="14.1" fill="#26254f"/>
<rect x="1495.61" y="397.38" width="14.08" height="14.1" fill="#282752"/>
<rect x="1508.99" y="397.38" width="14.08" height="14.1" fill="#2a2956"/>
<rect x="1522.37" y="397.38" width="14.08" height="14.1" fill="#2c2b59"/>
<rect x="1535.74" y="397.38" width="14.08" height="14.1" fill="#2e2d5d"/>
<rect x="1549.12" y="397.38" width="14.08" height="14.1" fill="#302f60"/>
<rect x="1562.5" y="397.38" width="14.08" height="14.1" fill="#323163"/>
<rect x="1575.88" y="397.38" width="14.08" height="14.1" fill="#333267"/>
<rect x="1589.25" y="397.38" width="14.08" height="14.1" fill="#35346b"/>
<rect x="1602.63" y="397.38" width="14.08" height="14.1" fill="#36376f"/>
<rect x="1616.01" y="397.38" width="14.08" height="14.1" fill="#373973"/>
<rect x="1629.38" y="397.38" width="14.08" height="14.1" fill="#383b78"/>
<rect x="1642.76" y="397.38" width="14.08" height="14.1" fill="#393d7c"/>
<rect x="1656.14" y="397.38" width="14.08" height="14.1" fill="#3a3f80"/>
<rect x="1669.51" y="397.38" width="14.08" height="14.1" fill="#3b4184"/>
<rect x="1682.89" y="397.38" width="14.08" height="14.1" fill="#3c4388"/>
<rect x="1696.27" y="397.38" width="14.08" height="14.1" fill="#3c468c"/>
<rect x="1709.65" y="397.38" width="14.08" height="14.1" fill="#3c488f"/>
<rect x="1723.02" y="397.38" width="14.08" height="14.1" fill="#3c4b93"/>
<rect x="1736.4" y="397.38" width="14.08" height="14.1" fill="#3c4e96"/>
<rect x="1749.78" y="397.38" width="14.08" height="14.1" fill="#3d5199"/>
<rect x="1763.15" y="397.38" width="14.08" height="14.1" fill="#3d539c"/>
<rect x="1776.53" y="397.38" width="14.08" height="14.1" fill="#3d569f"/>
<rect x="1789.91" y="397.38" width="14.08" height="14.1" fill="#3d59a3"/>
<rect x="1803.28" y="397.38" width="14.08" height="14.1" fill="#3d5ba5"/>
<rect x="1816.66" y="397.38" width="14.08" height="14.1" fill="#3d5ea6"/>
<rect x="1830.04" y="397.38" width="14.08" height="14.1" fill="#3d60a8"/>
<rect x="1843.42" y="397.38" width="14.08" height="14.1" fill="#3d63a9"/>
<rect x="1856.79" y="397.38" width="14.08" height="14.1" fill="#3e65ab"/>
<rect x="1870.17" y="397.38" width="13.38" height="14.1" fill="#3e68ac"/>
<rect x="1468.86" y="383.98" width="14.08" height="14.1" fill="#26254f"/>
<rect x="1482.24" y="383.98" width="14.08" height="14.1" fill="#282752"/>
<rect x="1495.61" y="383.98" width="14.08" height="14.1" fill="#2a2956"/>
<rect x="1508.99" y="383.98" width="14.08" height="14.1" fill="#2c2b59"/>
<rect x="1522.37" y="383.98" width="14.08" height="14.1" fill="#2e2d5d"/>
<rect x="1535.74" y="383.98" width="14.08" height="14.1" fill="#302f60"/>
<rect x="1549.12" y="383.98" width="14.08" height="14.1" fill="#323163"/>
<rect x="1562.5" y="383.98" width="14.08" height="14.1" fill="#333267"/>
<rect x="1575.88" y="383.98" width="14.08" height="14.1" fill="#35346b"/>
<rect x="1589.25" y="383.98" width="14.08" height="14.1" fill="#36376f"/>
<rect x="1602.63" y="383.98" width="14.08" height="14.1" fill="#373973"/>
<rect x="1616.01" y="383.98" width="14.08" height="14.1" fill="#383b78"/>
<rect x="1629.38" y="383.98" width="14.08" height="14.1" fill="#393d7c"/>
<rect x="1642.76" y="383.98" width="14.08" height="14.1" fill="#3a3f80"/>
<rect x="1656.14" y="383.98" width="14.08" height="14.1" fill="#3b4184"/>
<rect x="1669.51" y="383.98" width="14.08" height="14.1" fill="#3c4388"/>
<rect x="1682.89" y="383.98" width="14.08" height="14.1" fill="#3c468c"/>
<rect x="1696.27" y="383.98" width="14.08" height="14.1" fill="#3c488f"/>
<rect x="1709.65" y="383.98" width="14.08" height="14.1" fill="#3c4b93"/>
<rect x="1723.02" y="383.98" width="14.08" height="14.1" fill="#3c4e96"/>
<rect x="1736.4" y="383.98" width="14.08" height="14.1" fill="#3d5199"/>
<rect x="1749.78" y="383.98" width="14.08" height="14.1" fill="#3d539c"/>
<rect x="1763.15" y="383.98" width="14.08" height="14.1" fill="#3d569f"/>
<rect x="1776.53" y="383.98" width="14.08" height="14.1" fill="#3d59a3"/>
<rect x="1789.91" y="383.98" width="14.08" height="14.1" fill="#3d5ba5"/>
<rect x="1803.28" y="383.98" width="14.08" height="14.1" fill="#3d5ea6"/>
<rect x="1816.66" y="383.98" width="14.08" height="14.1" fill="#3d60a8"/>
<rect x="1830.04" y="383.98" width="14.08" height="14.1" fill="#3d63a9"/>
<rect x="1843.42" y="383.98" width="14.08" height="14.1" fill="#3e65ab"/>
<rect x="1856.79" y="383.98" width="14.08" height="14.1" fill="#3e68ac"/>
<rect x="1870.17" y="383.98" width="13.38" height="14.1" fill="#3e6aae"/>
<rect x="1468.86" y="370.58" width="14.08" height="14.1" fill="#282752"/>
<rect x="1482.24" y="370.58" width="14.08" height="14.1" fill="#2a2956"/>
<rect x="1495.61" y="370.58" width="14.08" height="14.1" fill="#2c2b59"/>
<rect x="1508.99" y="370.58" width="14.08" height="14.1" fill="#2e2d5d"/>
<rect x="1522.37" y="370.58" width="14.08" height="14.1" fill="#302f60"/>
<rect x="1535.74" y="370.58" width="14.08" height="14.1" fill="#323163"/>
<rect x="1549.12" y="370.58" width="14.08" height="14.1" fill="#333267"/>
<rect x="1562.5" y="370.58" width="14.08" height="14.1" fill="#35346b"/>
<rect x="1575.88" y="370.58" width="14.08" height="14.1" fill="#36376f"/>
<rect x="1589.25" y="370.58" width="14.08" height="14.1" fill="#373973"/>
<rect x="1602.63" y="370.58" width="14.08" height="14.1" fill="#383b78"/>
<rect x="1616.01" y="370.58" width="14.08" height="14.1" fill="#393d7c"/>
<rect x="1629.38" y="370.58" width="14.08" height="14.1" fill="#3a3f80"/>
<rect x="1642.76" y="370.58" width="14.08" height="14.1" fill="#3b4184"/>
<rect x="1656.14" y="370.58" width="14.08" height="14.1" fill="#3c4388"/>
<rect x="1669.51" y="370.58" width="14.08" height="14.1" fill="#3c468c"/>
<rect x="1682.89" y="370.58" width="14.08" height="14.1" fill="#3c488f"/>
<rect x="1696.27" y="370.58" width="14.08" height="14.1" fill="#3c4b93"/>
<rect x="1709.65" y="370.58" width="14.08" height="14.1" fill="#3c4e96"/>
<rect x="1723.02" y="370.58" width="14.08" height="14.1" fill="#3d5199"/>
<rect x="1736.4" y="370.58" width="14.08" height="14.1" fill="#3d539c"/>
<rect x="1749.78" y="370.58" width="14.08" height="14.1" fill="#3d569f"/>
<rect x="1763.15" y="370.58" width="14.08" height="14.1" fill="#3d59a3"/>
<rect x="1776.53" y="370.58" width="14.08" height="14.1" fill="#3d5ba5"/>
<rect x="1789.91" y="370.58" width="14.08" height="14.1" fill="#3d5ea6"/>
<rect x="1803.28" y="370.58" width="14.08" height="14.1" fill="#3d60a8"/>
<rect x="1816.66" y="370.58" width="14.08" height="14.1" fill="#3d63a9"/>
<rect x="1830.04" y="370.58" width="14.08" height="14.1" fill="#3e65ab"/>
<rect x="1843.42" y="370.58" width="14.08" height="14.1" fill="#3e68ac"/>
<rect x="1856.79" y="370.58" width="14.08" height="14.1" fill="#3e6aae"/>
<rect x="1870.17" y="370.58" width="13.38" height="14.1" fill="#3e6daf"/>
<rect x="1468.86" y="357.19" width="14.08" height="14.1" fill="#2a2956"/>
<rect x="1482.24" y="357.19" width="14.08" height="14.1" fill="#2c2b59"/>
<rect x="1495.61" y="357.19" width="14.08" height="14.1" fill="#2e2d5d"/>
<rect x="1508.99" y="357.19" width="14.08" height="14.1" fill="#302f60"/>
<rect x="1522.37" y="357.19" width="14.08" height="14.1" fill="#323163"/>
<rect x="1535.74" y="357.19" width="14.08" height="14.1" fill="#333267"/>
<rect x="1549.12" y="357.19" width="14.08" height="14.1" fill="#35346b"/>
<rect x="1562.5" y="357.19" width="14.08" height="14.1" fill="#36376f"/>
<rect x="1575.88" y="357.19" width="14.08" height="14.1" fill="#373973"/>
<rect x="1589.25" y="357.19" width="14.08" height="14.1" fill="#383b78"/>
<rect x="1602.63" y="357.19" width="14.08" height="14.1" fill="#393d7c"/>
<rect x="1616.01" y="357.19" width="14.08" height="14.1" fill="#3a3f80"/>
<rect x="1629.38" y="357.19" width="14.08" height="14.1" fill="#3b4184"/>
<rect x="1642.76" y="357.19" width="14.08" height="14.1" fill="#3c4388"/>
<rect x="1656.14" y="357.19" width="14.08" height="14.1" fill="#3c468c"/>
<rect x="1669.51" y="357.19" width="14.08" height="14.1" fill="#3c488f"/>
<rect x="1682.89" y="357.19" width="14.08" height="14.1" fill="#3c4b93"/>
<rect x="1696.27" y="357.19" width="14.08" height="14.1" fill="#3c4e96"/>
<rect x="1709.65" y="357.19" width="14.08" height="14.1" fill="#3d5199"/>
<rect x="1723.02" y="357.19" width="14.08" height="14.1" fill="#3d539c"/>
<rect x="1736.4" y="357.19" width="14.08" height="14.1" fill="#3d569f"/>
<rect x="1749.78" y="357.19" width="14.08" height="14.1" fill="#3d59a3"/>
<rect x="1763.15" y="357.19" width="14.08" height="14.1" fill="#3d5ba5"/>
<rect x="1776.53" y="357.19" width="14.08" height="14.1" fill="#3d5ea6"/>
<rect x="1789.91" y="357.19" width="14.08" height="14.1" fill="#3d60a8"/>
<rect x="1803.28" y="357.19" width="14.08" height="14.1" fill="#3d63a9"/>
<rect x="1816.66" y="357.19" width="14.08" height="14.1" fill="#3e65ab"/>
<rect x="1830.04" y="357.19" width="14.08" height="14.1" fill="#3e68ac"/>
<rect x="1843.42" y="357.19" width="14.08" height="14.1" fill="#3e6aae"/>
<rect x="1856.79" y="357.19" width="14.08" height="14.1" fill="#3e6daf"/>
<rect x="1870.17" y="357.19" width="13.38" height="14.1" fill="#3e6fb1"/>
<rect x="1468.86" y="343.79" width="14.08" height="14.1" fill="#2c2b59"/>
<rect x="1482.24" y="343.79" width="14.08" height="14.1" fill="#2e2d5d"/>
<rect x="1495.61" y="343.79" width="14.08" height="14.1" fill="#302f60"/>
<rect x="1508.99" y="343.79" width="14.08" height="14.1" fill="#323163"/>
<rect x="1522.37" y="343.79" width="14.08" height="14.1" fill="#333267"/>
<rect x="1535.74" y="343.79" width="14.08" height="14.1" fill="#35346b"/>
<rect x="1549.12" y="343.79" width="14.08" height="14.1" fill="#36376f"/>
<rect x="1562.5" y="343.79" width="14.08" height="14.1" fill="#373973"/>
<rect x="1575.88" y="343.79" width="14.08" height="14.1" fill="#383b78"/>
<rect x="1589.25" y="343.79" width="14.08" height="14.1" fill="#393d7c"/>
<rect x="1602.63" y="343.79" width="14.08" height="14.1" fill="#3a3f80"/>
<rect x="1616.01" y="343.79" width="14.08" height="14.1" fill="#3b4184"/>
<rect x="1629.38" y="343.79" width="14.08" height="14.1" fill="#3c4388"/>
<rect x="1642.76" y="343.79" width="14.08" height="14.1" fill="#3c468c"/>
<rect x="1656.14" y="343.79" width="14.08" height="14.1" fill="#3c488f"/>
<rect x="1669.51" y="343.79" width="14.08" height="14.1" fill="#3c4b93"/>
<rect x="1682.89" y="343.79" width="14.08" height="14.1" fill="#3c4e96"/>
<rect x="1696.27" y="343.79" width="14.08" height="14.1" fill="#3d5199"/>
<rect x="1709.65" y="343.79" width="14.08" height="14.1" fill="#3d539c"/>
<rect x="1723.02" y="343.79" width="14.08" height="14.1" fill="#3d569f"/>
<rect x="1736.4" y="343.79" width="14.08" height="14.1" fill="#3d59a3"/>
<rect x="1749.78" y="343.79" width="14.08" height="14.1" fill="#3d5ba5"/>
<rect x="1763.15" y="343.79" width="14.08" height="14.1" fill="#3d5ea6"/>
<rect x="1776.53" y="343.79" width="14.08" height="14.1" fill="#3d60a8"/>
<rect x="1789.91" y="343.79" width="14.08" height="14.1" fill="#3d63a9"/>
<rect x="1803.28" y="343.79" width="14.08" height="14.1" fill="#3e65ab"/>
<rect x="1816.66" y="343.79" width="14.08" height="14.1" fill="#3e68ac"/>
<rect x="1830.04" y="343.79" width="14.08" height="14.1" fill="#3e6aae"/>
<rect x="1843.42" y="343.79" width="14.08" height="14.1" fill="#3e6daf"/>
<rect x="1856.79" y="343.79" width="14.08" height="14.1" fill="#3e6fb1"/>
<rect x="1870.17" y="343.79" width="13.38" height="14.1" fill="#3f71b2"/>
<rect x="1468.86" y="330.39" width="14.08" height="14.1" fill="#2e2d5d"/>
<rect x="1482.24" y="330.39" width="14.08" height="14.1" fill="#302f60"/>
<rect x="1495.61" y="330.39" width="14.08" height="14.1" fill="#323163"/>
<rect x="1508.99" y="330.39" width="14.08" height="14.1" fill="#333267"/>
<rect x="1522.37" y="330.39" width="14.08" height="14.1" fill="#35346b"/>
<rect x="1535.74" y="330.39" width="14.08" height="14.1" fill="#36376f"/>
<rect x="1549.12" y="330.39" width="14.08" height="14.1" fill="#373973"/>
<rect x="1562.5" y="330.39" width="14.08" height="14.1" fill="#383b78"/>
<rect x="1575.88" y="330.39" width="14.08" height="14.1" fill="#393d7c"/>
<rect x="1589.25" y="330.39" width="14.08" height="14.1" fill="#3a3f80"/>
<rect x="1602.63" y="330.39" width="14.08" height="14.1" fill="#3b4184"/>
<rect x="1616.01" y="330.39" width="14.08" height="14.1" fill="#3c4388"/>
<rect x="1629.38" y="330.39" width="14.08" height="14.1" fill="#3c468c"/>
<rect x="1642.76" y="330.39" width="14.08" height="14.1" fill="#3c488f"/>
<rect x="1656.14" y="330.39" width="14.08" height="14.1" fill="#3c4b93"/>
<rect x="1669.51" y="330.39" width="14.08" height="14.1" fill="#3c4e96"/>
<rect x="1682.89" y="330.39" width="14.08" height="14.1" fill="#3d5199"/>
<rect x="1696.27" y="330.39" width="14.08" height="14.1" fill="#3d539c"/>
<rect x="1709.65" y="330.39" width="14.08" height="14.1" fill="#3d569f"/>
<rect x="1723.02" y="330.39" width="14.08" height="14.1" fill="#3d59a3"/>
<rect x="1736.4" y="330.39" width="14.08" height="14.1" fill="#3d5ba5"/>
<rect x="1749.78" y="330.39" width="14.08" height="14.1" fill="#3d5ea6"/>
<rect x="1763.15" y="330.39" width="14.08" height="14.1" fill="#3d60a8"/>
<rect x="1776.53" y="330.39" width="14.08" height="14.1" fill="#3d63a9"/>
<rect x="1789.91" y="330.39" width="14.08" height="14.1" fill="#3e65ab"/>
<rect x="1803.28" y="330.39" width="14.08" height="14.1" fill="#3e68ac"/>
<rect x="1816.66" y="330.39" width="14.08" height="14.1" fill="#3e6aae"/>
<rect x="1830.04" y="330.39" width="14.08" height="14.1" fill="#3e6daf"/>
<rect x="1843.42" y="330.39" width="14.08" height="14.1" fill="#3e6fb1"/>
<rect x="1856.79" y="330.39" width="14.08" height="14.1" fill="#3f71b2"/>
<rect x="1870.17" y="330.39" width="13.38" height="14.1" fill="#4074b3"/>
<rect x="1468.86" y="317" width="14.08" height="14.1" fill="#302f60"/>
<rect x="1482.24" y="317" width="14.08" height="14.1" fill="#323163"/>
<rect x="1495.61" y="317" width="14.08" height="14.1" fill="#333267"/>
<rect x="1508.99" y="317" width="14.08" height="14.1" fill="#35346b"/>
<rect x="1522.37" y="317" width="14.08" height="14.1" fill="#36376f"/>
<rect x="1535.74" y="317" width="14.08" height="14.1" fill="#373973"/>
<rect x="1549.12" y="317" width="14.08" height="14.1" fill="#383b78"/>
<rect x="1562.5" y="317" width="14.08" height="14.1" fill="#393d7c"/>
<rect x="1575.88" y="317" width="14.08" height="14.1" fill="#3a3f80"/>
<rect x="1589.25" y="317" width="14.08" height="14.1" fill="#3b4184"/>
<rect x="1602.63" y="317" width="14.08" height="14.1" fill="#3c4388"/>
<rect x="1616.01" y="317" width="14.08" height="14.1" fill="#3c468c"/>
<rect x="1629.38" y="317" width="14.08" height="14.1" fill="#3c488f"/>
<rect x="1642.76" y="317" width="14.08" height="14.1" fill="#3c4b93"/>
<rect x="1656.14" y="317" width="14.08" height="14.1" fill="#3c4e96"/>
<rect x="1669.51" y="317" width="14.08" height="14.1" fill="#3d5199"/>
<rect x="1682.89" y="317" width="14.08" height="14.1" fill="#3d539c"/>
<rect x="1696.27" y="317" width="14.08" height="14.1" fill="#3d569f"/>
<rect x="1709.65" y="317" width="14.08" height="14.1" fill="#3d59a3"/>
<rect x="1723.02" y="317" width="14.08" height="14.1" fill="#3d5ba5"/>
<rect x="1736.4" y="317" width="14.08" height="14.1" fill="#3d5ea6"/>
<rect x="1749.78" y="317" width="14.08" height="14.1" fill="#3d60a8"/>
<rect x="1763.15" y="317" width="14.08" height="14.1" fill="#3d63a9"/>
<rect x="1776.53" y="317" width="14.08" height="14.1" fill="#3e65ab"/>
<rect x="1789.91" y="317" width="14.08" height="14.1" fill="#3e68ac"/>
<rect x="1803.28" y="317" width="14.08" height="14.1" fill="#3e6aae"/>
<rect x="1816.66" y="317" width="14.08" height="14.1" fill="#3e6daf"/>
<rect x="1830.04" y="317" width="14.08" height="14.1" fill="#3e6fb1"/>
<rect x="1843.42" y="317" width="14.08" height="14.1" fill="#3f71b2"/>
<rect x="1856.79" y="317" width="14.08" height="14.1" fill="#4074b3"/>
<rect x="1870.17" y="317" width="13.38" height="14.1" fill="#4176b3"/>
<rect x="1468.86" y="303.6" width="14.08" height="14.1" fill="#323163"/>
<rect x="1482.24" y="303.6" width="14.08" height="14.1" fill="#333267"/>
<rect x="1495.61" y="303.6" width="14.08" height="14.1" fill="#35346b"/>
<rect x="1508.99" y="303.6" width="14.08" height="14.1" fill="#36376f"/>
<rect x="1522.37" y="303.6" width="14.08" height="14.1" fill="#373973"/>
<rect x="1535.74" y="303.6" width="14.08" height="14.1" fill="#383b78"/>
<rect x="1549.12" y="303.6" width="14.08" height="14.1" fill="#393d7c"/>
<rect x="1562.5" y="303.6" width="14.08" height="14.1" fill="#3a3f80"/>
<rect x="1575.88" y="303.6" width="14.08" height="14.1" fill="#3b4184"/>
<rect x="1589.25" y="303.6" width="14.08" height="14.1" fill="#3c4388"/>
<rect x="1602.63" y="303.6" width="14.08" height="14.1" fill="#3c468c"/>
<rect x="1616.01" y="303.6" width="14.08" height="14.1" fill="#3c488f"/>
<rect x="1629.38" y="303.6" width="14.08" height="14.1" fill="#3c4b93"/>
<rect x="1642.76" y="303.6" width="14.08" height="14.1" fill="#3c4e96"/>
<rect x="1656.14" y="303.6" width="14.08" height="14.1" fill="#3d5199"/>
<rect x="1669.51" y="303.6" width="14.08" height="14.1" fill="#3d539c"/>
<rect x="1682.89" y="303.6" width="14.08" height="14.1" fill="#3d569f"/>
<rect x="1696.27" y="303.6" width="14.08" height="14.1" fill="#3d59a3"/>
<rect x="1709.65" y="303.6" width="14.08" height="14.1" fill="#3d5ba5"/>
<rect x="1723.02" y="303.6" width="14.08" height="14.1" fill="#3d5ea6"/>
<rect x="1736.4" y="303.6" width="14.08" height="14.1" fill="#3d60a8"/>
<rect x="1749.78" y="303.6" width="14.08" height="14.1" fill="#3d63a9"/>
<rect x="1763.15" y="303.6" width="14.08" height="14.1" fill="#3e65ab"/>
<rect x="1776.53" y="303.6" width="14.08" height="14.1" fill="#3e68ac"/>
<rect x="1789.91" y="303.6" width="14.08" height="14.1" fill="#3e6aae"/>
<rect x="1803.28" y="303.6" width="14.08" height="14.1" fill="#3e6daf"/>
<rect x="1816.66" y="303.6" width="14.08" height="14.1" fill="#3e6fb1"/>
<rect x="1830.04" y="303.6" width="14.08" height="14.1" fill="#3f71b2"/>
<rect x="1843.42" y="303.6" width="14.08" height="14.1" fill="#4074b3"/>
<rect x="1856.79" y="303.6" width="14.08" height="14.1" fill="#4176b3"/>
<rect x="1870.17" y="303.6" width="13.38" height="14.1" fill="#4178b4"/>
<rect x="1468.86" y="290.2" width="14.08" height="14.1" fill="#333267"/>
<rect x="1482.24" y="290.2" width="14.08" height="14.1" fill="#35346b"/>
<rect x="1495.61" y="290.2" width="14.08" height="14.1" fill="#36376f"/>
<rect x="1508.99" y="290.2" width="14.08" height="14.1" fill="#373973"/>
<rect x="1522.37" y="290.2" width="14.08" height="14.1" fill="#383b78"/>
<rect x="1535.74" y="290.2" width="14.08" height="14.1" fill="#393d7c"/>
<rect x="1549.12" y="290.2" width="14.08" height="14.1" fill="#3a3f80"/>
<rect x="1562.5" y="290.2" width="14.08" height="14.1" fill="#3b4184"/>
<rect x="1575.88" y="290.2" width="14.08" height="14.1" fill="#3c4388"/>
<rect x="1589.25" y="290.2" width="14.08" height="14.1" fill="#3c468c"/>
<rect x="1602.63" y="290.2" width="14.08" height="14.1" fill="#3c488f"/>
<rect x="1616.01" y="290.2" width="14.08" height="14.1" fill="#3c4b93"/>
<rect x="1629.38" y="290.2" width="14.08" height="14.1" fill="#3c4e96"/>
<rect x="1642.76" y="290.2" width="14.08" height="14.1" fill="#3d5199"/>
<rect x="1656.14" y="290.2" width="14.08" height="14.1" fill="#3d539c"/>
<rect x="1669.51" y="290.2" width="14.08" height="14.1" fill="#3d569f"/>
<rect x="1682.89" y="290.2" width="14.08" height="14.1" fill="#3d59a3"/>
<rect x="1696.27" y="290.2" width="14.08" height="14.1" fill="#3d5ba5"/>
<rect x="1709.65" y="290.2" width="14.08" height="14.1" fill="#3d5ea6"/>
<rect x="1723.02" y="290.2" width="14.08" height="14.1" fill="#3d60a8"/>
<rect x="1736.4" y="290.2" width="14.08" height="14.1" fill="#3d63a9"/>
<rect x="1749.78" y="290.2" width="14.08" height="14.1" fill="#3e65ab"/>
<rect x="1763.15" y="290.2" width="14.08" height="14.1" fill="#3e68ac"/>
<rect x="1776.53" y="290.2" width="14.08" height="14.1" fill="#3e6aae"/>
<rect x="1789.91" y="290.2" width="14.08" height="14.1" fill="#3e6daf"/>
<rect x="1803.28" y="290.2" width="14.08" height="14.1" fill="#3e6fb1"/>
<rect x="1816.66" y="290.2" width="14.08" height="14.1" fill="#3f71b2"/>
<rect x="1830.04" y="290.2" width="14.08" height="14.1" fill="#4074b3"/>
<rect x="1843.42" y="290.2" width="14.08" height="14.1" fill="#4176b3"/>
<rect x="1856.79" y="290.2" width="14.08" height="14.1" fill="#4178b4"/>
<rect x="1870.17" y="290.2" width="13.38" height="14.1" fill="#427ab5"/>
<rect x="1468.86" y="276.81" width="14.08" height="14.1" fill="#35346b"/>
<rect x="1482.24" y="276.81" width="14.08" height="14.1" fill="#36376f"/>
<rect x="1495.61" y="276.81" width="14.08" height="14.1" fill="#373973"/>
<rect x="1508.99" y="276.81" width="14.08" height="14.1" fill="#383b78"/>
<rect x="1522.37" y="276.81" width="14.08" height="14.1" fill="#393d7c"/>
<rect x="1535.74" y="276.81" width="14.08" height="14.1" fill="#3a3f80"/>
<rect x="1549.12" y="276.81" width="14.08" height="14.1" fill="#3b4184"/>
<rect x="1562.5" y="276.81" width="14.08" height="14.1" fill="#3c4388"/>
<rect x="1575.88" y="276.81" width="14.08" height="14.1" fill="#3c468c"/>
<rect x="1589.25" y="276.81" width="14.08" height="14.1" fill="#3c488f"/>
<rect x="1602.63" y="276.81" width="14.08" height="14.1" fill="#3c4b93"/>
<rect x="1616.01" y="276.81" width="14.08" height="14.1" fill="#3c4e96"/>
<rect x="1629.38" y="276.81" width="14.08" height="14.1" fill="#3d5199"/>
<rect x="1642.76" y="276.81" width="14.08" height="14.1" fill="#3d539c"/>
<rect x="1656.14" y="276.81" width="14.08" height="14.1" fill="#3d569f"/>
<rect x="1669.51" y="276.81" width="14.08" height="14.1" fill="#3d59a3"/>
<rect x="1682.89" y="276.81" width="14.08" height="14.1" fill="#3d5ba5"/>
<rect x="1696.27" y="276.81" width="14.08" height="14.1" fill="#3d5ea6"/>
<rect x="1709.65" y="276.81" width="14.08" height="14.1" fill="#3d60a8"/>
<rect x="1723.02" y="276.81" width="14.08" height="14.1" fill="#3d63a9"/>
<rect x="1736.4" y="276.81" width="14.08" height="14.1" fill="#3e65ab"/>
<rect x="1749.78" y="276.81" width="14.08" height="14.1" fill="#3e68ac"/>
<rect x="1763.15" y="276.81" width="14.08" height="14.1" fill="#3e6aae"/>
<rect x="1776.53" y="276.81" width="14.08" height="14.1" fill="#3e6daf"/>
<rect x="1789.91" y="276.81" width="14.08" height="14.1" fill="#3e6fb1"/>
<rect x="1803.28" y="276.81" width="14.08" height="14.1" fill="#3f71b2"/>
<rect x="1816.66" y="276.81" width="14.08" height="14.1" fill="#4074b3"/>
<rect x="1830.04" y="276.81" width="14.08" height="14.1" fill="#4176b3"/>
<rect x="1843.42" y="276.81" width="14.08" height="14.1" fill="#4178b4"/>
<rect x="1856.79" y="276.81" width="14.08" height="14.1" fill="#427ab5"/>
<rect x="1870.17" y="276.81" width="13.38" height="14.1" fill="#437db6"/>
<rect x="1468.86" y="263.41" width="14.08" height="14.1" fill="#36376f"/>
<rect x="1482.24" y="263.41" width="14.08" height="14.1" fill="#373973"/>
<rect x="1495.61" y="263.41" width="14.08" height="14.1" fill="#383b78"/>
<rect x="1508.99" y="263.41" width="14.08" height="14.1" fill="#393d7c"/>
<rect x="1522.37" y="263.41" width="14.08" height="14.1" fill="#3a3f80"/>
<rect x="1535.74" y="263.41" width="14.08" height="14.1" fill="#3b4184"/>
<rect x="1549.12" y="263.41" width="14.08" height="14.1" fill="#3c4388"/>
<rect x="1562.5" y="263.41" width="14.08" height="14.1" fill="#3c468c"/>
<rect x="1575.88" y="263.41" width="14.08" height="14.1" fill="#3c488f"/>
<rect x="1589.25" y="263.41" width="14.08" height="14.1" fill="#3c4b93"/>
<rect x="1602.63" y="263.41" width="14.08" height="14.1" fill="#3c4e96"/>
<rect x="1616.01" y="263.41" width="14.08" height="14.1" fill="#3d5199"/>
<rect x="1629.38" y="263.41" width="14.08" height="14.1" fill="#3d539c"/>
<rect x="1642.76" y="263.41" width="14.08" height="14.1" fill="#3d569f"/>
<rect x="1656.14" y="263.41" width="14.08" height="14.1" fill="#3d59a3"/>
<rect x="1669.51" y="263.41" width="14.08" height="14.1" fill="#3d5ba5"/>
<rect x="1682.89" y="263.41" width="14.08" height="14.1" fill="#3d5ea6"/>
<rect x="1696.27" y="263.41" width="14.08" height="14.1" fill="#3d60a8"/>
<rect x="1709.65" y="263.41" width="14.08" height="14.1" fill="#3d63a9"/>
<rect x="1723.02" y="263.41" width="14.08" height="14.1" fill="#3e65ab"/>
<rect x="1736.4" y="263.41" width="14.08" height="14.1" fill="#3e68ac"/>
<rect x="1749.78" y="263.41" width="14.08" height="14.1" fill="#3e6aae"/>
<rect x="1763.15" y="263.41" width="14.08" height="14.1" fill="#3e6daf"/>
<rect x="1776.53" y="263.41" width="14.08" height="14.1" fill="#3e6fb1"/>
<rect x="1789.91" y="263.41" width="14.08" height="14.1" fill="#3f71b2"/>
<rect x="1803.28" y="263.41" width="14.08" height="14.1" fill="#4074b3"/>
<rect x="1816.66" y="263.41" width="14.08" height="14.1" fill="#4176b3"/>
<rect x="1830.04" y="263.41" width="14.08" height="14.1" fill="#4178b4"/>
<rect x="1843.42" y="263.41" width="14.08" height="14.1" fill="#427ab5"/>
<rect x="1856.79" y="263.41" width="14.08" height="14.1" fill="#437db6"/>
<rect x="1870.17" y="263.41" width="13.38" height="14.1" fill="#447fb7"/>
<rect x="1468.86" y="250.01" width="14.08" height="14.1" fill="#373973"/>
<rect x="1482.24" y="250.01" width="14.08" height="14.1" fill="#383b78"/>
<rect x="1495.61" y="250.01" width="14.08" height="14.1" fill="#393d7c"/>
<rect x="1508.99" y="250.01" width="14.08" height="14.1" fill="#3a3f80"/>
<rect x="1522.37" y="250.01" width="14.08" height="14.1" fill="#3b4184"/>
<rect x="1535.74" y="250.01" width="14.08" height="14.1" fill="#3c4388"/>
<rect x="1549.12" y="250.01" width="14.08" height="14.1" fill="#3c468c"/>
<rect x="1562.5" y="250.01" width="14.08" height="14.1" fill="#3c488f"/>
<rect x="1575.88" y="250.01" width="14.08" height="14.1" fill="#3c4b93"/>
<rect x="1589.25" y="250.01" width="14.08" height="14.1" fill="#3c4e96"/>
<rect x="1602.63" y="250.01" width="14.08" height="14.1" fill="#3d5199"/>
<rect x="1616.01" y="250.01" width="14.08" height="14.1" fill="#3d539c"/>
<rect x="1629.38" y="250.01" width="14.08" height="14.1" fill="#3d569f"/>
<rect x="1642.76" y="250.01" width="14.08" height="14.1" fill="#3d59a3"/>
<rect x="1656.14" y="250.01" width="14.08" height="14.1" fill="#3d5ba5"/>
<rect x="1669.51" y="250.01" width="14.08" height="14.1" fill="#3d5ea6"/>
<rect x="1682.89" y="250.01" width="14.08" height="14.1" fill="#3d60a8"/>
<rect x="1696.27" y="250.01" width="14.08" height="14.1" fill="#3d63a9"/>
<rect x="1709.65" y="250.01" width="14.08" height="14.1" fill="#3e65ab"/>
<rect x="1723.02" y="250.01" width="14.08" height="14.1" fill="#3e68ac"/>
<rect x="1736.4" y="250.01" width="14.08" height="14.1" fill="#3e6aae"/>
<rect x="1749.78" y="250.01" width="14.08" height="14.1" fill="#3e6daf"/>
<rect x="1763.15" y="250.01" width="14.08" height="14.1" fill="#3e6fb1"/>
<rect x="1776.53" y="250.01" width="14.08" height="14.1" fill="#3f71b2"/>
<rect x="1789.91" y="250.01" width="14.08" height="14.1" fill="#4074b3"/>
<rect x="1803.28" y="250.01" width="14.08" height="14.1" fill="#4176b3"/>
<rect x="1816.66" y="250.01" width="14.08" height="14.1" fill="#4178b4"/>
<rect x="1830.04" y="250.01" width="14.08" height="14.1" fill="#427ab5"/>
<rect x="1843.42" y="250.01" width="14.08" height="14.1" fill="#437db6"/>
<rect x="1856.79" y="250.01" width="14.08" height="14.1" fill="#447fb7"/>
<rect x="1870.17" y="250.01" width="13.38" height="14.1" fill="#4581b8"/>
<rect x="1468.86" y="236.61" width="14.08" height="14.1" fill="#383b78"/>
<rect x="1482.24" y="236.61" width="14.08" height="14.1" fill="#393d7c"/>
<rect x="1495.61" y="236.61" width="14.08" height="14.1" fill="#3a3f80"/>
<rect x="1508.99" y="236.61" width="14.08" height="14.1" fill="#3b4184"/>
<rect x="1522.37" y="236.61" width="14.08" height="14.1" fill="#3c4388"/>
<rect x="1535.74" y="236.61" width="14.08" height="14.1" fill="#3c468c"/>
<rect x="1549.12" y="236.61" width="14.08" height="14.1" fill="#3c488f"/>
<rect x="1562.5" y="236.61" width="14.08" height="14.1" fill="#3c4b93"/>
<rect x="1575.88" y="236.61" width="14.08" height="14.1" fill="#3c4e96"/>
<rect x="1589.25" y="236.61" width="14.08" height="14.1" fill="#3d5199"/>
<rect x="1602.63" y="236.61" width="14.08" height="14.1" fill="#3d539c"/>
<rect x="1616.01" y="236.61" width="14.08" height="14.1" fill="#3d569f"/>
<rect x="1629.38" y="236.61" width="14.08" height="14.1" fill="#3d59a3"/>
<rect x="1642.76" y="236.61" width="14.08" height="14.1" fill="#3d5ba5"/>
<rect x="1656.14" y="236.61" width="14.08" height="14.1" fill="#3d5ea6"/>
<rect x="1669.51" y="236.61" width="14.08" height="14.1" fill="#3d60a8"/>
<rect x="1682.89" y="236.61" width="14.08" height="14.1" fill="#3d63a9"/>
<rect x="1696.27" y="236.61" width="14.08" height="14.1" fill="#3e65ab"/>
<rect x="1709.65" y="236.61" width="14.08" height="14.1" fill="#3e68ac"/>
<rect x="1723.02" y="236.61" width="14.08" height="14.1" fill="#3e6aae"/>
<rect x="1736.4" y="236.61" width="14.08" height="14.1" fill="#3e6daf"/>
<rect x="1749.78" y="236.61" width="14.08" height="14.1" fill="#3e6fb1"/>
<rect x="1763.15" y="236.61" width="14.08" height="14.1" fill="#3f71b2"/>
<rect x="1776.53" y="236.61" width="14.08" height="14.1" fill="#4074b3"/>
<rect x="1789.91" y="236.61" width="14.08" height="14.1" fill="#4176b3"/>
<rect x="1803.28" y="236.61" width="14.08" height="14.1" fill="#4178b4"/>
<rect x="1816.66" y="236.61" width="14.08" height="14.1" fill="#427ab5"/>
<rect x="1830.04" y="236.61" width="14.08" height="14.1" fill="#437db6"/>
<rect x="1843.42" y="236.61" width="14.08" height="14.1" fill="#447fb7"/>
<rect x="1856.79" y="236.61" width="14.08" height="14.1" fill="#4581b8"/>
<rect x="1870.17" y="236.61" width="13.38" height="14.1" fill="#4684b9"/>
<rect x="1468.86" y="223.22" width="14.08" height="14.1" fill="#393d7c"/>
<rect x="1482.24" y="223.22" width="14.08" height="14.1" fill="#3a3f80"/>
<rect x="1495.61" y="223.22" width="14.08" height="14.1" fill="#3b4184"/>
<rect x="1508.99" y="223.22" width="14.08" height="14.1" fill="#3c4388"/>
<rect x="1522.37" y="223.22" width="14.08" height="14.1" fill="#3c468c"/>
<rect x="1535.74" y="223.22" width="14.08" height="14.1" fill="#3c488f"/>
<rect x="1549.12" y="223.22" width="14.08" height="14.1" fill="#3c4b93"/>
<rect x="1562.5" y="223.22" width="14.08" height="14.1" fill="#3c4e96"/>
<rect x="1575.88" y="223.22" width="14.08" height="14.1" fill="#3d5199"/>
<rect x="1589.25" y="223.22" width="14.08" height="14.1" fill="#3d539c"/>
<rect x="1602.63" y="223.22" width="14.08" height="14.1" fill="#3d569f"/>
<rect x="1616.01" y="223.22" width="14.08" height="14.1" fill="#3d59a3"/>
<rect x="1629.38" y="223.22" width="14.08" height="14.1" fill="#3d5ba5"/>
<rect x="1642.76" y="223.22" width="14.08" height="14.1" fill="#3d5ea6"/>
<rect x="1656.14" y="223.22" width="14.08" height="14.1" fill="#3d60a8"/>
<rect x="1669.51" y="223.22" width="14.08" height="14.1" fill="#3d63a9"/>
<rect x="1682.89" y="223.22" width="14.08" height="14.1" fill="#3e65ab"/>
<rect x="1696.27" y="223.22" width="14.08" height="14.1" fill="#3e68ac"/>
<rect x="1709.65" y="223.22" width="14.08" height="14.1" fill="#3e6aae"/>
<rect x="1723.02" y="223.22" width="14.08" height="14.1" fill="#3e6daf"/>
<rect x="1736.4" y="223.22" width="14.08" height="14.1" fill="#3e6fb1"/>
<rect x="1749.78" y="223.22" width="14.08" height="14.1" fill="#3f71b2"/>
<rect x="1763.15" y="223.22" width="14.08" height="14.1" fill="#4074b3"/>
<rect x="1776.53" y="223.22" width="14.08" height="14.1" fill="#4176b3"/>
<rect x="1789.91" y="223.22" width="14.08" height="14.1" fill="#4178b4"/>
<rect x="1803.28" y="223.22" width="14.08" height="14.1" fill="#427ab5"/>
<rect x="1816.66" y="223.22" width="14.08" height="14.1" fill="#437db6"/>
<rect x="1830.04" y="223.22" width="14.08" height="14.1" fill="#447fb7"/>
<rect x="1843.42" y="223.22" width="14.08" height="14.1" fill="#4581b8"/>
<rect x="1856.79" y="223.22" width="14.08" height="14.1" fill="#4684b9"/>
<rect x="1870.17" y="223.22" width="13.38" height="14.1" fill="#4886ba"/>
<rect x="1468.86" y="209.82" width="14.08" height="14.1" fill="#3a3f80"/>
<rect x="1482.24" y="209.82" width="14.08" height="14.1" fill="#3b4184"/>
<rect x="1495.61" y="209.82" width="14.08" height="14.1" fill="#3c4388"/>
<rect x="1508.99" y="209.82" width="14.08" height="14.1" fill="#3c468c"/>
<rect x="1522.37" y="209.82" width="14.08" height="14.1" fill="#3c488f"/>
<rect x="1535.74" y="209.82" width="14.08" height="14.1" fill="#3c4b93"/>
<rect x="1549.12" y="209.82" width="14.08" height="14.1" fill="#3c4e96"/>
<rect x="1562.5" y="209.82" width="14.08" height="14.1" fill="#3d5199"/>
<rect x="1575.88" y="209.82" width="14.08" height="14.1" fill="#3d539c"/>
<rect x="1589.25" y="209.82" width="14.08" height="14.1" fill="#3d569f"/>
<rect x="1602.63" y="209.82" width="14.08" height="14.1" fill="#3d59a3"/>
<rect x="1616.01" y="209.82" width="14.08" height="14.1" fill="#3d5ba5"/>
<rect x="1629.38" y="209.82" width="14.08" height="14.1" fill="#3d5ea6"/>
<rect x="1642.76" y="209.82" width="14.08" height="14.1" fill="#3d60a8"/>
<rect x="1656.14" y="209.82" width="14.08" height="14.1" fill="#3d63a9"/>
<rect x="1669.51" y="209.82" width="14.08" height="14.1" fill="#3e65ab"/>
<rect x="1682.89" y="209.82" width="14.08" height="14.1" fill="#3e68ac"/>
<rect x="1696.27" y="209.82" width="14.08" height="14.1" fill="#3e6aae"/>
<rect x="1709.65" y="209.82" width="14.08" height="14.1" fill="#3e6daf"/>
<rect x="1723.02" y="209.82" width="14.08" height="14.1" fill="#3e6fb1"/>
<rect x="1736.4" y="209.82" width="14.08" height="14.1" fill="#3f71b2"/>
<rect x="1749.78" y="209.82" width="14.08" height="14.1" fill="#4074b3"/>
<rect x="1763.15" y="209.82" width="14.08" height="14.1" fill="#4176b3"/>
<rect x="1776.53" y="209.82" width="14.08" height="14.1" fill="#4178b4"/>
<rect x="1789.91" y="209.82" width="14.08" height="14.1" fill="#427ab5"/>
<rect x="1803.28" y="209.82" width="14.08" height="14.1" fill="#437db6"/>
<rect x="1816.66" y="209.82" width="14.08" height="14.1" fill="#447fb7"/>
<rect x="1830.04" y="209.82" width="14.08" height="14.1" fill="#4581b8"/>
<rect x="1843.42" y="209.82" width="14.08" height="14.1" fill="#4684b9"/>
<rect x="1856.79" y="209.82" width="14.08" height="14.1" fill="#4886ba"/>
<rect x="1870.17" y="209.82" width="13.38" height="14.1" fill="#4989bb"/>
<rect x="1468.86" y="196.42" width="14.08" height="14.1" fill="#3b4184"/>
<rect x="1482.24" y="196.42" width="14.08" height="14.1" fill="#3c4388"/>
<rect x="1495.61" y="196.42" width="14.08" height="14.1" fill="#3c468c"/>
<rect x="1508.99" y="196.42" width="14.08" height="14.1" fill="#3c488f"/>
<rect x="1522.37" y="196.42" width="14.08" height="14.1" fill="#3c4b93"/>
<rect x="1535.74" y="196.42" width="14.08" height="14.1" fill="#3c4e96"/>
<rect x="1549.12" y="196.42" width="14.08" height="14.1" fill="#3d5199"/>
<rect x="1562.5" y="196.42" width="14.08" height="14.1" fill="#3d539c"/>
<rect x="1575.88" y="196.42" width="14.08" height="14.1" fill="#3d569f"/>
<rect x="1589.25" y="196.42" width="14.08" height="14.1" fill="#3d59a3"/>
<rect x="1602.63" y="196.42" width="14.08" height="14.1" fill="#3d5ba5"/>
<rect x="1616.01" y="196.42" width="14.08" height="14.1" fill="#3d5ea6"/>
<rect x="1629.38" y="196.42" width="14.08" height="14.1" fill="#3d60a8"/>
<rect x="1642.76" y="196.42" width="14.08" height="14.1" fill="#3d63a9"/>
<rect x="1656.14" y="196.42" width="14.08" height="14.1" fill="#3e65ab"/>
<rect x="1669.51" y="196.42" width="14.08" height="14.1" fill="#3e68ac"/>
<rect x="1682.89" y="196.42" width="14.08" height="14.1" fill="#3e6aae"/>
<rect x="1696.27" y="196.42" width="14.08" height="14.1" fill="#3e6daf"/>
<rect x="1709.65" y="196.42" width="14.08" height="14.1" fill="#3e6fb1"/>
<rect x="1723.02" y="196.42" width="14.08" height="14.1" fill="#3f71b2"/>
<rect x="1736.4" y="196.42" width="14.08" height="14.1" fill="#4074b3"/>
<rect x="1749.78" y="196.42" width="14.08" height="14.1" fill="#4176b3"/>
<rect x="1763.15" y="196.42" width="14.08" height="14.1" fill="#4178b4"/>
<rect x="1776.53" y="196.42" width="14.08" height="14.1" fill="#427ab5"/>
<rect x="1789.91" y="196.42" width="14.08" height="14.1" fill="#437db6"/>
<rect x="1803.28" y="196.42" width="14.08" height="14.1" fill="#447fb7"/>
<rect x="1816.66" y="196.42" width="14.08" height="14.1" fill="#4581b8"/>
<rect x="1830.04" y="196.42" width="14.08" height="14.1" fill="#4684b9"/>
<rect x="1843.42" y="196.42" width="14.08" height="14.1" fill="#4886ba"/>
<rect x="1856.79" y="196.42" width="14.08" height="14.1" fill="#4989bb"/>
<rect x="1870.17" y="196.42" width="13.38" height="14.1" fill="#4b8bbc"/>
<rect x="1468.86" y="183.03" width="14.08" height="14.1" fill="#3c4388"/>
<rect x="1482.24" y="183.03" width="14.08" height="14.1" fill="#3c468c"/>
<rect x="1495.61" y="183.03" width="14.08" height="14.1" fill="#3c488f"/>
<rect x="1508.99" y="183.03" width="14.08" height="14.1" fill="#3c4b93"/>
<rect x="1522.37" y="183.03" width="14.08" height="14.1" fill="#3c4e96"/>
<rect x="1535.74" y="183.03" width="14.08" height="14.1" fill="#3d5199"/>
<rect x="1549.12" y="183.03" width="14.08" height="14.1" fill="#3d539c"/>
<rect x="1562.5" y="183.03" width="14.08" height="14.1" fill="#3d569f"/>
<rect x="1575.88" y="183.03" width="14.08" height="14.1" fill="#3d59a3"/>
<rect x="1589.25" y="183.03" width="14.08" height="14.1" fill="#3d5ba5"/>
<rect x="1602.63" y="183.03" width="14.08" height="14.1" fill="#3d5ea6"/>
<rect x="1616.01" y="183.03" width="14.08" height="14.1" fill="#3d60a8"/>
<rect x="1629.38" y="183.03" width="14.08" height="14.1" fill="#3d63a9"/>
<rect x="1642.76" y="183.03" width="14.08" height="14.1" fill="#3e65ab"/>
<rect x="1656.14" y="183.03" width="14.08" height="14.1" fill="#3e68ac"/>
<rect x="1669.51" y="183.03" width="14.08" height="14.1" fill="#3e6aae"/>
<rect x="1682.89" y="183.03" width="14.08" height="14.1" fill="#3e6daf"/>
<rect x="1696.27" y="183.03" width="14.08" height="14.1" fill="#3e6fb1"/>
<rect x="1709.65" y="183.03" width="14.08" height="14.1" fill="#3f71b2"/>
<rect x="1723.02" y="183.03" width="14.08" height="14.1" fill="#4074b3"/>
<rect x="1736.4" y="183.03" width="14.08" height="14.1" fill="#4176b3"/>
<rect x="1749.78" y="183.03" width="14.08" height="14.1" fill="#4178b4"/>
<rect x="1763.15" y="183.03" width="14.08" height="14.1" fill="#427ab5"/>
<rect x="1776.53" y="183.03" width="14.08" height="14.1" fill="#437db6"/>
<rect x="1789.91" y="183.03" width="14.08" height="14.1" fill="#447fb7"/>
<rect x="1803.28" y="183.03" width="14.08" height="14.1" fill="#4581b8"/>
<rect x="1816.66" y="183.03" width="14.08" height="14.1" fill="#4684b9"/>
<rect x="1830.04" y="183.03" width="14.08" height="14.1" fill="#4886ba"/>
<rect x="1843.42" y="183.03" width="14.08" height="14.1" fill="#4989bb"/>
<rect x="1856.79" y="183.03" width="14.08" height="14.1" fill="#4b8bbc"/>
<rect x="1870.17" y="183.03" width="13.38" height="14.1" fill="#4c8ebd"/>
<rect x="1468.86" y="169.63" width="14.08" height="14.1" fill="#3c468c"/>
<rect x="1482.24" y="169.63" width="14.08" height="14.1" fill="#3c488f"/>
<rect x="1495.61" y="169.63" width="14.08" height="14.1" fill="#3c4b93"/>
<rect x="1508.99" y="169.63" width="14.08" height="14.1" fill="#3c4e96"/>
<rect x="1522.37" y="169.63" width="14.08" height="14.1" fill="#3d5199"/>
<rect x="1535.74" y="169.63" width="14.08" height="14.1" fill="#3d539c"/>
<rect x="1549.12" y="169.63" width="14.08" height="14.1" fill="#3d569f"/>
<rect x="1562.5" y="169.63" width="14.08" height="14.1" fill="#3d59a3"/>
<rect x="1575.88" y="169.63" width="14.08" height="14.1" fill="#3d5ba5"/>
<rect x="1589.25" y="169.63" width="14.08" height="14.1" fill="#3d5ea6"/>
<rect x="1602.63" y="169.63" width="14.08" height="14.1" fill="#3d60a8"/>
<rect x="1616.01" y="169.63" width="14.08" height="14.1" fill="#3d63a9"/>
<rect x="1629.38" y="169.63" width="14.08" height="14.1" fill="#3e65ab"/>
<rect x="1642.76" y="169.63" width="14.08" height="14.1" fill="#3e68ac"/>
<rect x="1656.14" y="169.63" width="14.08" height="14.1" fill="#3e6aae"/>
<rect x="1669.51" y="169.63" width="14.08" height="14.1" fill="#3e6daf"/>
<rect x="1682.89" y="169.63" width="14.08" height="14.1" fill="#3e6fb1"/>
<rect x="1696.27" y="169.63" width="14.08" height="14.1" fill="#3f71b2"/>
<rect x="1709.65" y="169.63" width="14.08" height="14.1" fill="#4074b3"/>
<rect x="1723.02" y="169.63" width="14.08" height="14.1" fill="#4176b3"/>
<rect x="1736.4" y="169.63" width="14.08" height="14.1" fill="#4178b4"/>
<rect x="1749.78" y="169.63" width="14.08" height="14.1" fill="#427ab5"/>
<rect x="1763.15" y="169.63" width="14.08" height="14.1" fill="#437db6"/>
<rect x="1776.53" y="169.63" width="14.08" height="14.1" fill="#447fb7"/>
<rect x="1789.91" y="169.63" width="14.08" height="14.1" fill="#4581b8"/>
<rect x="1803.28" y="169.63" width="14.08" height="14.1" fill="#4684b9"/>
<rect x="1816.66" y="169.63" width="14.08" height="14.1" fill="#4886ba"/>
<rect x="1830.04" y="169.63" width="14.08" height="14.1" fill="#4989bb"/>
<rect x="1843.42" y="169.63" width="14.08" height="14.1" fill="#4b8bbc"/>
<rect x="1856.79" y="169.63" width="14.08" height="14.1" fill="#4c8ebd"/>
<rect x="1870.17" y="169.63" width="13.38" height="14.1" fill="#4e90be"/>
<rect x="1468.86" y="156.23" width="14.08" height="14.1" fill="#3c488f"/>
<rect x="1482.24" y="156.23" width="14.08" height="14.1" fill="#3c4b93"/>
<rect x="1495.61" y="156.23" width="14.08" height="14.1" fill="#3c4e96"/>
<rect x="1508.99" y="156.23" width="14.08" height="14.1" fill="#3d5199"/>
<rect x="1522.37" y="156.23" width="14.08" height="14.1" fill="#3d539c"/>
<rect x="1535.74" y="156.23" width="14.08" height="14.1" fill="#3d569f"/>
<rect x="1549.12" y="156.23" width="14.08" height="14.1" fill="#3d59a3"/>
<rect x="1562.5" y="156.23" width="14.08" height="14.1" fill="#3d5ba5"/>
<rect x="1575.88" y="156.23" width="14.08" height="14.1" fill="#3d5ea6"/>
<rect x="1589.25" y="156.23" width="14.08" height="14.1" fill="#3d60a8"/>
<rect x="1602.63" y="156.23" width="14.08" height="14.1" fill="#3d63a9"/>
<rect x="1616.01" y="156.23" width="14.08" height="14.1" fill="#3e65ab"/>
<rect x="1629.38" y="156.23" width="14.08" height="14.1" fill="#3e68ac"/>
<rect x="1642.76" y="156.23" width="14.08" height="14.1" fill="#3e6aae"/>
<rect x="1656.14" y="156.23" width="14.08" height="14.1" fill="#3e6daf"/>
<rect x="1669.51" y="156.23" width="14.08" height="14.1" fill="#3e6fb1"/>
<rect x="1682.89" y="156.23" width="14.08" height="14.1" fill="#3f71b2"/>
<rect x="1696.27" y="156.23" width="14.08" height="14.1" fill="#4074b3"/>
<rect x="1709.65" y="156.23" width="14.08" height="14.1" fill="#4176b3"/>
<rect x="1723.02" y="156.23" width="14.08" height="14.1" fill="#4178b4"/>
<rect x="1736.4" y="156.23" width="14.08" height="14.1" fill="#427ab5"/>
<rect x="1749.78" y="156.23" width="14.08" height="14.1" fill="#437db6"/>
<rect x="1763.15" y="156.23" width="14.08" height="14.1" fill="#447fb7"/>
<rect x="1776.53" y="156.23" width="14.08" height="14.1" fill="#4581b8"/>
<rect x="1789.91" y="156.23" width="14.08" height="14.1" fill="#4684b9"/>
<rect x="1803.28" y="156.23" width="14.08" height="14.1" fill="#4886ba"/>
<rect x="1816.66" y="156.23" width="14.08" height="14.1" fill="#4989bb"/>
<rect x="1830.04" y="156.23" width="14.08" height="14.1" fill="#4b8bbc"/>
<rect x="1843.42" y="156.23" width="14.08" height="14.1" fill="#4c8ebd"/>
<rect x="1856.79" y="156.23" width="14.08" height="14.1" fill="#4e90be"/>
<rect x="1870.17" y="156.23" width="13.38" height="14.1" fill="#4f93bf"/>
<rect x="1468.86" y="142.83" width="14.08" height="14.1" fill="#3c4b93"/>
<rect x="1482.24" y="142.83" width="14.08" height="14.1" fill="#3c4e96"/>
<rect x="1495.61" y="142.83" width="14.08" height="14.1" fill="#3d5199"/>
<rect x="1508.99" y="142.83" width="14.08" height="14.1" fill="#3d539c"/>
<rect x="1522.37" y="142.83" width="14.08" height="14.1" fill="#3d569f"/>
<rect x="1535.74" y="142.83" width="14.08" height="14.1" fill="#3d59a3"/>
<rect x="1549.12" y="142.83" width="14.08" height="14.1" fill="#3d5ba5"/>
<rect x="1562.5" y="142.83" width="14.08" height="14.1" fill="#3d5ea6"/>
<rect x="1575.88" y="142.83" width="14.08" height="14.1" fill="#3d60a8"/>
<rect x="1589.25" y="142.83" width="14.08" height="14.1" fill="#3d63a9"/>
<rect x="1602.63" y="142.83" width="14.08" height="14.1" fill="#3e65ab"/>
<rect x="1616.01" y="142.83" width="14.08" height="14.1" fill="#3e68ac"/>
<rect x="1629.38" y="142.83" width="14.08" height="14.1" fill="#3e6aae"/>
<rect x="1642.76" y="142.83" width="14.08" height="14.1" fill="#3e6daf"/>
<rect x="1656.14" y="142.83" width="14.08" height="14.1" fill="#3e6fb1"/>
<rect x="1669.51" y="142.83" width="14.08" height="14.1" fill="#3f71b2"/>
<rect x="1682.89" y="142.83" width="14.08" height="14.1" fill="#4074b3"/>
<rect x="1696.27" y="142.83" width="14.08" height="14.1" fill="#4176b3"/>
<rect x="1709.65" y="142.83" width="14.08" height="14.1" fill="#4178b4"/>
<rect x="1723.02" y="142.83" width="14.08" height="14.1" fill="#427ab5"/>
<rect x="1736.4" y="142.83" width="14.08" height="14.1" fill="#437db6"/>
<rect x="1749.78" y="142.83" width="14.08" height="14.1" fill="#447fb7"/>
<rect x="1763.15" y="142.83" width="14.08" height="14.1" fill="#4581b8"/>
<rect x="1776.53" y="142.83" width="14.08" height="14.1" fill="#4684b9"/>
<rect x="1789.91" y="142.83" width="14.08" height="14.1" fill="#4886ba"/>
<rect x="1803.28" y="142.83" width="14.08" height="14.1" fill="#4989bb"/>
<rect x="1816.66" y="142.83" width="14.08" height="14.1" fill="#4b8bbc"/>
<rect x="1830.04" y="142.83" width="14.08" height="14.1" fill="#4c8ebd"/>
<rect x="1843.42" y="142.83" width="14.08" height="14.1" fill="#4e90be"/>
<rect x="1856.79" y="142.83" width="14.08" height="14.1" fill="#4f93bf"/>
<rect x="1870.17" y="142.83" width="13.38" height="14.1" fill="#5195c0"/>
<rect x="1468.86" y="129.44" width="14.08" height="14.1" fill="#3c4e96"/>
<rect x="1482.24" y="129.44" width="14.08" height="14.1" fill="#3d5199"/>
<rect x="1495.61" y="129.44" width="14.08" height="14.1" fill="#3d539c"/>
<rect x="1508.99" y="129.44" width="14.08" height="14.1" fill="#3d569f"/>
<rect x="1522.37" y="129.44" width="14.08" height="14.1" fill="#3d59a3"/>
<rect x="1535.74" y="129.44" width="14.08" height="14.1" fill="#3d5ba5"/>
<rect x="1549.12" y="129.44" width="14.08" height="14.1" fill="#3d5ea6"/>
<rect x="1562.5" y="129.44" width="14.08" height="14.1" fill="#3d60a8"/>
<rect x="1575.88" y="129.44" width="14.08" height="14.1" fill="#3d63a9"/>
<rect x="1589.25" y="129.44" width="14.08" height="14.1" fill="#3e65ab"/>
<rect x="1602.63" y="129.44" width="14.08" height="14.1" fill="#3e68ac"/>
<rect x="1616.01" y="129.44" width="14.08" height="14.1" fill="#3e6aae"/>
<rect x="1629.38" y="129.44" width="14.08" height="14.1" fill="#3e6daf"/>
<rect x="1642.76" y="129.44" width="14.08" height="14.1" fill="#3e6fb1"/>
<rect x="1656.14" y="129.44" width="14.08" height="14.1" fill="#3f71b2"/>
<rect x="1669.51" y="129.44" width="14.08" height="14.1" fill="#4074b3"/>
<rect x="1682.89" y="129.44" width="14.08" height="14.1" fill="#4176b3"/>
<rect x="1696.27" y="129.44" width="14.08" height="14.1" fill="#4178b4"/>
<rect x="1709.65" y="129.44" width="14.08" height="14.1" fill="#427ab5"/>
<rect x="1723.02" y="129.44" width="14.08" height="14.1" fill="#437db6"/>
<rect x="1736.4" y="129.44" width="14.08" height="14.1" fill="#447fb7"/>
<rect x="1749.78" y="129.44" width="14.08" height="14.1" fill="#4581b8"/>
<rect x="1763.15" y="129.44" width="14.08" height="14.1" fill="#4684b9"/>
<rect x="1776.53" y="129.44" width="14.08" height="14.1" fill="#4886ba"/>
<rect x="1789.91" y="129.44" width="14.08" height="14.1" fill="#4989bb"/>
<rect x="1803.28" y="129.44" width="14.08" height="14.1" fill="#4b8bbc"/>
<rect x="1816.66" y="129.44" width="14.08" height="14.1" fill="#4c8ebd"/>
<rect x="1830.04" y="129.44" width="14.08" height="14.1" fill="#4e90be"/>
<rect x="1843.42" y="129.44" width="14.08" height="14.1" fill="#4f93bf"/>
<rect x="1856.79" y="129.44" width="14.08" height="14.1" fill="#5195c0"/>
<rect x="1870.17" y="129.44" width="13.38" height="14.1" fill="#5397c1"/>
<rect x="1468.86" y="116.04" width="14.08" height="14.1" fill="#3d5199"/>
<rect x="1482.24" y="116.04" width="14.08" height="14.1" fill="#3d539c"/>
<rect x="1495.61" y="116.04" width="14.08" height="14.1" fill="#3d569f"/>
<rect x="1508.99" y="116.04" width="14.08" height="14.1" fill="#3d59a3"/>
<rect x="1522.37" y="116.04" width="14.08" height="14.1" fill="#3d5ba5"/>
<rect x="1535.74" y="116.04" width="14.08" height="14.1" fill="#3d5ea6"/>
<rect x="1549.12" y="116.04" width="14.08" height="14.1" fill="#3d60a8"/>
<rect x="1562.5" y="116.04" width="14.08" height="14.1" fill="#3d63a9"/>
<rect x="1575.88" y="116.04" width="14.08" height="14.1" fill="#3e65ab"/>
<rect x="1589.25" y="116.04" width="14.08" height="14.1" fill="#3e68ac"/>
<rect x="1602.63" y="116.04" width="14.08" height="14.1" fill="#3e6aae"/>
<rect x="1616.01" y="116.04" width="14.08" height="14.1" fill="#3e6daf"/>
<rect x="1629.38" y="116.04" width="14.08" height="14.1" fill="#3e6fb1"/>
<rect x="1642.76" y="116.04" width="14.08" height="14.1" fill="#3f71b2"/>
<rect x="1656.14" y="116.04" width="14.08" height="14.1" fill="#4074b3"/>
<rect x="1669.51" y="116.04" width="14.08" height="14.1" fill="#4176b3"/>
<rect x="1682.89" y="116.04" width="14.08" height="14.1" fill="#4178b4"/>
<rect x="1696.27" y="116.04" width="14.08" height="14.1" fill="#427ab5"/>
<rect x="1709.65" y="116.04" width="14.08" height="14.1" fill="#437db6"/>
<rect x="1723.02" y="116.04" width="14.08" height="14.1" fill="#447fb7"/>
<rect x="1736.4" y="116.04" width="14.08" height="14.1" fill="#4581b8"/>
<rect x="1749.78" y="116.04" width="14.08" height="14.1" fill="#4684b9"/>
<rect x="1763.15" y="116.04" width="14.08" height="14.1" fill="#4886ba"/>
<rect x="1776.53" y="116.04" width="14.08" height="14.1" fill="#4989bb"/>
<rect x="1789.91" y="116.04" width="14.08" height="14.1" fill="#4b8bbc"/>
<rect x="1803.28" y="116.04" width="14.08" height="14.1" fill="#4c8ebd"/>
<rect x="1816.66" y="116.04" width="14.08" height="14.1" fill="#4e90be"/>
<rect x="1830.04" y="116.04" width="14.08" height="14.1" fill="#4f93bf"/>
<rect x="1843.42" y="116.04" width="14.08" height="14.1" fill="#5195c0"/>
<rect x="1856.79" y="116.04" width="14.08" height="14.1" fill="#5397c1"/>
<rect x="1870.17" y="116.04" width="13.38" height="14.1" fill="#559ac2"/>
<rect x="1468.86" y="102.64" width="14.08" height="14.1" fill="#3d539c"/>
<rect x="1482.24" y="102.64" width="14.08" height="14.1" fill="#3d569f"/>
<rect x="1495.61" y="102.64" width="14.08" height="14.1" fill="#3d59a3"/>
<rect x="1508.99" y="102.64" width="14.08" height="14.1" fill="#3d5ba5"/>
<rect x="1522.37" y="102.64" width="14.08" height="14.1" fill="#3d5ea6"/>
<rect x="1535.74" y="102.64" width="14.08" height="14.1" fill="#3d60a8"/>
<rect x="1549.12" y="102.64" width="14.08" height="14.1" fill="#3d63a9"/>
<rect x="1562.5" y="102.64" width="14.08" height="14.1" fill="#3e65ab"/>
<rect x="1575.88" y="102.64" width="14.08" height="14.1" fill="#3e68ac"/>
<rect x="1589.25" y="102.64" width="14.08" height="14.1" fill="#3e6aae"/>
<rect x="1602.63" y="102.64" width="14.08" height="14.1" fill="#3e6daf"/>
<rect x="1616.01" y="102.64" width="14.08" height="14.1" fill="#3e6fb1"/>
<rect x="1629.38" y="102.64" width="14.08" height="14.1" fill="#3f71b2"/>
<rect x="1642.76" y="102.64" width="14.08" height="14.1" fill="#4074b3"/>
<rect x="1656.14" y="102.64" width="14.08" height="14.1" fill="#4176b3"/>
<rect x="1669.51" y="102.64" width="14.08" height="14.1" fill="#4178b4"/>
<rect x="1682.89" y="102.64" width="14.08" height="14.1" fill="#427ab5"/>
<rect x="1696.27" y="102.64" width="14.08" height="14.1" fill="#437db6"/>
<rect x="1709.65" y="102.64" width="14.08" height="14.1" fill="#447fb7"/>
<rect x="1723.02" y="102.64" width="14.08" height="14.1" fill="#4581b8"/>
<rect x="1736.4" y="102.64" width="14.08" height="14.1" fill="#4684b9"/>
<rect x="1749.78" y="102.64" width="14.08" height="14.1" fill="#4886ba"/>
<rect x="1763.15" y="102.64" width="14.08" height="14.1" fill="#4989bb"/>
<rect x="1776.53" y="102.64" width="14.08" height="14.1" fill="#4b8bbc"/>
<rect x="1789.91" y="102.64" width="14.08" height="14.1" fill="#4c8ebd"/>
<rect x="1803.28" y="102.64" width="14.08" height="14.1" fill="#4e90be"/>
<rect x="1816.66" y="102.64" width="14.08" height="14.1" fill="#4f93bf"/>
<rect x="1830.04" y="102.64" width="14.08" height="14.1" fill="#5195c0"/>
<rect x="1843.42" y="102.64" width="14.08" height="14.1" fill="#5397c1"/>
<rect x="1856.79" y="102.64" width="14.08" height="14.1" fill="#559ac2"/>
<rect x="1870.17" y="102.64" width="13.38" height="14.1" fill="#589cc3"/>
<rect x="1468.86" y="89.25" width="14.08" height="14.1" fill="#3d569f"/>
<rect x="1482.24" y="89.25" width="14.08" height="14.1" fill="#3d59a3"/>
<rect x="1495.61" y="89.25" width="14.08" height="14.1" fill="#3d5ba5"/>
<rect x="1508.99" y="89.25" width="14.08" height="14.1" fill="#3d5ea6"/>
<rect x="1522.37" y="89.25" width="14.08" height="14.1" fill="#3d60a8"/>
<rect x="1535.74" y="89.25" width="14.08" height="14.1" fill="#3d63a9"/>
<rect x="1549.12" y="89.25" width="14.08" height="14.1" fill="#3e65ab"/>
<rect x="1562.5" y="89.25" width="14.08" height="14.1" fill="#3e68ac"/>
<rect x="1575.88" y="89.25" width="14.08" height="14.1" fill="#3e6aae"/>
<rect x="1589.25" y="89.25" width="14.08" height="14.1" fill="#3e6daf"/>
<rect x="1602.63" y="89.25" width="14.08" height="14.1" fill="#3e6fb1"/>
<rect x="1616.01" y="89.25" width="14.08" height="14.1" fill="#3f71b2"/>
<rect x="1629.38" y="89.25" width="14.08" height="14.1" fill="#4074b3"/>
<rect x="1642.76" y="89.25" width="14.08" height="14.1" fill="#4176b3"/>
<rect x="1656.14" y="89.25" width="14.08" height="14.1" fill="#4178b4"/>
<rect x="1669.51" y="89.25" width="14.08" height="14.1" fill="#427ab5"/>
<rect x="1682.89" y="89.25" width="14.08" height="14.1" fill="#437db6"/>
<rect x="1696.27" y="89.25" width="14.08" height="14.1" fill="#447fb7"/>
<rect x="1709.65" y="89.25" width="14.08" height="14.1" fill="#4581b8"/>
<rect x="1723.02" y="89.25" width="14.08" height="14.1" fill="#4684b9"/>
<rect x="1736.4" y="89.25" width="14.08" height="14.1" fill="#4886ba"/>
<rect x="1749.78" y="89.25" width="14.08" height="14.1" fill="#4989bb"/>
<rect x="1763.15" y="89.25" width="14.08" height="14.1" fill="#4b8bbc"/>
<rect x="1776.53" y="89.25" width="14.08" height="14.1" fill="#4c8ebd"/>
<rect x="1789.91" y="89.25" width="14.08" height="14.1" fill="#4e90be"/>
<rect x="1803.28" y="89.25" width="14.08" height="14.1" fill="#4f93bf"/>
<rect x="1816.66" y="89.25" width="14.08" height="14.1" fill="#5195c0"/>
<rect x="1830.04" y="89.25" width="14.08" height="14.1" fill="#5397c1"/>
<rect x="1843.42" y="89.25" width="14.08" height="14.1" fill="#559ac2"/>
<rect x="1856.79" y="89.25" width="14.08" height="14.1" fill="#589cc3"/>
<rect x="1870.17" y="89.25" width="13.38" height="14.1" fill="#5a9fc4"/>
<rect x="1468.86" y="75.85" width="14.08" height="14.1" fill="#3d59a3"/>
<rect x="1482.24" y="75.85" width="14.08" height="14.1" fill="#3d5ba5"/>
<rect x="1495.61" y="75.85" width="14.08" height="14.1" fill="#3d5ea6"/>
<rect x="1508.99" y="75.85" width="14.08" height="14.1" fill="#3d60a8"/>
<rect x="1522.37" y="75.85" width="14.08" height="14.1" fill="#3d63a9"/>
<rect x="1535.74" y="75.85" width="14.08" height="14.1" fill="#3e65ab"/>
<rect x="1549.12" y="75.85" width="14.08" height="14.1" fill="#3e68ac"/>
<rect x="1562.5" y="75.85" width="14.08" height="14.1" fill="#3e6aae"/>
<rect x="1575.88" y="75.85" width="14.08" height="14.1" fill="#3e6daf"/>
<rect x="1589.25" y="75.85" width="14.08" height="14.1" fill="#3e6fb1"/>
<rect x="1602.63" y="75.85" width="14.08" height="14.1" fill="#3f71b2"/>
<rect x="1616.01" y="75.85" width="14.08" height="14.1" fill="#4074b3"/>
<rect x="1629.38" y="75.85" width="14.08" height="14.1" fill="#4176b3"/>
<rect x="1642.76" y="75.85" width="14.08" height="14.1" fill="#4178b4"/>
<rect x="1656.14" y="75.85" width="14.08" height="14.1" fill="#427ab5"/>
<rect x="1669.51" y="75.85" width="14.08" height="14.1" fill="#437db6"/>
<rect x="1682.89" y="75.85" width="14.08" height="14.1" fill="#447fb7"/>
<rect x="1696.27" y="75.85" width="14.08" height="14.1" fill="#4581b8"/>
<rect x="1709.65" y="75.85" width="14.08" height="14.1" fill="#4684b9"/>
<rect x="1723.02" y="75.85" width="14.08" height="14.1" fill="#4886ba"/>
<rect x="1736.4" y="75.85" width="14.08" height="14.1" fill="#4989bb"/>
<rect x="1749.78" y="75.85" width="14.08" height="14.1" fill="#4b8bbc"/>
<rect x="1763.15" y="75.85" width="14.08" height="14.1" fill="#4c8ebd"/>
<rect x="1776.53" y="75.85" width="14.08" height="14.1" fill="#4e90be"/>
<rect x="1789.91" y="75.85" width="14.08" height="14.1" fill="#4f93bf"/>
<rect x="1803.28" y="75.85" width="14.08" height="14.1" fill="#5195c0"/>
<rect x="1816.66" y="75.85" width="14.08" height="14.1" fill="#5397c1"/>
<rect x="1830.04" y="75.85" width="14.08" height="14.1" fill="#559ac2"/>
<rect x="1843.42" y="75.85" width="14.08" height="14.1" fill="#589cc3"/>
<rect x="1856.79" y="75.85" width="14.08" height="14.1" fill="#5a9fc4"/>
<rect x="1870.17" y="75.85" width="13.38" height="14.1" fill="#5ca1c5"/>
<g fill="#fff" opacity="0.11">
<rect x="1482" y="75.85" width="1" height="415.31"/>
<rect x="1468.86" y="89" width="414.69" height="1"/>
<rect x="1495" y="75.85" width="1" height="415.31"/>
<rect x="1468.86" y="102" width="414.69" height="1"/>
<rect x="1522" y="75.85" width="1" height="415.31"/>
<rect x="1468.86" y="129" width="414.69" height="1"/>
<rect x="1468.86" y="156" width="414.69" height="1"/>
<rect x="1562" y="75.85" width="1" height="415.31"/>
<rect x="1468.86" y="169" width="414.69" height="1"/>
<rect x="1589" y="75.85" width="1" height="415.31"/>
<rect x="1468.86" y="196" width="414.69" height="1"/>
<rect x="1602" y="75.85" width="1" height="415.31"/>
<rect x="1468.86" y="223" width="414.69" height="1"/>
<rect x="1629" y="75.85" width="1" height="415.31"/>
<rect x="1468.86" y="236" width="414.69" height="1"/>
<rect x="1468.86" y="263" width="414.69" height="1"/>
<rect x="1669" y="75.85" width="1" height="415.31"/>
<rect x="1468.86" y="290" width="414.69" height="1"/>
<rect x="1696" y="75.85" width="1" height="415.31"/>
<rect x="1468.86" y="303" width="414.69" height="1"/>
<rect x="1709" y="75.85" width="1" height="415.31"/>
<rect x="1468.86" y="330" width="414.69" height="1"/>
<rect x="1736" y="75.85" width="1" height="415.31"/>
<rect x="1468.86" y="357" width="414.69" height="1"/>
<rect x="1468.86" y="370" width="414.69" height="1"/>
<rect x="1776" y="75.85" width="1" height="415.31"/>
<rect x="1468.86" y="397" width="414.69" height="1"/>
<rect x="1803" y="75.85" width="1" height="415.31"/>
<rect x="1816" y="75.85" width="1" height="415.31"/>
<rect x="1468.86" y="424" width="414.69" height="1"/>
<rect x="1468.86" y="437" width="414.69" height="1"/>
<rect x="1843" y="75.85" width="1" height="415.31"/>
<rect x="1468.86" y="464" width="414.69" height="1"/>
</g>
<path d="M495.2 377.28L481.82 377.28L468.44 363.89L388.18 363.89L374.81 350.49L361.43 350.49L334.67 323.69L334.67 296.9L321.3 283.5L321.3 82.55" fill="none" stroke="#ff3030" stroke-width="2.8" stroke-dasharray="19.599999999999998 8.399999999999999"/>
<path d="M495.2 404.08L414.94 404.08L401.56 390.68L348.05 390.68L334.67 377.28L321.3 377.28L281.17 337.09L281.17 310.3L267.79 296.9L267.79 82.55" fill="none" stroke="#ff3030" stroke-width="2.8"/>
<path d="M495.2 430.87L388.18 430.87L374.81 417.47L294.54 417.47L281.17 404.08L267.79 404.08L227.66 363.89L227.66 350.49L214.28 337.09L214.28 82.55" fill="none" stroke="#ff3030" stroke-width="2.8" stroke-dasharray="2.8 8.399999999999999 11.2 8.399999999999999"/>
<rect x="355.28" y="330.94" width="12.3" height="12.3" fill="#ff3030"/>
<polygon points="321.3,354.82 313.55,368.42 329.05,368.42" fill="#ff3030"/>
<circle cx="267.79" cy="390.68" r="6.1" fill="#ff3030"/>
<path d="M1219.98 444.12L1086.21 444.12L1072.83 430.73L1019.32 430.73L1005.95 417.33L992.57 417.33L952.44 377.14L952.44 310.15L939.06 296.76L939.06 82.4" fill="none" stroke="#ebc65a" stroke-width="1.7"/>
<polygon points="992.57,396.23 1000.27,403.93 992.57,411.63 984.87,403.93" fill="#ebc65a"/>
<path d="M1876.86 377.28L1863.48 377.28L1850.1 363.89L1769.84 363.89L1756.47 350.49L1743.09 350.49L1716.33 323.69L1716.33 296.9L1702.96 283.5L1702.96 82.55" fill="none" stroke="#ff3030" stroke-width="2.8" stroke-dasharray="19.599999999999998 8.399999999999999"/>
<path d="M1876.86 404.08L1796.6 404.08L1783.22 390.68L1729.71 390.68L1716.33 377.28L1702.96 377.28L1662.83 337.09L1662.83 310.3L1649.45 296.9L1649.45 82.55" fill="none" stroke="#ff3030" stroke-width="2.8"/>
<path d="M1876.86 430.87L1769.84 430.87L1756.47 417.47L1676.2 417.47L1662.83 404.08L1649.45 404.08L1609.32 363.89L1609.32 350.49L1595.94 337.09L1595.94 82.55" fill="none" stroke="#ff3030" stroke-width="2.8" stroke-dasharray="2.8 8.399999999999999 11.2 8.399999999999999"/>
<path d="M1876.86 444.27L1743.09 444.27L1729.71 430.87L1676.2 430.87L1662.83 417.47L1649.45 417.47L1609.32 377.28L1609.32 310.3L1595.94 296.9L1595.94 82.55" fill="none" stroke="#ebc65a" stroke-width="2.0"/>
<rect x="1736.94" y="330.94" width="12.3" height="12.3" fill="#ff3030"/>
<polygon points="1702.96,354.82 1695.21,368.42 1710.71,368.42" fill="#ff3030"/>
<circle cx="1649.45" cy="390.68" r="6.1" fill="#ff3030"/>
<polygon points="1649.45,396.38 1657.15,404.08 1649.45,411.78 1641.75,404.08" fill="#ebc65a"/>
<g style="font-size:19.5px">
<text x="93.89" y="512.3" text-anchor="middle">0</text>
<text x="80.2" y="491.46" text-anchor="end">0</text>
<text x="160.77" y="512.3" text-anchor="middle">5</text>
<text x="80.2" y="424.47" text-anchor="end">5</text>
<text x="227.66" y="512.3" text-anchor="middle">10</text>
<text x="80.2" y="357.49" text-anchor="end">10</text>
<text x="294.54" y="512.3" text-anchor="middle">15</text>
<text x="80.2" y="290.5" text-anchor="end">15</text>
<text x="361.43" y="512.3" text-anchor="middle">20</text>
<text x="80.2" y="223.52" text-anchor="end">20</text>
<text x="428.31" y="512.3" text-anchor="middle">25</text>
<text x="80.2" y="156.53" text-anchor="end">25</text>
<text x="495.2" y="512.3" text-anchor="middle">30</text>
<text x="80.2" y="89.55" text-anchor="end">30</text>
<text x="818.67" y="512.3" text-anchor="middle">0</text>
<text x="804.98" y="491.31" text-anchor="end">0</text>
<text x="885.55" y="512.3" text-anchor="middle">5</text>
<text x="804.98" y="424.33" text-anchor="end">5</text>
<text x="952.44" y="512.3" text-anchor="middle">10</text>
<text x="804.98" y="357.34" text-anchor="end">10</text>
<text x="1019.32" y="512.3" text-anchor="middle">15</text>
<text x="804.98" y="290.36" text-anchor="end">15</text>
<text x="1086.21" y="512.3" text-anchor="middle">20</text>
<text x="804.98" y="223.37" text-anchor="end">20</text>
<text x="1153.09" y="512.3" text-anchor="middle">25</text>
<text x="804.98" y="156.39" text-anchor="end">25</text>
<text x="1219.98" y="512.3" text-anchor="middle">30</text>
<text x="804.98" y="89.4" text-anchor="end">30</text>
<text x="1475.55" y="512.3" text-anchor="middle">0</text>
<text x="1461.86" y="491.46" text-anchor="end">0</text>
<text x="1542.43" y="512.3" text-anchor="middle">5</text>
<text x="1461.86" y="424.47" text-anchor="end">5</text>
<text x="1609.32" y="512.3" text-anchor="middle">10</text>
<text x="1461.86" y="357.49" text-anchor="end">10</text>
<text x="1676.2" y="512.3" text-anchor="middle">15</text>
<text x="1461.86" y="290.5" text-anchor="end">15</text>
<text x="1743.09" y="512.3" text-anchor="middle">20</text>
<text x="1461.86" y="223.52" text-anchor="end">20</text>
<text x="1809.97" y="512.3" text-anchor="middle">25</text>
<text x="1461.86" y="156.53" text-anchor="end">25</text>
<text x="1876.86" y="512.3" text-anchor="middle">30</text>
<text x="1461.86" y="89.55" text-anchor="end">30</text>
<defs><linearGradient id="ga" x1="0" y1="0" x2="0" y2="1"><stop offset="0" stop-color="#76bad0"/><stop offset="0.02" stop-color="#73b7ce"/><stop offset="0.03" stop-color="#6fb4cd"/><stop offset="0.05" stop-color="#6cb1cc"/><stop offset="0.07" stop-color="#69aecb"/><stop offset="0.08" stop-color="#65abc9"/><stop offset="0.1" stop-color="#62a8c8"/><stop offset="0.12" stop-color="#5fa5c7"/><stop offset="0.13" stop-color="#5ca1c5"/><stop offset="0.15" stop-color="#599ec4"/><stop offset="0.17" stop-color="#569bc3"/><stop offset="0.18" stop-color="#5397c1"/><stop offset="0.2" stop-color="#5094c0"/><stop offset="0.22" stop-color="#4e91bf"/><stop offset="0.23" stop-color="#4c8dbd"/><stop offset="0.25" stop-color="#4a8abc"/><stop offset="0.27" stop-color="#4887bb"/><stop offset="0.28" stop-color="#4683b9"/><stop offset="0.3" stop-color="#4480b8"/><stop offset="0.32" stop-color="#437db7"/><stop offset="0.33" stop-color="#427ab5"/><stop offset="0.35" stop-color="#4177b4"/><stop offset="0.37" stop-color="#4074b3"/><stop offset="0.38" stop-color="#3f71b1"/><stop offset="0.4" stop-color="#3e6eb0"/><stop offset="0.42" stop-color="#3e6bae"/><stop offset="0.43" stop-color="#3e67ac"/><stop offset="0.45" stop-color="#3e64aa"/><stop offset="0.47" stop-color="#3d61a8"/><stop offset="0.48" stop-color="#3d5da6"/><stop offset="0.5" stop-color="#3d5aa4"/><stop offset="0.52" stop-color="#3d56a0"/><stop offset="0.53" stop-color="#3d539b"/><stop offset="0.55" stop-color="#3c4f97"/><stop offset="0.57" stop-color="#3c4b93"/><stop offset="0.58" stop-color="#3c488e"/><stop offset="0.6" stop-color="#3c448a"/><stop offset="0.62" stop-color="#3b4184"/><stop offset="0.63" stop-color="#393e7f"/><stop offset="0.65" stop-color="#383b79"/><stop offset="0.67" stop-color="#373973"/><stop offset="0.68" stop-color="#35366e"/><stop offset="0.7" stop-color="#343368"/><stop offset="0.72" stop-color="#323063"/><stop offset="0.73" stop-color="#2f2e5f"/><stop offset="0.75" stop-color="#2c2c5a"/><stop offset="0.77" stop-color="#2a2955"/><stop offset="0.78" stop-color="#282651"/><stop offset="0.8" stop-color="#25244c"/><stop offset="0.82" stop-color="#222248"/><stop offset="0.83" stop-color="#202043"/><stop offset="0.85" stop-color="#1e1e3f"/><stop offset="0.87" stop-color="#1b1b3b"/><stop offset="0.88" stop-color="#191936"/><stop offset="0.9" stop-color="#161732"/><stop offset="0.92" stop-color="#13142c"/><stop offset="0.93" stop-color="#0f1127"/><stop offset="0.95" stop-color="#0c0e21"/><stop offset="0.97" stop-color="#090a1c"/><stop offset="0.98" stop-color="#050716"/><stop offset="1" stop-color="#03040f"/></linearGradient></defs>
<rect x="530" y="77.98" width="28.9" height="401.76" fill="url(#ga)"/>
<rect x="530.5" y="78.48" width="27.9" height="400.76" fill="none" stroke="#000" stroke-opacity="0.09" stroke-width="1"/>
<line x1="531" y1="478.5" x2="536.6" y2="478.5" stroke="#fff" stroke-opacity="0.85" stroke-width="1.1"/>
<line x1="553.7" y1="478.5" x2="558.8" y2="478.5" stroke="#fff" stroke-opacity="0.85" stroke-width="1.1"/>
<text x="572" y="486.1">0</text>
<line x1="531" y1="398.77" x2="536.6" y2="398.77" stroke="#fff" stroke-opacity="0.85" stroke-width="1.1"/>
<line x1="553.7" y1="398.77" x2="558.8" y2="398.77" stroke="#fff" stroke-opacity="0.85" stroke-width="1.1"/>
<text x="572" y="406.37">20</text>
<line x1="531" y1="319.04" x2="536.6" y2="319.04" stroke="#fff" stroke-opacity="0.85" stroke-width="1.1"/>
<line x1="553.7" y1="319.04" x2="558.8" y2="319.04" stroke="#fff" stroke-opacity="0.85" stroke-width="1.1"/>
<text x="572" y="326.64">40</text>
<line x1="531" y1="239.31" x2="536.6" y2="239.31" stroke="#fff" stroke-opacity="0.85" stroke-width="1.1"/>
<line x1="553.7" y1="239.31" x2="558.8" y2="239.31" stroke="#fff" stroke-opacity="0.85" stroke-width="1.1"/>
<text x="572" y="246.91">60</text>
<line x1="531" y1="159.58" x2="536.6" y2="159.58" stroke="#fff" stroke-opacity="0.85" stroke-width="1.1"/>
<line x1="553.7" y1="159.58" x2="558.8" y2="159.58" stroke="#fff" stroke-opacity="0.85" stroke-width="1.1"/>
<text x="572" y="167.18">80</text>
<line x1="531" y1="79.85" x2="536.6" y2="79.85" stroke="#fff" stroke-opacity="0.85" stroke-width="1.1"/>
<line x1="553.7" y1="79.85" x2="558.8" y2="79.85" stroke="#fff" stroke-opacity="0.85" stroke-width="1.1"/>
<text x="572" y="87.45">100</text>
<defs><linearGradient id="gb" x1="0" y1="0" x2="0" y2="1"><stop offset="0" stop-color="#76bad0"/><stop offset="0.02" stop-color="#73b7ce"/><stop offset="0.03" stop-color="#6fb4cd"/><stop offset="0.05" stop-color="#6cb1cc"/><stop offset="0.07" stop-color="#69aecb"/><stop offset="0.08" stop-color="#65abc9"/><stop offset="0.1" stop-color="#62a8c8"/><stop offset="0.12" stop-color="#5fa5c7"/><stop offset="0.13" stop-color="#5ca1c5"/><stop offset="0.15" stop-color="#599ec4"/><stop offset="0.17" stop-color="#569bc3"/><stop offset="0.18" stop-color="#5397c1"/><stop offset="0.2" stop-color="#5094c0"/><stop offset="0.22" stop-color="#4e91bf"/><stop offset="0.23" stop-color="#4c8dbd"/><stop offset="0.25" stop-color="#4a8abc"/><stop offset="0.27" stop-color="#4887bb"/><stop offset="0.28" stop-color="#4683b9"/><stop offset="0.3" stop-color="#4480b8"/><stop offset="0.32" stop-color="#437db7"/><stop offset="0.33" stop-color="#427ab5"/><stop offset="0.35" stop-color="#4177b4"/><stop offset="0.37" stop-color="#4074b3"/><stop offset="0.38" stop-color="#3f71b1"/><stop offset="0.4" stop-color="#3e6eb0"/><stop offset="0.42" stop-color="#3e6bae"/><stop offset="0.43" stop-color="#3e67ac"/><stop offset="0.45" stop-color="#3e64aa"/><stop offset="0.47" stop-color="#3d61a8"/><stop offset="0.48" stop-color="#3d5da6"/><stop offset="0.5" stop-color="#3d5aa4"/><stop offset="0.52" stop-color="#3d56a0"/><stop offset="0.53" stop-color="#3d539b"/><stop offset="0.55" stop-color="#3c4f97"/><stop offset="0.57" stop-color="#3c4b93"/><stop offset="0.58" stop-color="#3c488e"/><stop offset="0.6" stop-color="#3c448a"/><stop offset="0.62" stop-color="#3b4184"/><stop offset="0.63" stop-color="#393e7f"/><stop offset="0.65" stop-color="#383b79"/><stop offset="0.67" stop-color="#373973"/><stop offset="0.68" stop-color="#35366e"/><stop offset="0.7" stop-color="#343368"/><stop offset="0.72" stop-color="#323063"/><stop offset="0.73" stop-color="#2f2e5f"/><stop offset="0.75" stop-color="#2c2c5a"/><stop offset="0.77" stop-color="#2a2955"/><stop offset="0.78" stop-color="#282651"/><stop offset="0.8" stop-color="#25244c"/><stop offset="0.82" stop-color="#222248"/><stop offset="0.83" stop-color="#202043"/><stop offset="0.85" stop-color="#1e1e3f"/><stop offset="0.87" stop-color="#1b1b3b"/><stop offset="0.88" stop-color="#191936"/><stop offset="0.9" stop-color="#161732"/><stop offset="0.92" stop-color="#13142c"/><stop offset="0.93" stop-color="#0f1127"/><stop offset="0.95" stop-color="#0c0e21"/><stop offset="0.97" stop-color="#090a1c"/><stop offset="0.98" stop-color="#050716"/><stop offset="1" stop-color="#03040f"/></linearGradient></defs>
<rect x="1250.9" y="79.8" width="28.8" height="401.2" fill="url(#gb)"/>
<rect x="1251.4" y="80.3" width="27.8" height="400.2" fill="none" stroke="#000" stroke-opacity="0.09" stroke-width="1"/>
<line x1="1251.9" y1="428.42" x2="1257.5" y2="428.42" stroke="#fff" stroke-opacity="0.85" stroke-width="1.1"/>
<line x1="1274.5" y1="428.42" x2="1279.6" y2="428.42" stroke="#fff" stroke-opacity="0.85" stroke-width="1.1"/>
<text x="1291.7" y="436.02">1</text>
<line x1="1251.9" y1="254.89" x2="1257.5" y2="254.89" stroke="#fff" stroke-opacity="0.85" stroke-width="1.1"/>
<line x1="1274.5" y1="254.89" x2="1279.6" y2="254.89" stroke="#fff" stroke-opacity="0.85" stroke-width="1.1"/>
<text x="1291.7" y="262.49">2</text>
<line x1="1251.9" y1="81.36" x2="1257.5" y2="81.36" stroke="#fff" stroke-opacity="0.85" stroke-width="1.1"/>
<line x1="1274.5" y1="81.36" x2="1279.6" y2="81.36" stroke="#fff" stroke-opacity="0.85" stroke-width="1.1"/>
<text x="1291.7" y="88.96">3</text>
<defs><linearGradient id="gc" x1="0" y1="0" x2="0" y2="1"><stop offset="0" stop-color="#76bad0"/><stop offset="0.02" stop-color="#73b7ce"/><stop offset="0.03" stop-color="#6fb4cd"/><stop offset="0.05" stop-color="#6cb1cc"/><stop offset="0.07" stop-color="#69aecb"/><stop offset="0.08" stop-color="#65abc9"/><stop offset="0.1" stop-color="#62a8c8"/><stop offset="0.12" stop-color="#5fa5c7"/><stop offset="0.13" stop-color="#5ca1c5"/><stop offset="0.15" stop-color="#599ec4"/><stop offset="0.17" stop-color="#569bc3"/><stop offset="0.18" stop-color="#5397c1"/><stop offset="0.2" stop-color="#5094c0"/><stop offset="0.22" stop-color="#4e91bf"/><stop offset="0.23" stop-color="#4c8dbd"/><stop offset="0.25" stop-color="#4a8abc"/><stop offset="0.27" stop-color="#4887bb"/><stop offset="0.28" stop-color="#4683b9"/><stop offset="0.3" stop-color="#4480b8"/><stop offset="0.32" stop-color="#437db7"/><stop offset="0.33" stop-color="#427ab5"/><stop offset="0.35" stop-color="#4177b4"/><stop offset="0.37" stop-color="#4074b3"/><stop offset="0.38" stop-color="#3f71b1"/><stop offset="0.4" stop-color="#3e6eb0"/><stop offset="0.42" stop-color="#3e6bae"/><stop offset="0.43" stop-color="#3e67ac"/><stop offset="0.45" stop-color="#3e64aa"/><stop offset="0.47" stop-color="#3d61a8"/><stop offset="0.48" stop-color="#3d5da6"/><stop offset="0.5" stop-color="#3d5aa4"/><stop offset="0.52" stop-color="#3d56a0"/><stop offset="0.53" stop-color="#3d539b"/><stop offset="0.55" stop-color="#3c4f97"/><stop offset="0.57" stop-color="#3c4b93"/><stop offset="0.58" stop-color="#3c488e"/><stop offset="0.6" stop-color="#3c448a"/><stop offset="0.62" stop-color="#3b4184"/><stop offset="0.63" stop-color="#393e7f"/><stop offset="0.65" stop-color="#383b79"/><stop offset="0.67" stop-color="#373973"/><stop offset="0.68" stop-color="#35366e"/><stop offset="0.7" stop-color="#343368"/><stop offset="0.72" stop-color="#323063"/><stop offset="0.73" stop-color="#2f2e5f"/><stop offset="0.75" stop-color="#2c2c5a"/><stop offset="0.77" stop-color="#2a2955"/><stop offset="0.78" stop-color="#282651"/><stop offset="0.8" stop-color="#25244c"/><stop offset="0.82" stop-color="#222248"/><stop offset="0.83" stop-color="#202043"/><stop offset="0.85" stop-color="#1e1e3f"/><stop offset="0.87" stop-color="#1b1b3b"/><stop offset="0.88" stop-color="#191936"/><stop offset="0.9" stop-color="#161732"/><stop offset="0.92" stop-color="#13142c"/><stop offset="0.93" stop-color="#0f1127"/><stop offset="0.95" stop-color="#0c0e21"/><stop offset="0.97" stop-color="#090a1c"/><stop offset="0.98" stop-color="#050716"/><stop offset="1" stop-color="#03040f"/></linearGradient></defs>
<rect x="1910.95" y="83.98" width="27.95" height="401.82" fill="url(#gc)"/>
<rect x="1911.45" y="84.48" width="26.95" height="400.82" fill="none" stroke="#000" stroke-opacity="0.09" stroke-width="1"/>
<line x1="1911.95" y1="464.46" x2="1917.55" y2="464.46" stroke="#fff" stroke-opacity="0.85" stroke-width="1.1"/>
<line x1="1933.7" y1="464.46" x2="1938.8" y2="464.46" stroke="#fff" stroke-opacity="0.85" stroke-width="1.1"/>
<text x="1951" y="472.06">−10</text>
<line x1="1911.95" y1="414.61" x2="1917.55" y2="414.61" stroke="#fff" stroke-opacity="0.85" stroke-width="1.1"/>
<line x1="1933.7" y1="414.61" x2="1938.8" y2="414.61" stroke="#fff" stroke-opacity="0.85" stroke-width="1.1"/>
<text x="1951" y="422.21">−5</text>
<line x1="1911.95" y1="364.76" x2="1917.55" y2="364.76" stroke="#fff" stroke-opacity="0.85" stroke-width="1.1"/>
<line x1="1933.7" y1="364.76" x2="1938.8" y2="364.76" stroke="#fff" stroke-opacity="0.85" stroke-width="1.1"/>
<text x="1951" y="372.36">0</text>
<line x1="1911.95" y1="314.9" x2="1917.55" y2="314.9" stroke="#fff" stroke-opacity="0.85" stroke-width="1.1"/>
<line x1="1933.7" y1="314.9" x2="1938.8" y2="314.9" stroke="#fff" stroke-opacity="0.85" stroke-width="1.1"/>
<text x="1951" y="322.5">5</text>
<line x1="1911.95" y1="265.05" x2="1917.55" y2="265.05" stroke="#fff" stroke-opacity="0.85" stroke-width="1.1"/>
<line x1="1933.7" y1="265.05" x2="1938.8" y2="265.05" stroke="#fff" stroke-opacity="0.85" stroke-width="1.1"/>
<text x="1951" y="272.65">10</text>
<line x1="1911.95" y1="215.19" x2="1917.55" y2="215.19" stroke="#fff" stroke-opacity="0.85" stroke-width="1.1"/>
<line x1="1933.7" y1="215.19" x2="1938.8" y2="215.19" stroke="#fff" stroke-opacity="0.85" stroke-width="1.1"/>
<text x="1951" y="222.79">15</text>
<line x1="1911.95" y1="165.34" x2="1917.55" y2="165.34" stroke="#fff" stroke-opacity="0.85" stroke-width="1.1"/>
<line x1="1933.7" y1="165.34" x2="1938.8" y2="165.34" stroke="#fff" stroke-opacity="0.85" stroke-width="1.1"/>
<text x="1951" y="172.94">20</text>
<line x1="1911.95" y1="115.49" x2="1917.55" y2="115.49" stroke="#fff" stroke-opacity="0.85" stroke-width="1.1"/>
<line x1="1933.7" y1="115.49" x2="1938.8" y2="115.49" stroke="#fff" stroke-opacity="0.85" stroke-width="1.1"/>
<text x="1951" y="123.09">25</text>
</g>
<g style="font-size:19.5px">
<text x="531.4" y="49.8" style="font-size:19.8px">Leaking risk (%)</text>
<text x="1251.5" y="47.7">R<tspan style="font-size:13.5px" dy="4.5">e</tspan></text>
<text x="1910.5" y="34.2">Excess isolation</text>
<text x="1910.5" y="55.5">burden (days)</text>
</g>
<g style="font-size:22.9px">
<text x="294.54" y="556.5" text-anchor="middle">Isolation period for unvaccinated (days)</text>
<text transform="translate(34.6,283.5) rotate(-90)" text-anchor="middle">Isolation period for vaccinated (days)</text>
<text x="1019.32" y="556.5" text-anchor="middle">Isolation period for unvaccinated (days)</text>
<text transform="translate(759.38,283.36) rotate(-90)" text-anchor="middle">Isolation period for vaccinated (days)</text>
<text x="1676.2" y="556.5" text-anchor="middle">Isolation period for unvaccinated (days)</text>
<text transform="translate(1416.26,283.5) rotate(-90)" text-anchor="middle">Isolation period for vaccinated (days)</text>
</g>
<rect x="405.0" y="590.05" width="1242.0" height="47.85" fill="#fff" stroke="#000" stroke-width="2.1"/>
<g style="font-size:19.7px">
<text x="435.2" y="620.8">Best isolation period using threshold of</text>
<text x="873.8" y="620.8">5% leaking risk</text>
<text x="1093.0" y="620.8">10% leaking risk</text>
<text x="1325.4" y="620.8">20% leaking risk</text>
<text x="1559.8" y="620.8">R<tspan style="font-size:13.5px" dy="4.5">e</tspan><tspan dy="-4.5"> &lt; 1</tspan></text>
</g>
<rect x="810" y="614.4" width="8.2" height="1.6" fill="#ff3030"/>
<rect x="821.3" y="614.4" width="8" height="1.6" fill="#ff3030"/>
<rect x="847" y="614.4" width="8" height="1.6" fill="#ff3030"/>
<rect x="858.2" y="614.4" width="8.7" height="1.6" fill="#ff3030"/>
<rect x="830.5" y="607.4" width="15.3" height="15.3" fill="#ff3030"/>
<rect x="1047.2" y="614.4" width="38.8" height="1.6" fill="#ff3030"/>
<polygon points="1066.6,605.0 1056.4,622.7 1076.9,622.7" fill="#ff3030"/>
<rect x="1271" y="614.4" width="1.3" height="1.6" fill="#ff3030"/>
<rect x="1275.1" y="614.4" width="4.5" height="1.6" fill="#ff3030"/>
<rect x="1282.1" y="614.4" width="1.9" height="1.6" fill="#ff3030"/>
<rect x="1302" y="614.4" width="1.9" height="1.6" fill="#ff3030"/>
<rect x="1306.2" y="614.4" width="4.7" height="1.6" fill="#ff3030"/>
<rect x="1313.6" y="614.4" width="1.9" height="1.6" fill="#ff3030"/>
<rect x="1317.8" y="614.4" width="1.6" height="1.6" fill="#ff3030"/>
<circle cx="1295.1" cy="615.0" r="7.6" fill="#ff3030"/>
<rect x="1506.1" y="614.35" width="46.1" height="1.7" fill="#ebc65a"/>
<polygon points="1529.2,606.6 1537.2,615.2 1529.2,623.8 1521.2,615.2" fill="#ebc65a"/>
</svg>
</body></html>
